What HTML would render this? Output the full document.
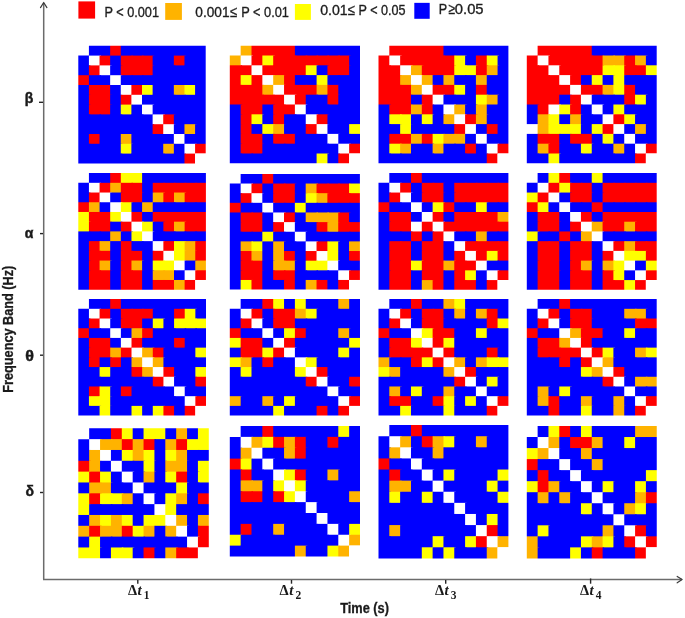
<!DOCTYPE html>
<html><head><meta charset="utf-8"><style>
html,body{margin:0;padding:0;background:#fff;}
#f{position:relative;width:685px;height:618px;overflow:hidden;background:#fff;}
svg{position:absolute;left:0;top:0;will-change:transform;}
text{font-family:"Liberation Sans",sans-serif;fill:#1a1a1a;}
.s{font-family:"Liberation Serif",serif;}
</style></head><body><div id="f">
<svg width="685" height="618" viewBox="0 0 685 618">
<defs><mask id="mb1" maskUnits="userSpaceOnUse" x="0" y="0" width="685" height="618"><path d="M88.92 45.8 L205.7 45.8 L205.7 153.6 L195.08 153.6 L195.08 163.4 L78.3 163.4 L78.3 55.6 L88.92 55.6Z" fill="#fff"/></mask>
<mask id="mb2" maskUnits="userSpaceOnUse" x="0" y="0" width="685" height="618"><path d="M240.65 45.7 L360 45.7 L360 153.5 L349.15 153.5 L349.15 163.3 L229.8 163.3 L229.8 55.5 L240.65 55.5Z" fill="#fff"/></mask>
<mask id="mb3" maskUnits="userSpaceOnUse" x="0" y="0" width="685" height="618"><path d="M389.32 45.7 L508.4 45.7 L508.4 153.5 L497.57 153.5 L497.57 163.3 L378.5 163.3 L378.5 55.5 L389.32 55.5Z" fill="#fff"/></mask>
<mask id="mb4" maskUnits="userSpaceOnUse" x="0" y="0" width="685" height="618"><path d="M537.62 45.7 L656.7 45.7 L656.7 153.5 L645.88 153.5 L645.88 163.3 L526.8 163.3 L526.8 55.5 L537.62 55.5Z" fill="#fff"/></mask>
<mask id="ma1" maskUnits="userSpaceOnUse" x="0" y="0" width="685" height="618"><path d="M88.93 173.1 L205.9 173.1 L205.9 279.98 L195.27 279.98 L195.27 289.7 L78.3 289.7 L78.3 182.82 L88.93 182.82Z" fill="#fff"/></mask>
<mask id="ma2" maskUnits="userSpaceOnUse" x="0" y="0" width="685" height="618"><path d="M240.64 173.9 L359.9 173.9 L359.9 279.96 L349.06 279.96 L349.06 289.6 L229.8 289.6 L229.8 183.54 L240.64 183.54Z" fill="#fff"/></mask>
<mask id="ma3" maskUnits="userSpaceOnUse" x="0" y="0" width="685" height="618"><path d="M389.32 173.1 L508.4 173.1 L508.4 280.08 L497.57 280.08 L497.57 289.8 L378.5 289.8 L378.5 182.82 L389.32 182.82Z" fill="#fff"/></mask>
<mask id="ma4" maskUnits="userSpaceOnUse" x="0" y="0" width="685" height="618"><path d="M537.62 173.1 L656.7 173.1 L656.7 280.08 L645.88 280.08 L645.88 289.8 L526.8 289.8 L526.8 182.82 L537.62 182.82Z" fill="#fff"/></mask>
<mask id="mt1" maskUnits="userSpaceOnUse" x="0" y="0" width="685" height="618"><path d="M88.94 299.1 L206 299.1 L206 405.89 L195.36 405.89 L195.36 415.6 L78.3 415.6 L78.3 308.81 L88.94 308.81Z" fill="#fff"/></mask>
<mask id="mt2" maskUnits="userSpaceOnUse" x="0" y="0" width="685" height="618"><path d="M240.65 299.1 L360 299.1 L360 405.89 L349.15 405.89 L349.15 415.6 L229.8 415.6 L229.8 308.81 L240.65 308.81Z" fill="#fff"/></mask>
<mask id="mt3" maskUnits="userSpaceOnUse" x="0" y="0" width="685" height="618"><path d="M389.32 299.1 L508.4 299.1 L508.4 405.89 L497.57 405.89 L497.57 415.6 L378.5 415.6 L378.5 308.81 L389.32 308.81Z" fill="#fff"/></mask>
<mask id="mt4" maskUnits="userSpaceOnUse" x="0" y="0" width="685" height="618"><path d="M537.62 299.1 L656.7 299.1 L656.7 405.89 L645.88 405.89 L645.88 415.6 L526.8 415.6 L526.8 308.81 L537.62 308.81Z" fill="#fff"/></mask>
<mask id="md1" maskUnits="userSpaceOnUse" x="0" y="0" width="685" height="618"><path d="M89.17 428.3 L208.8 428.3 L208.8 547.47 L197.93 547.47 L197.93 558.3 L78.3 558.3 L78.3 439.13 L89.17 439.13Z" fill="#fff"/></mask>
<mask id="md2" maskUnits="userSpaceOnUse" x="0" y="0" width="685" height="618"><path d="M240.65 426 L360 426 L360 545.62 L349.15 545.62 L349.15 556.5 L229.8 556.5 L229.8 436.88 L240.65 436.88Z" fill="#fff"/></mask>
<mask id="md3" maskUnits="userSpaceOnUse" x="0" y="0" width="685" height="618"><path d="M389.32 425.1 L508.4 425.1 L508.4 547.29 L497.57 547.29 L497.57 558.4 L378.5 558.4 L378.5 436.21 L389.32 436.21Z" fill="#fff"/></mask>
<mask id="md4" maskUnits="userSpaceOnUse" x="0" y="0" width="685" height="618"><path d="M537.63 426 L656.75 426 L656.75 547.37 L645.92 547.37 L645.92 558.4 L526.8 558.4 L526.8 437.03 L537.63 437.03Z" fill="#fff"/></mask></defs>
<g id="cells">
<g mask="url(#mb1)">
<rect x="86.92" y="43.8" width="14.12" height="13.3" fill="#0000ff"/>
<rect x="99.53" y="43.8" width="12.12" height="13.3" fill="#0000ff"/>
<rect x="110.15" y="43.8" width="12.12" height="13.3" fill="#ff0000"/>
<rect x="120.77" y="43.8" width="12.12" height="13.3" fill="#0000ff"/>
<rect x="131.38" y="43.8" width="12.12" height="13.3" fill="#0000ff"/>
<rect x="142" y="43.8" width="12.12" height="13.3" fill="#0000ff"/>
<rect x="152.62" y="43.8" width="12.12" height="13.3" fill="#0000ff"/>
<rect x="163.23" y="43.8" width="12.12" height="13.3" fill="#0000ff"/>
<rect x="173.85" y="43.8" width="12.12" height="13.3" fill="#0000ff"/>
<rect x="184.47" y="43.8" width="12.12" height="13.3" fill="#0000ff"/>
<rect x="195.08" y="43.8" width="12.62" height="13.3" fill="#0000ff"/>
<rect x="76.3" y="53.6" width="14.12" height="13.3" fill="#0000ff"/>
<rect x="88.92" y="55.6" width="12.12" height="11.3" fill="#ffffff"/>
<rect x="99.53" y="55.6" width="12.12" height="11.3" fill="#ff0000"/>
<rect x="110.15" y="55.6" width="12.12" height="11.3" fill="#0000ff"/>
<rect x="120.77" y="55.6" width="12.12" height="11.3" fill="#ff0000"/>
<rect x="131.38" y="55.6" width="12.12" height="11.3" fill="#ff0000"/>
<rect x="142" y="55.6" width="12.12" height="11.3" fill="#ff0000"/>
<rect x="152.62" y="55.6" width="12.12" height="11.3" fill="#0000ff"/>
<rect x="163.23" y="55.6" width="12.12" height="11.3" fill="#0000ff"/>
<rect x="173.85" y="55.6" width="12.12" height="11.3" fill="#ff0000"/>
<rect x="184.47" y="55.6" width="12.12" height="11.3" fill="#0000ff"/>
<rect x="195.08" y="55.6" width="12.62" height="11.3" fill="#0000ff"/>
<rect x="76.3" y="65.4" width="14.12" height="11.3" fill="#0000ff"/>
<rect x="88.92" y="65.4" width="12.12" height="11.3" fill="#ff0000"/>
<rect x="99.53" y="65.4" width="12.12" height="11.3" fill="#ffffff"/>
<rect x="110.15" y="65.4" width="12.12" height="11.3" fill="#0000ff"/>
<rect x="120.77" y="65.4" width="12.12" height="11.3" fill="#ff0000"/>
<rect x="131.38" y="65.4" width="12.12" height="11.3" fill="#ff0000"/>
<rect x="142" y="65.4" width="12.12" height="11.3" fill="#ff0000"/>
<rect x="152.62" y="65.4" width="12.12" height="11.3" fill="#0000ff"/>
<rect x="163.23" y="65.4" width="12.12" height="11.3" fill="#0000ff"/>
<rect x="173.85" y="65.4" width="12.12" height="11.3" fill="#0000ff"/>
<rect x="184.47" y="65.4" width="12.12" height="11.3" fill="#0000ff"/>
<rect x="195.08" y="65.4" width="12.62" height="11.3" fill="#0000ff"/>
<rect x="76.3" y="75.2" width="14.12" height="11.3" fill="#ff0000"/>
<rect x="88.92" y="75.2" width="12.12" height="11.3" fill="#0000ff"/>
<rect x="99.53" y="75.2" width="12.12" height="11.3" fill="#0000ff"/>
<rect x="110.15" y="75.2" width="12.12" height="11.3" fill="#ffffff"/>
<rect x="120.77" y="75.2" width="12.12" height="11.3" fill="#0000ff"/>
<rect x="131.38" y="75.2" width="12.12" height="11.3" fill="#0000ff"/>
<rect x="142" y="75.2" width="12.12" height="11.3" fill="#0000ff"/>
<rect x="152.62" y="75.2" width="12.12" height="11.3" fill="#0000ff"/>
<rect x="163.23" y="75.2" width="12.12" height="11.3" fill="#0000ff"/>
<rect x="173.85" y="75.2" width="12.12" height="11.3" fill="#0000ff"/>
<rect x="184.47" y="75.2" width="12.12" height="11.3" fill="#0000ff"/>
<rect x="195.08" y="75.2" width="12.62" height="11.3" fill="#0000ff"/>
<rect x="76.3" y="85" width="14.12" height="11.3" fill="#0000ff"/>
<rect x="88.92" y="85" width="12.12" height="11.3" fill="#ff0000"/>
<rect x="99.53" y="85" width="12.12" height="11.3" fill="#ff0000"/>
<rect x="110.15" y="85" width="12.12" height="11.3" fill="#0000ff"/>
<rect x="120.77" y="85" width="12.12" height="11.3" fill="#ffffff"/>
<rect x="131.38" y="85" width="12.12" height="11.3" fill="#ff0000"/>
<rect x="142" y="85" width="12.12" height="11.3" fill="#ffff00"/>
<rect x="152.62" y="85" width="12.12" height="11.3" fill="#0000ff"/>
<rect x="163.23" y="85" width="12.12" height="11.3" fill="#0000ff"/>
<rect x="173.85" y="85" width="12.12" height="11.3" fill="#ffb300"/>
<rect x="184.47" y="85" width="12.12" height="11.3" fill="#ffff00"/>
<rect x="195.08" y="85" width="12.62" height="11.3" fill="#0000ff"/>
<rect x="76.3" y="94.8" width="14.12" height="11.3" fill="#0000ff"/>
<rect x="88.92" y="94.8" width="12.12" height="11.3" fill="#ff0000"/>
<rect x="99.53" y="94.8" width="12.12" height="11.3" fill="#ff0000"/>
<rect x="110.15" y="94.8" width="12.12" height="11.3" fill="#0000ff"/>
<rect x="120.77" y="94.8" width="12.12" height="11.3" fill="#ff0000"/>
<rect x="131.38" y="94.8" width="12.12" height="11.3" fill="#ffffff"/>
<rect x="142" y="94.8" width="12.12" height="11.3" fill="#0000ff"/>
<rect x="152.62" y="94.8" width="12.12" height="11.3" fill="#0000ff"/>
<rect x="163.23" y="94.8" width="12.12" height="11.3" fill="#0000ff"/>
<rect x="173.85" y="94.8" width="12.12" height="11.3" fill="#0000ff"/>
<rect x="184.47" y="94.8" width="12.12" height="11.3" fill="#0000ff"/>
<rect x="195.08" y="94.8" width="12.62" height="11.3" fill="#0000ff"/>
<rect x="76.3" y="104.6" width="14.12" height="11.3" fill="#0000ff"/>
<rect x="88.92" y="104.6" width="12.12" height="11.3" fill="#ff0000"/>
<rect x="99.53" y="104.6" width="12.12" height="11.3" fill="#ff0000"/>
<rect x="110.15" y="104.6" width="12.12" height="11.3" fill="#0000ff"/>
<rect x="120.77" y="104.6" width="12.12" height="11.3" fill="#ffff00"/>
<rect x="131.38" y="104.6" width="12.12" height="11.3" fill="#0000ff"/>
<rect x="142" y="104.6" width="12.12" height="11.3" fill="#ffffff"/>
<rect x="152.62" y="104.6" width="12.12" height="11.3" fill="#0000ff"/>
<rect x="163.23" y="104.6" width="12.12" height="11.3" fill="#0000ff"/>
<rect x="173.85" y="104.6" width="12.12" height="11.3" fill="#0000ff"/>
<rect x="184.47" y="104.6" width="12.12" height="11.3" fill="#0000ff"/>
<rect x="195.08" y="104.6" width="12.62" height="11.3" fill="#0000ff"/>
<rect x="76.3" y="114.4" width="14.12" height="11.3" fill="#0000ff"/>
<rect x="88.92" y="114.4" width="12.12" height="11.3" fill="#0000ff"/>
<rect x="99.53" y="114.4" width="12.12" height="11.3" fill="#0000ff"/>
<rect x="110.15" y="114.4" width="12.12" height="11.3" fill="#0000ff"/>
<rect x="120.77" y="114.4" width="12.12" height="11.3" fill="#0000ff"/>
<rect x="131.38" y="114.4" width="12.12" height="11.3" fill="#0000ff"/>
<rect x="142" y="114.4" width="12.12" height="11.3" fill="#0000ff"/>
<rect x="152.62" y="114.4" width="12.12" height="11.3" fill="#ffffff"/>
<rect x="163.23" y="114.4" width="12.12" height="11.3" fill="#ff0000"/>
<rect x="173.85" y="114.4" width="12.12" height="11.3" fill="#0000ff"/>
<rect x="184.47" y="114.4" width="12.12" height="11.3" fill="#0000ff"/>
<rect x="195.08" y="114.4" width="12.62" height="11.3" fill="#0000ff"/>
<rect x="76.3" y="124.2" width="14.12" height="11.3" fill="#0000ff"/>
<rect x="88.92" y="124.2" width="12.12" height="11.3" fill="#0000ff"/>
<rect x="99.53" y="124.2" width="12.12" height="11.3" fill="#0000ff"/>
<rect x="110.15" y="124.2" width="12.12" height="11.3" fill="#0000ff"/>
<rect x="120.77" y="124.2" width="12.12" height="11.3" fill="#0000ff"/>
<rect x="131.38" y="124.2" width="12.12" height="11.3" fill="#0000ff"/>
<rect x="142" y="124.2" width="12.12" height="11.3" fill="#0000ff"/>
<rect x="152.62" y="124.2" width="12.12" height="11.3" fill="#ff0000"/>
<rect x="163.23" y="124.2" width="12.12" height="11.3" fill="#ffffff"/>
<rect x="173.85" y="124.2" width="12.12" height="11.3" fill="#0000ff"/>
<rect x="184.47" y="124.2" width="12.12" height="11.3" fill="#ffb300"/>
<rect x="195.08" y="124.2" width="12.62" height="11.3" fill="#0000ff"/>
<rect x="76.3" y="134" width="14.12" height="11.3" fill="#0000ff"/>
<rect x="88.92" y="134" width="12.12" height="11.3" fill="#ff0000"/>
<rect x="99.53" y="134" width="12.12" height="11.3" fill="#0000ff"/>
<rect x="110.15" y="134" width="12.12" height="11.3" fill="#0000ff"/>
<rect x="120.77" y="134" width="12.12" height="11.3" fill="#ffb300"/>
<rect x="131.38" y="134" width="12.12" height="11.3" fill="#0000ff"/>
<rect x="142" y="134" width="12.12" height="11.3" fill="#0000ff"/>
<rect x="152.62" y="134" width="12.12" height="11.3" fill="#0000ff"/>
<rect x="163.23" y="134" width="12.12" height="11.3" fill="#0000ff"/>
<rect x="173.85" y="134" width="12.12" height="11.3" fill="#ffffff"/>
<rect x="184.47" y="134" width="12.12" height="11.3" fill="#0000ff"/>
<rect x="195.08" y="134" width="12.62" height="11.3" fill="#0000ff"/>
<rect x="76.3" y="143.8" width="14.12" height="11.3" fill="#0000ff"/>
<rect x="88.92" y="143.8" width="12.12" height="11.3" fill="#0000ff"/>
<rect x="99.53" y="143.8" width="12.12" height="11.3" fill="#0000ff"/>
<rect x="110.15" y="143.8" width="12.12" height="11.3" fill="#0000ff"/>
<rect x="120.77" y="143.8" width="12.12" height="11.3" fill="#ffff00"/>
<rect x="131.38" y="143.8" width="12.12" height="11.3" fill="#0000ff"/>
<rect x="142" y="143.8" width="12.12" height="11.3" fill="#0000ff"/>
<rect x="152.62" y="143.8" width="12.12" height="11.3" fill="#0000ff"/>
<rect x="163.23" y="143.8" width="12.12" height="11.3" fill="#ffb300"/>
<rect x="173.85" y="143.8" width="12.12" height="11.3" fill="#0000ff"/>
<rect x="184.47" y="143.8" width="12.12" height="11.3" fill="#ffffff"/>
<rect x="195.08" y="143.8" width="12.62" height="11.3" fill="#ff0000"/>
<rect x="76.3" y="153.6" width="14.12" height="11.8" fill="#0000ff"/>
<rect x="88.92" y="153.6" width="12.12" height="11.8" fill="#0000ff"/>
<rect x="99.53" y="153.6" width="12.12" height="11.8" fill="#0000ff"/>
<rect x="110.15" y="153.6" width="12.12" height="11.8" fill="#0000ff"/>
<rect x="120.77" y="153.6" width="12.12" height="11.8" fill="#0000ff"/>
<rect x="131.38" y="153.6" width="12.12" height="11.8" fill="#0000ff"/>
<rect x="142" y="153.6" width="12.12" height="11.8" fill="#0000ff"/>
<rect x="152.62" y="153.6" width="12.12" height="11.8" fill="#0000ff"/>
<rect x="163.23" y="153.6" width="12.12" height="11.8" fill="#0000ff"/>
<rect x="173.85" y="153.6" width="12.12" height="11.8" fill="#0000ff"/>
<rect x="184.47" y="153.6" width="12.12" height="11.8" fill="#ff0000"/>
<rect x="195.08" y="153.6" width="12.62" height="11.8" fill="#ffffff"/>
</g>
<g mask="url(#mb2)">
<rect x="238.65" y="43.7" width="14.35" height="13.3" fill="#ffb300"/>
<rect x="251.5" y="43.7" width="12.35" height="13.3" fill="#ff0000"/>
<rect x="262.35" y="43.7" width="12.35" height="13.3" fill="#ff0000"/>
<rect x="273.2" y="43.7" width="12.35" height="13.3" fill="#ff0000"/>
<rect x="284.05" y="43.7" width="12.35" height="13.3" fill="#ff0000"/>
<rect x="294.9" y="43.7" width="12.35" height="13.3" fill="#0000ff"/>
<rect x="305.75" y="43.7" width="12.35" height="13.3" fill="#0000ff"/>
<rect x="316.6" y="43.7" width="12.35" height="13.3" fill="#0000ff"/>
<rect x="327.45" y="43.7" width="12.35" height="13.3" fill="#0000ff"/>
<rect x="338.3" y="43.7" width="12.35" height="13.3" fill="#0000ff"/>
<rect x="349.15" y="43.7" width="12.85" height="13.3" fill="#0000ff"/>
<rect x="227.8" y="53.5" width="14.35" height="13.3" fill="#ffb300"/>
<rect x="240.65" y="55.5" width="12.35" height="11.3" fill="#ffffff"/>
<rect x="251.5" y="55.5" width="12.35" height="11.3" fill="#ff0000"/>
<rect x="262.35" y="55.5" width="12.35" height="11.3" fill="#ffff00"/>
<rect x="273.2" y="55.5" width="12.35" height="11.3" fill="#ff0000"/>
<rect x="284.05" y="55.5" width="12.35" height="11.3" fill="#ff0000"/>
<rect x="294.9" y="55.5" width="12.35" height="11.3" fill="#ff0000"/>
<rect x="305.75" y="55.5" width="12.35" height="11.3" fill="#ff0000"/>
<rect x="316.6" y="55.5" width="12.35" height="11.3" fill="#ff0000"/>
<rect x="327.45" y="55.5" width="12.35" height="11.3" fill="#ff0000"/>
<rect x="338.3" y="55.5" width="12.35" height="11.3" fill="#ff0000"/>
<rect x="349.15" y="55.5" width="12.85" height="11.3" fill="#0000ff"/>
<rect x="227.8" y="65.3" width="14.35" height="11.3" fill="#ff0000"/>
<rect x="240.65" y="65.3" width="12.35" height="11.3" fill="#ff0000"/>
<rect x="251.5" y="65.3" width="12.35" height="11.3" fill="#ffffff"/>
<rect x="262.35" y="65.3" width="12.35" height="11.3" fill="#ff0000"/>
<rect x="273.2" y="65.3" width="12.35" height="11.3" fill="#ff0000"/>
<rect x="284.05" y="65.3" width="12.35" height="11.3" fill="#ff0000"/>
<rect x="294.9" y="65.3" width="12.35" height="11.3" fill="#ff0000"/>
<rect x="305.75" y="65.3" width="12.35" height="11.3" fill="#ffff00"/>
<rect x="316.6" y="65.3" width="12.35" height="11.3" fill="#0000ff"/>
<rect x="327.45" y="65.3" width="12.35" height="11.3" fill="#ff0000"/>
<rect x="338.3" y="65.3" width="12.35" height="11.3" fill="#ff0000"/>
<rect x="349.15" y="65.3" width="12.85" height="11.3" fill="#0000ff"/>
<rect x="227.8" y="75.1" width="14.35" height="11.3" fill="#ff0000"/>
<rect x="240.65" y="75.1" width="12.35" height="11.3" fill="#ffff00"/>
<rect x="251.5" y="75.1" width="12.35" height="11.3" fill="#ff0000"/>
<rect x="262.35" y="75.1" width="12.35" height="11.3" fill="#ffffff"/>
<rect x="273.2" y="75.1" width="12.35" height="11.3" fill="#ffb300"/>
<rect x="284.05" y="75.1" width="12.35" height="11.3" fill="#ff0000"/>
<rect x="294.9" y="75.1" width="12.35" height="11.3" fill="#0000ff"/>
<rect x="305.75" y="75.1" width="12.35" height="11.3" fill="#0000ff"/>
<rect x="316.6" y="75.1" width="12.35" height="11.3" fill="#ffff00"/>
<rect x="327.45" y="75.1" width="12.35" height="11.3" fill="#0000ff"/>
<rect x="338.3" y="75.1" width="12.35" height="11.3" fill="#0000ff"/>
<rect x="349.15" y="75.1" width="12.85" height="11.3" fill="#0000ff"/>
<rect x="227.8" y="84.9" width="14.35" height="11.3" fill="#ff0000"/>
<rect x="240.65" y="84.9" width="12.35" height="11.3" fill="#ff0000"/>
<rect x="251.5" y="84.9" width="12.35" height="11.3" fill="#ff0000"/>
<rect x="262.35" y="84.9" width="12.35" height="11.3" fill="#ffb300"/>
<rect x="273.2" y="84.9" width="12.35" height="11.3" fill="#ffffff"/>
<rect x="284.05" y="84.9" width="12.35" height="11.3" fill="#ff0000"/>
<rect x="294.9" y="84.9" width="12.35" height="11.3" fill="#ff0000"/>
<rect x="305.75" y="84.9" width="12.35" height="11.3" fill="#ff0000"/>
<rect x="316.6" y="84.9" width="12.35" height="11.3" fill="#ffb300"/>
<rect x="327.45" y="84.9" width="12.35" height="11.3" fill="#ff0000"/>
<rect x="338.3" y="84.9" width="12.35" height="11.3" fill="#0000ff"/>
<rect x="349.15" y="84.9" width="12.85" height="11.3" fill="#0000ff"/>
<rect x="227.8" y="94.7" width="14.35" height="11.3" fill="#ff0000"/>
<rect x="240.65" y="94.7" width="12.35" height="11.3" fill="#ff0000"/>
<rect x="251.5" y="94.7" width="12.35" height="11.3" fill="#ff0000"/>
<rect x="262.35" y="94.7" width="12.35" height="11.3" fill="#ff0000"/>
<rect x="273.2" y="94.7" width="12.35" height="11.3" fill="#ff0000"/>
<rect x="284.05" y="94.7" width="12.35" height="11.3" fill="#ffffff"/>
<rect x="294.9" y="94.7" width="12.35" height="11.3" fill="#ff0000"/>
<rect x="305.75" y="94.7" width="12.35" height="11.3" fill="#0000ff"/>
<rect x="316.6" y="94.7" width="12.35" height="11.3" fill="#0000ff"/>
<rect x="327.45" y="94.7" width="12.35" height="11.3" fill="#ff0000"/>
<rect x="338.3" y="94.7" width="12.35" height="11.3" fill="#0000ff"/>
<rect x="349.15" y="94.7" width="12.85" height="11.3" fill="#0000ff"/>
<rect x="227.8" y="104.5" width="14.35" height="11.3" fill="#0000ff"/>
<rect x="240.65" y="104.5" width="12.35" height="11.3" fill="#ff0000"/>
<rect x="251.5" y="104.5" width="12.35" height="11.3" fill="#ff0000"/>
<rect x="262.35" y="104.5" width="12.35" height="11.3" fill="#0000ff"/>
<rect x="273.2" y="104.5" width="12.35" height="11.3" fill="#ff0000"/>
<rect x="284.05" y="104.5" width="12.35" height="11.3" fill="#ff0000"/>
<rect x="294.9" y="104.5" width="12.35" height="11.3" fill="#ffffff"/>
<rect x="305.75" y="104.5" width="12.35" height="11.3" fill="#0000ff"/>
<rect x="316.6" y="104.5" width="12.35" height="11.3" fill="#0000ff"/>
<rect x="327.45" y="104.5" width="12.35" height="11.3" fill="#0000ff"/>
<rect x="338.3" y="104.5" width="12.35" height="11.3" fill="#0000ff"/>
<rect x="349.15" y="104.5" width="12.85" height="11.3" fill="#0000ff"/>
<rect x="227.8" y="114.3" width="14.35" height="11.3" fill="#0000ff"/>
<rect x="240.65" y="114.3" width="12.35" height="11.3" fill="#ff0000"/>
<rect x="251.5" y="114.3" width="12.35" height="11.3" fill="#ffff00"/>
<rect x="262.35" y="114.3" width="12.35" height="11.3" fill="#0000ff"/>
<rect x="273.2" y="114.3" width="12.35" height="11.3" fill="#ff0000"/>
<rect x="284.05" y="114.3" width="12.35" height="11.3" fill="#0000ff"/>
<rect x="294.9" y="114.3" width="12.35" height="11.3" fill="#0000ff"/>
<rect x="305.75" y="114.3" width="12.35" height="11.3" fill="#ffffff"/>
<rect x="316.6" y="114.3" width="12.35" height="11.3" fill="#ff0000"/>
<rect x="327.45" y="114.3" width="12.35" height="11.3" fill="#0000ff"/>
<rect x="338.3" y="114.3" width="12.35" height="11.3" fill="#0000ff"/>
<rect x="349.15" y="114.3" width="12.85" height="11.3" fill="#0000ff"/>
<rect x="227.8" y="124.1" width="14.35" height="11.3" fill="#0000ff"/>
<rect x="240.65" y="124.1" width="12.35" height="11.3" fill="#ff0000"/>
<rect x="251.5" y="124.1" width="12.35" height="11.3" fill="#0000ff"/>
<rect x="262.35" y="124.1" width="12.35" height="11.3" fill="#ffff00"/>
<rect x="273.2" y="124.1" width="12.35" height="11.3" fill="#ffb300"/>
<rect x="284.05" y="124.1" width="12.35" height="11.3" fill="#0000ff"/>
<rect x="294.9" y="124.1" width="12.35" height="11.3" fill="#0000ff"/>
<rect x="305.75" y="124.1" width="12.35" height="11.3" fill="#ff0000"/>
<rect x="316.6" y="124.1" width="12.35" height="11.3" fill="#ffffff"/>
<rect x="327.45" y="124.1" width="12.35" height="11.3" fill="#0000ff"/>
<rect x="338.3" y="124.1" width="12.35" height="11.3" fill="#0000ff"/>
<rect x="349.15" y="124.1" width="12.85" height="11.3" fill="#ffff00"/>
<rect x="227.8" y="133.9" width="14.35" height="11.3" fill="#0000ff"/>
<rect x="240.65" y="133.9" width="12.35" height="11.3" fill="#ff0000"/>
<rect x="251.5" y="133.9" width="12.35" height="11.3" fill="#ff0000"/>
<rect x="262.35" y="133.9" width="12.35" height="11.3" fill="#0000ff"/>
<rect x="273.2" y="133.9" width="12.35" height="11.3" fill="#ff0000"/>
<rect x="284.05" y="133.9" width="12.35" height="11.3" fill="#ff0000"/>
<rect x="294.9" y="133.9" width="12.35" height="11.3" fill="#0000ff"/>
<rect x="305.75" y="133.9" width="12.35" height="11.3" fill="#0000ff"/>
<rect x="316.6" y="133.9" width="12.35" height="11.3" fill="#0000ff"/>
<rect x="327.45" y="133.9" width="12.35" height="11.3" fill="#ffffff"/>
<rect x="338.3" y="133.9" width="12.35" height="11.3" fill="#0000ff"/>
<rect x="349.15" y="133.9" width="12.85" height="11.3" fill="#0000ff"/>
<rect x="227.8" y="143.7" width="14.35" height="11.3" fill="#0000ff"/>
<rect x="240.65" y="143.7" width="12.35" height="11.3" fill="#ff0000"/>
<rect x="251.5" y="143.7" width="12.35" height="11.3" fill="#ff0000"/>
<rect x="262.35" y="143.7" width="12.35" height="11.3" fill="#0000ff"/>
<rect x="273.2" y="143.7" width="12.35" height="11.3" fill="#0000ff"/>
<rect x="284.05" y="143.7" width="12.35" height="11.3" fill="#0000ff"/>
<rect x="294.9" y="143.7" width="12.35" height="11.3" fill="#0000ff"/>
<rect x="305.75" y="143.7" width="12.35" height="11.3" fill="#0000ff"/>
<rect x="316.6" y="143.7" width="12.35" height="11.3" fill="#0000ff"/>
<rect x="327.45" y="143.7" width="12.35" height="11.3" fill="#0000ff"/>
<rect x="338.3" y="143.7" width="12.35" height="11.3" fill="#ffffff"/>
<rect x="349.15" y="143.7" width="12.85" height="11.3" fill="#ff0000"/>
<rect x="227.8" y="153.5" width="14.35" height="11.8" fill="#0000ff"/>
<rect x="240.65" y="153.5" width="12.35" height="11.8" fill="#0000ff"/>
<rect x="251.5" y="153.5" width="12.35" height="11.8" fill="#0000ff"/>
<rect x="262.35" y="153.5" width="12.35" height="11.8" fill="#0000ff"/>
<rect x="273.2" y="153.5" width="12.35" height="11.8" fill="#0000ff"/>
<rect x="284.05" y="153.5" width="12.35" height="11.8" fill="#0000ff"/>
<rect x="294.9" y="153.5" width="12.35" height="11.8" fill="#0000ff"/>
<rect x="305.75" y="153.5" width="12.35" height="11.8" fill="#0000ff"/>
<rect x="316.6" y="153.5" width="12.35" height="11.8" fill="#ffff00"/>
<rect x="327.45" y="153.5" width="12.35" height="11.8" fill="#0000ff"/>
<rect x="338.3" y="153.5" width="12.35" height="11.8" fill="#ff0000"/>
<rect x="349.15" y="153.5" width="12.85" height="11.8" fill="#ffffff"/>
</g>
<g mask="url(#mb3)">
<rect x="387.32" y="43.7" width="14.32" height="13.3" fill="#ff0000"/>
<rect x="400.15" y="43.7" width="12.33" height="13.3" fill="#ff0000"/>
<rect x="410.98" y="43.7" width="12.32" height="13.3" fill="#ff0000"/>
<rect x="421.8" y="43.7" width="12.32" height="13.3" fill="#ff0000"/>
<rect x="432.62" y="43.7" width="12.32" height="13.3" fill="#ff0000"/>
<rect x="443.45" y="43.7" width="12.32" height="13.3" fill="#0000ff"/>
<rect x="454.27" y="43.7" width="12.32" height="13.3" fill="#0000ff"/>
<rect x="465.1" y="43.7" width="12.32" height="13.3" fill="#0000ff"/>
<rect x="475.92" y="43.7" width="12.33" height="13.3" fill="#0000ff"/>
<rect x="486.75" y="43.7" width="12.32" height="13.3" fill="#0000ff"/>
<rect x="497.57" y="43.7" width="12.82" height="13.3" fill="#0000ff"/>
<rect x="376.5" y="53.5" width="14.32" height="13.3" fill="#ff0000"/>
<rect x="389.32" y="55.5" width="12.32" height="11.3" fill="#ffffff"/>
<rect x="400.15" y="55.5" width="12.33" height="11.3" fill="#ff0000"/>
<rect x="410.98" y="55.5" width="12.32" height="11.3" fill="#ff0000"/>
<rect x="421.8" y="55.5" width="12.32" height="11.3" fill="#ff0000"/>
<rect x="432.62" y="55.5" width="12.32" height="11.3" fill="#ff0000"/>
<rect x="443.45" y="55.5" width="12.32" height="11.3" fill="#ff0000"/>
<rect x="454.27" y="55.5" width="12.32" height="11.3" fill="#ffff00"/>
<rect x="465.1" y="55.5" width="12.32" height="11.3" fill="#0000ff"/>
<rect x="475.92" y="55.5" width="12.33" height="11.3" fill="#ff0000"/>
<rect x="486.75" y="55.5" width="12.32" height="11.3" fill="#ffff00"/>
<rect x="497.57" y="55.5" width="12.82" height="11.3" fill="#0000ff"/>
<rect x="376.5" y="65.3" width="14.32" height="11.3" fill="#ff0000"/>
<rect x="389.32" y="65.3" width="12.32" height="11.3" fill="#ff0000"/>
<rect x="400.15" y="65.3" width="12.33" height="11.3" fill="#ffffff"/>
<rect x="410.98" y="65.3" width="12.32" height="11.3" fill="#ffb300"/>
<rect x="421.8" y="65.3" width="12.32" height="11.3" fill="#ff0000"/>
<rect x="432.62" y="65.3" width="12.32" height="11.3" fill="#ff0000"/>
<rect x="443.45" y="65.3" width="12.32" height="11.3" fill="#ff0000"/>
<rect x="454.27" y="65.3" width="12.32" height="11.3" fill="#ffff00"/>
<rect x="465.1" y="65.3" width="12.32" height="11.3" fill="#ffff00"/>
<rect x="475.92" y="65.3" width="12.33" height="11.3" fill="#ff0000"/>
<rect x="486.75" y="65.3" width="12.32" height="11.3" fill="#ffb300"/>
<rect x="497.57" y="65.3" width="12.82" height="11.3" fill="#0000ff"/>
<rect x="376.5" y="75.1" width="14.32" height="11.3" fill="#ff0000"/>
<rect x="389.32" y="75.1" width="12.32" height="11.3" fill="#ff0000"/>
<rect x="400.15" y="75.1" width="12.33" height="11.3" fill="#ffb300"/>
<rect x="410.98" y="75.1" width="12.32" height="11.3" fill="#ffffff"/>
<rect x="421.8" y="75.1" width="12.32" height="11.3" fill="#ffb300"/>
<rect x="432.62" y="75.1" width="12.32" height="11.3" fill="#0000ff"/>
<rect x="443.45" y="75.1" width="12.32" height="11.3" fill="#ffb300"/>
<rect x="454.27" y="75.1" width="12.32" height="11.3" fill="#0000ff"/>
<rect x="465.1" y="75.1" width="12.32" height="11.3" fill="#0000ff"/>
<rect x="475.92" y="75.1" width="12.33" height="11.3" fill="#ffb300"/>
<rect x="486.75" y="75.1" width="12.32" height="11.3" fill="#0000ff"/>
<rect x="497.57" y="75.1" width="12.82" height="11.3" fill="#0000ff"/>
<rect x="376.5" y="84.9" width="14.32" height="11.3" fill="#ff0000"/>
<rect x="389.32" y="84.9" width="12.32" height="11.3" fill="#ff0000"/>
<rect x="400.15" y="84.9" width="12.33" height="11.3" fill="#ff0000"/>
<rect x="410.98" y="84.9" width="12.32" height="11.3" fill="#ffb300"/>
<rect x="421.8" y="84.9" width="12.32" height="11.3" fill="#ffffff"/>
<rect x="432.62" y="84.9" width="12.32" height="11.3" fill="#ff0000"/>
<rect x="443.45" y="84.9" width="12.32" height="11.3" fill="#ff0000"/>
<rect x="454.27" y="84.9" width="12.32" height="11.3" fill="#ffff00"/>
<rect x="465.1" y="84.9" width="12.32" height="11.3" fill="#0000ff"/>
<rect x="475.92" y="84.9" width="12.33" height="11.3" fill="#ff0000"/>
<rect x="486.75" y="84.9" width="12.32" height="11.3" fill="#0000ff"/>
<rect x="497.57" y="84.9" width="12.82" height="11.3" fill="#0000ff"/>
<rect x="376.5" y="94.7" width="14.32" height="11.3" fill="#ff0000"/>
<rect x="389.32" y="94.7" width="12.32" height="11.3" fill="#ff0000"/>
<rect x="400.15" y="94.7" width="12.33" height="11.3" fill="#ff0000"/>
<rect x="410.98" y="94.7" width="12.32" height="11.3" fill="#0000ff"/>
<rect x="421.8" y="94.7" width="12.32" height="11.3" fill="#ff0000"/>
<rect x="432.62" y="94.7" width="12.32" height="11.3" fill="#ffffff"/>
<rect x="443.45" y="94.7" width="12.32" height="11.3" fill="#0000ff"/>
<rect x="454.27" y="94.7" width="12.32" height="11.3" fill="#0000ff"/>
<rect x="465.1" y="94.7" width="12.32" height="11.3" fill="#0000ff"/>
<rect x="475.92" y="94.7" width="12.33" height="11.3" fill="#ffff00"/>
<rect x="486.75" y="94.7" width="12.32" height="11.3" fill="#ffb300"/>
<rect x="497.57" y="94.7" width="12.82" height="11.3" fill="#0000ff"/>
<rect x="376.5" y="104.5" width="14.32" height="11.3" fill="#0000ff"/>
<rect x="389.32" y="104.5" width="12.32" height="11.3" fill="#ff0000"/>
<rect x="400.15" y="104.5" width="12.33" height="11.3" fill="#ff0000"/>
<rect x="410.98" y="104.5" width="12.32" height="11.3" fill="#ffb300"/>
<rect x="421.8" y="104.5" width="12.32" height="11.3" fill="#ff0000"/>
<rect x="432.62" y="104.5" width="12.32" height="11.3" fill="#0000ff"/>
<rect x="443.45" y="104.5" width="12.32" height="11.3" fill="#ffffff"/>
<rect x="454.27" y="104.5" width="12.32" height="11.3" fill="#ffb300"/>
<rect x="465.1" y="104.5" width="12.32" height="11.3" fill="#0000ff"/>
<rect x="475.92" y="104.5" width="12.33" height="11.3" fill="#ffb300"/>
<rect x="486.75" y="104.5" width="12.32" height="11.3" fill="#0000ff"/>
<rect x="497.57" y="104.5" width="12.82" height="11.3" fill="#0000ff"/>
<rect x="376.5" y="114.3" width="14.32" height="11.3" fill="#0000ff"/>
<rect x="389.32" y="114.3" width="12.32" height="11.3" fill="#ffff00"/>
<rect x="400.15" y="114.3" width="12.33" height="11.3" fill="#ffff00"/>
<rect x="410.98" y="114.3" width="12.32" height="11.3" fill="#0000ff"/>
<rect x="421.8" y="114.3" width="12.32" height="11.3" fill="#ffff00"/>
<rect x="432.62" y="114.3" width="12.32" height="11.3" fill="#0000ff"/>
<rect x="443.45" y="114.3" width="12.32" height="11.3" fill="#ffb300"/>
<rect x="454.27" y="114.3" width="12.32" height="11.3" fill="#ffffff"/>
<rect x="465.1" y="114.3" width="12.32" height="11.3" fill="#ff0000"/>
<rect x="475.92" y="114.3" width="12.33" height="11.3" fill="#ffb300"/>
<rect x="486.75" y="114.3" width="12.32" height="11.3" fill="#0000ff"/>
<rect x="497.57" y="114.3" width="12.82" height="11.3" fill="#0000ff"/>
<rect x="376.5" y="124.1" width="14.32" height="11.3" fill="#0000ff"/>
<rect x="389.32" y="124.1" width="12.32" height="11.3" fill="#0000ff"/>
<rect x="400.15" y="124.1" width="12.33" height="11.3" fill="#ffff00"/>
<rect x="410.98" y="124.1" width="12.32" height="11.3" fill="#0000ff"/>
<rect x="421.8" y="124.1" width="12.32" height="11.3" fill="#0000ff"/>
<rect x="432.62" y="124.1" width="12.32" height="11.3" fill="#0000ff"/>
<rect x="443.45" y="124.1" width="12.32" height="11.3" fill="#0000ff"/>
<rect x="454.27" y="124.1" width="12.32" height="11.3" fill="#ff0000"/>
<rect x="465.1" y="124.1" width="12.32" height="11.3" fill="#ffffff"/>
<rect x="475.92" y="124.1" width="12.33" height="11.3" fill="#0000ff"/>
<rect x="486.75" y="124.1" width="12.32" height="11.3" fill="#ff0000"/>
<rect x="497.57" y="124.1" width="12.82" height="11.3" fill="#0000ff"/>
<rect x="376.5" y="133.9" width="14.32" height="11.3" fill="#0000ff"/>
<rect x="389.32" y="133.9" width="12.32" height="11.3" fill="#ff0000"/>
<rect x="400.15" y="133.9" width="12.33" height="11.3" fill="#ff0000"/>
<rect x="410.98" y="133.9" width="12.32" height="11.3" fill="#ffb300"/>
<rect x="421.8" y="133.9" width="12.32" height="11.3" fill="#ff0000"/>
<rect x="432.62" y="133.9" width="12.32" height="11.3" fill="#ffff00"/>
<rect x="443.45" y="133.9" width="12.32" height="11.3" fill="#ffb300"/>
<rect x="454.27" y="133.9" width="12.32" height="11.3" fill="#ffb300"/>
<rect x="465.1" y="133.9" width="12.32" height="11.3" fill="#0000ff"/>
<rect x="475.92" y="133.9" width="12.33" height="11.3" fill="#ffffff"/>
<rect x="486.75" y="133.9" width="12.32" height="11.3" fill="#0000ff"/>
<rect x="497.57" y="133.9" width="12.82" height="11.3" fill="#0000ff"/>
<rect x="376.5" y="143.7" width="14.32" height="11.3" fill="#0000ff"/>
<rect x="389.32" y="143.7" width="12.32" height="11.3" fill="#ffff00"/>
<rect x="400.15" y="143.7" width="12.33" height="11.3" fill="#ffb300"/>
<rect x="410.98" y="143.7" width="12.32" height="11.3" fill="#0000ff"/>
<rect x="421.8" y="143.7" width="12.32" height="11.3" fill="#0000ff"/>
<rect x="432.62" y="143.7" width="12.32" height="11.3" fill="#ffb300"/>
<rect x="443.45" y="143.7" width="12.32" height="11.3" fill="#0000ff"/>
<rect x="454.27" y="143.7" width="12.32" height="11.3" fill="#0000ff"/>
<rect x="465.1" y="143.7" width="12.32" height="11.3" fill="#ff0000"/>
<rect x="475.92" y="143.7" width="12.33" height="11.3" fill="#0000ff"/>
<rect x="486.75" y="143.7" width="12.32" height="11.3" fill="#ffffff"/>
<rect x="497.57" y="143.7" width="12.82" height="11.3" fill="#ff0000"/>
<rect x="376.5" y="153.5" width="14.32" height="11.8" fill="#0000ff"/>
<rect x="389.32" y="153.5" width="12.32" height="11.8" fill="#0000ff"/>
<rect x="400.15" y="153.5" width="12.33" height="11.8" fill="#0000ff"/>
<rect x="410.98" y="153.5" width="12.32" height="11.8" fill="#0000ff"/>
<rect x="421.8" y="153.5" width="12.32" height="11.8" fill="#0000ff"/>
<rect x="432.62" y="153.5" width="12.32" height="11.8" fill="#0000ff"/>
<rect x="443.45" y="153.5" width="12.32" height="11.8" fill="#0000ff"/>
<rect x="454.27" y="153.5" width="12.32" height="11.8" fill="#0000ff"/>
<rect x="465.1" y="153.5" width="12.32" height="11.8" fill="#0000ff"/>
<rect x="475.92" y="153.5" width="12.33" height="11.8" fill="#0000ff"/>
<rect x="486.75" y="153.5" width="12.32" height="11.8" fill="#ff0000"/>
<rect x="497.57" y="153.5" width="12.82" height="11.8" fill="#ffffff"/>
</g>
<g mask="url(#mb4)">
<rect x="535.62" y="43.7" width="14.32" height="13.3" fill="#ff0000"/>
<rect x="548.45" y="43.7" width="12.33" height="13.3" fill="#ff0000"/>
<rect x="559.27" y="43.7" width="12.33" height="13.3" fill="#ff0000"/>
<rect x="570.1" y="43.7" width="12.32" height="13.3" fill="#ff0000"/>
<rect x="580.92" y="43.7" width="12.33" height="13.3" fill="#ff0000"/>
<rect x="591.75" y="43.7" width="12.33" height="13.3" fill="#0000ff"/>
<rect x="602.58" y="43.7" width="12.32" height="13.3" fill="#0000ff"/>
<rect x="613.4" y="43.7" width="12.33" height="13.3" fill="#0000ff"/>
<rect x="624.23" y="43.7" width="12.33" height="13.3" fill="#0000ff"/>
<rect x="635.05" y="43.7" width="12.32" height="13.3" fill="#0000ff"/>
<rect x="645.88" y="43.7" width="12.83" height="13.3" fill="#0000ff"/>
<rect x="524.8" y="53.5" width="14.33" height="13.3" fill="#ff0000"/>
<rect x="537.62" y="55.5" width="12.32" height="11.3" fill="#ffffff"/>
<rect x="548.45" y="55.5" width="12.33" height="11.3" fill="#ff0000"/>
<rect x="559.27" y="55.5" width="12.33" height="11.3" fill="#ff0000"/>
<rect x="570.1" y="55.5" width="12.32" height="11.3" fill="#ff0000"/>
<rect x="580.92" y="55.5" width="12.33" height="11.3" fill="#ff0000"/>
<rect x="591.75" y="55.5" width="12.33" height="11.3" fill="#ff0000"/>
<rect x="602.58" y="55.5" width="12.32" height="11.3" fill="#ffb300"/>
<rect x="613.4" y="55.5" width="12.33" height="11.3" fill="#ffb300"/>
<rect x="624.23" y="55.5" width="12.33" height="11.3" fill="#ff0000"/>
<rect x="635.05" y="55.5" width="12.32" height="11.3" fill="#ffb300"/>
<rect x="645.88" y="55.5" width="12.83" height="11.3" fill="#0000ff"/>
<rect x="524.8" y="65.3" width="14.33" height="11.3" fill="#ff0000"/>
<rect x="537.62" y="65.3" width="12.32" height="11.3" fill="#ff0000"/>
<rect x="548.45" y="65.3" width="12.33" height="11.3" fill="#ffffff"/>
<rect x="559.27" y="65.3" width="12.33" height="11.3" fill="#ff0000"/>
<rect x="570.1" y="65.3" width="12.32" height="11.3" fill="#ff0000"/>
<rect x="580.92" y="65.3" width="12.33" height="11.3" fill="#ff0000"/>
<rect x="591.75" y="65.3" width="12.33" height="11.3" fill="#ff0000"/>
<rect x="602.58" y="65.3" width="12.32" height="11.3" fill="#ffff00"/>
<rect x="613.4" y="65.3" width="12.33" height="11.3" fill="#ffff00"/>
<rect x="624.23" y="65.3" width="12.33" height="11.3" fill="#ff0000"/>
<rect x="635.05" y="65.3" width="12.32" height="11.3" fill="#ff0000"/>
<rect x="645.88" y="65.3" width="12.83" height="11.3" fill="#ffff00"/>
<rect x="524.8" y="75.1" width="14.33" height="11.3" fill="#ff0000"/>
<rect x="537.62" y="75.1" width="12.32" height="11.3" fill="#ff0000"/>
<rect x="548.45" y="75.1" width="12.33" height="11.3" fill="#ff0000"/>
<rect x="559.27" y="75.1" width="12.33" height="11.3" fill="#ffffff"/>
<rect x="570.1" y="75.1" width="12.32" height="11.3" fill="#ff0000"/>
<rect x="580.92" y="75.1" width="12.33" height="11.3" fill="#0000ff"/>
<rect x="591.75" y="75.1" width="12.33" height="11.3" fill="#ffff00"/>
<rect x="602.58" y="75.1" width="12.32" height="11.3" fill="#0000ff"/>
<rect x="613.4" y="75.1" width="12.33" height="11.3" fill="#ffff00"/>
<rect x="624.23" y="75.1" width="12.33" height="11.3" fill="#0000ff"/>
<rect x="635.05" y="75.1" width="12.32" height="11.3" fill="#0000ff"/>
<rect x="645.88" y="75.1" width="12.83" height="11.3" fill="#0000ff"/>
<rect x="524.8" y="84.9" width="14.33" height="11.3" fill="#ff0000"/>
<rect x="537.62" y="84.9" width="12.32" height="11.3" fill="#ff0000"/>
<rect x="548.45" y="84.9" width="12.33" height="11.3" fill="#ff0000"/>
<rect x="559.27" y="84.9" width="12.33" height="11.3" fill="#ff0000"/>
<rect x="570.1" y="84.9" width="12.32" height="11.3" fill="#ffffff"/>
<rect x="580.92" y="84.9" width="12.33" height="11.3" fill="#ff0000"/>
<rect x="591.75" y="84.9" width="12.33" height="11.3" fill="#ff0000"/>
<rect x="602.58" y="84.9" width="12.32" height="11.3" fill="#ffb300"/>
<rect x="613.4" y="84.9" width="12.33" height="11.3" fill="#ffff00"/>
<rect x="624.23" y="84.9" width="12.33" height="11.3" fill="#ff0000"/>
<rect x="635.05" y="84.9" width="12.32" height="11.3" fill="#0000ff"/>
<rect x="645.88" y="84.9" width="12.83" height="11.3" fill="#0000ff"/>
<rect x="524.8" y="94.7" width="14.33" height="11.3" fill="#ff0000"/>
<rect x="537.62" y="94.7" width="12.32" height="11.3" fill="#ff0000"/>
<rect x="548.45" y="94.7" width="12.33" height="11.3" fill="#ff0000"/>
<rect x="559.27" y="94.7" width="12.33" height="11.3" fill="#0000ff"/>
<rect x="570.1" y="94.7" width="12.32" height="11.3" fill="#ff0000"/>
<rect x="580.92" y="94.7" width="12.33" height="11.3" fill="#ffffff"/>
<rect x="591.75" y="94.7" width="12.33" height="11.3" fill="#0000ff"/>
<rect x="602.58" y="94.7" width="12.32" height="11.3" fill="#0000ff"/>
<rect x="613.4" y="94.7" width="12.33" height="11.3" fill="#0000ff"/>
<rect x="624.23" y="94.7" width="12.33" height="11.3" fill="#ff0000"/>
<rect x="635.05" y="94.7" width="12.32" height="11.3" fill="#ffff00"/>
<rect x="645.88" y="94.7" width="12.83" height="11.3" fill="#0000ff"/>
<rect x="524.8" y="104.5" width="14.33" height="11.3" fill="#0000ff"/>
<rect x="537.62" y="104.5" width="12.32" height="11.3" fill="#ff0000"/>
<rect x="548.45" y="104.5" width="12.33" height="11.3" fill="#ffffff"/>
<rect x="559.27" y="104.5" width="12.33" height="11.3" fill="#ffff00"/>
<rect x="570.1" y="104.5" width="12.32" height="11.3" fill="#ff0000"/>
<rect x="580.92" y="104.5" width="12.33" height="11.3" fill="#0000ff"/>
<rect x="591.75" y="104.5" width="12.33" height="11.3" fill="#ffffff"/>
<rect x="602.58" y="104.5" width="12.32" height="11.3" fill="#0000ff"/>
<rect x="613.4" y="104.5" width="12.33" height="11.3" fill="#ffff00"/>
<rect x="624.23" y="104.5" width="12.33" height="11.3" fill="#0000ff"/>
<rect x="635.05" y="104.5" width="12.32" height="11.3" fill="#0000ff"/>
<rect x="645.88" y="104.5" width="12.83" height="11.3" fill="#0000ff"/>
<rect x="524.8" y="114.3" width="14.33" height="11.3" fill="#0000ff"/>
<rect x="537.62" y="114.3" width="12.32" height="11.3" fill="#ffb300"/>
<rect x="548.45" y="114.3" width="12.33" height="11.3" fill="#ffff00"/>
<rect x="559.27" y="114.3" width="12.33" height="11.3" fill="#0000ff"/>
<rect x="570.1" y="114.3" width="12.32" height="11.3" fill="#ffb300"/>
<rect x="580.92" y="114.3" width="12.33" height="11.3" fill="#0000ff"/>
<rect x="591.75" y="114.3" width="12.33" height="11.3" fill="#0000ff"/>
<rect x="602.58" y="114.3" width="12.32" height="11.3" fill="#ffffff"/>
<rect x="613.4" y="114.3" width="12.33" height="11.3" fill="#ff0000"/>
<rect x="624.23" y="114.3" width="12.33" height="11.3" fill="#ffff00"/>
<rect x="635.05" y="114.3" width="12.32" height="11.3" fill="#0000ff"/>
<rect x="645.88" y="114.3" width="12.83" height="11.3" fill="#0000ff"/>
<rect x="524.8" y="124.1" width="14.33" height="11.3" fill="#ffffff"/>
<rect x="537.62" y="124.1" width="12.32" height="11.3" fill="#ffb300"/>
<rect x="548.45" y="124.1" width="12.33" height="11.3" fill="#ffff00"/>
<rect x="559.27" y="124.1" width="12.33" height="11.3" fill="#ffff00"/>
<rect x="570.1" y="124.1" width="12.32" height="11.3" fill="#ffff00"/>
<rect x="580.92" y="124.1" width="12.33" height="11.3" fill="#0000ff"/>
<rect x="591.75" y="124.1" width="12.33" height="11.3" fill="#ffff00"/>
<rect x="602.58" y="124.1" width="12.32" height="11.3" fill="#ff0000"/>
<rect x="613.4" y="124.1" width="12.33" height="11.3" fill="#ffffff"/>
<rect x="624.23" y="124.1" width="12.33" height="11.3" fill="#0000ff"/>
<rect x="635.05" y="124.1" width="12.32" height="11.3" fill="#ffb300"/>
<rect x="645.88" y="124.1" width="12.83" height="11.3" fill="#0000ff"/>
<rect x="524.8" y="133.9" width="14.33" height="11.3" fill="#0000ff"/>
<rect x="537.62" y="133.9" width="12.32" height="11.3" fill="#ff0000"/>
<rect x="548.45" y="133.9" width="12.33" height="11.3" fill="#ff0000"/>
<rect x="559.27" y="133.9" width="12.33" height="11.3" fill="#0000ff"/>
<rect x="570.1" y="133.9" width="12.32" height="11.3" fill="#ff0000"/>
<rect x="580.92" y="133.9" width="12.33" height="11.3" fill="#ff0000"/>
<rect x="591.75" y="133.9" width="12.33" height="11.3" fill="#0000ff"/>
<rect x="602.58" y="133.9" width="12.32" height="11.3" fill="#ffff00"/>
<rect x="613.4" y="133.9" width="12.33" height="11.3" fill="#0000ff"/>
<rect x="624.23" y="133.9" width="12.33" height="11.3" fill="#ffffff"/>
<rect x="635.05" y="133.9" width="12.32" height="11.3" fill="#0000ff"/>
<rect x="645.88" y="133.9" width="12.83" height="11.3" fill="#0000ff"/>
<rect x="524.8" y="143.7" width="14.33" height="11.3" fill="#0000ff"/>
<rect x="537.62" y="143.7" width="12.32" height="11.3" fill="#ffb300"/>
<rect x="548.45" y="143.7" width="12.33" height="11.3" fill="#ff0000"/>
<rect x="559.27" y="143.7" width="12.33" height="11.3" fill="#0000ff"/>
<rect x="570.1" y="143.7" width="12.32" height="11.3" fill="#0000ff"/>
<rect x="580.92" y="143.7" width="12.33" height="11.3" fill="#ffff00"/>
<rect x="591.75" y="143.7" width="12.33" height="11.3" fill="#0000ff"/>
<rect x="602.58" y="143.7" width="12.32" height="11.3" fill="#0000ff"/>
<rect x="613.4" y="143.7" width="12.33" height="11.3" fill="#ffb300"/>
<rect x="624.23" y="143.7" width="12.33" height="11.3" fill="#0000ff"/>
<rect x="635.05" y="143.7" width="12.32" height="11.3" fill="#ffffff"/>
<rect x="645.88" y="143.7" width="12.83" height="11.3" fill="#ff0000"/>
<rect x="524.8" y="153.5" width="14.33" height="11.8" fill="#0000ff"/>
<rect x="537.62" y="153.5" width="12.32" height="11.8" fill="#0000ff"/>
<rect x="548.45" y="153.5" width="12.33" height="11.8" fill="#ffff00"/>
<rect x="559.27" y="153.5" width="12.33" height="11.8" fill="#0000ff"/>
<rect x="570.1" y="153.5" width="12.32" height="11.8" fill="#0000ff"/>
<rect x="580.92" y="153.5" width="12.33" height="11.8" fill="#0000ff"/>
<rect x="591.75" y="153.5" width="12.33" height="11.8" fill="#0000ff"/>
<rect x="602.58" y="153.5" width="12.32" height="11.8" fill="#0000ff"/>
<rect x="613.4" y="153.5" width="12.33" height="11.8" fill="#0000ff"/>
<rect x="624.23" y="153.5" width="12.33" height="11.8" fill="#0000ff"/>
<rect x="635.05" y="153.5" width="12.32" height="11.8" fill="#ff0000"/>
<rect x="645.88" y="153.5" width="12.83" height="11.8" fill="#ffffff"/>
</g>
<g mask="url(#ma1)">
<rect x="86.93" y="171.1" width="14.13" height="13.22" fill="#0000ff"/>
<rect x="99.57" y="171.1" width="12.13" height="13.22" fill="#0000ff"/>
<rect x="110.2" y="171.1" width="12.13" height="13.22" fill="#ff0000"/>
<rect x="120.83" y="171.1" width="12.13" height="13.22" fill="#ffff00"/>
<rect x="131.47" y="171.1" width="12.13" height="13.22" fill="#ffff00"/>
<rect x="142.1" y="171.1" width="12.13" height="13.22" fill="#0000ff"/>
<rect x="152.73" y="171.1" width="12.13" height="13.22" fill="#0000ff"/>
<rect x="163.37" y="171.1" width="12.13" height="13.22" fill="#0000ff"/>
<rect x="174" y="171.1" width="12.13" height="13.22" fill="#0000ff"/>
<rect x="184.63" y="171.1" width="12.13" height="13.22" fill="#0000ff"/>
<rect x="195.27" y="171.1" width="12.63" height="13.22" fill="#0000ff"/>
<rect x="76.3" y="180.82" width="14.13" height="13.22" fill="#0000ff"/>
<rect x="88.93" y="182.82" width="12.13" height="11.22" fill="#ffffff"/>
<rect x="99.57" y="182.82" width="12.13" height="11.22" fill="#ff0000"/>
<rect x="110.2" y="182.82" width="12.13" height="11.22" fill="#ffb300"/>
<rect x="120.83" y="182.82" width="12.13" height="11.22" fill="#ff0000"/>
<rect x="131.47" y="182.82" width="12.13" height="11.22" fill="#ff0000"/>
<rect x="142.1" y="182.82" width="12.13" height="11.22" fill="#0000ff"/>
<rect x="152.73" y="182.82" width="12.13" height="11.22" fill="#ff0000"/>
<rect x="163.37" y="182.82" width="12.13" height="11.22" fill="#ff0000"/>
<rect x="174" y="182.82" width="12.13" height="11.22" fill="#ff0000"/>
<rect x="184.63" y="182.82" width="12.13" height="11.22" fill="#ff0000"/>
<rect x="195.27" y="182.82" width="12.63" height="11.22" fill="#ff0000"/>
<rect x="76.3" y="192.53" width="14.13" height="11.22" fill="#0000ff"/>
<rect x="88.93" y="192.53" width="12.13" height="11.22" fill="#ff0000"/>
<rect x="99.57" y="192.53" width="12.13" height="11.22" fill="#ffffff"/>
<rect x="110.2" y="192.53" width="12.13" height="11.22" fill="#0000ff"/>
<rect x="120.83" y="192.53" width="12.13" height="11.22" fill="#ff0000"/>
<rect x="131.47" y="192.53" width="12.13" height="11.22" fill="#ff0000"/>
<rect x="142.1" y="192.53" width="12.13" height="11.22" fill="#0000ff"/>
<rect x="152.73" y="192.53" width="12.13" height="11.22" fill="#ffb300"/>
<rect x="163.37" y="192.53" width="12.13" height="11.22" fill="#ff0000"/>
<rect x="174" y="192.53" width="12.13" height="11.22" fill="#ffb300"/>
<rect x="184.63" y="192.53" width="12.13" height="11.22" fill="#ff0000"/>
<rect x="195.27" y="192.53" width="12.63" height="11.22" fill="#ff0000"/>
<rect x="76.3" y="202.25" width="14.13" height="11.22" fill="#ff0000"/>
<rect x="88.93" y="202.25" width="12.13" height="11.22" fill="#ffb300"/>
<rect x="99.57" y="202.25" width="12.13" height="11.22" fill="#0000ff"/>
<rect x="110.2" y="202.25" width="12.13" height="11.22" fill="#ffffff"/>
<rect x="120.83" y="202.25" width="12.13" height="11.22" fill="#ffff00"/>
<rect x="131.47" y="202.25" width="12.13" height="11.22" fill="#0000ff"/>
<rect x="142.1" y="202.25" width="12.13" height="11.22" fill="#ffb300"/>
<rect x="152.73" y="202.25" width="12.13" height="11.22" fill="#0000ff"/>
<rect x="163.37" y="202.25" width="12.13" height="11.22" fill="#0000ff"/>
<rect x="174" y="202.25" width="12.13" height="11.22" fill="#0000ff"/>
<rect x="184.63" y="202.25" width="12.13" height="11.22" fill="#0000ff"/>
<rect x="195.27" y="202.25" width="12.63" height="11.22" fill="#0000ff"/>
<rect x="76.3" y="211.97" width="14.13" height="11.22" fill="#ffff00"/>
<rect x="88.93" y="211.97" width="12.13" height="11.22" fill="#ff0000"/>
<rect x="99.57" y="211.97" width="12.13" height="11.22" fill="#ff0000"/>
<rect x="110.2" y="211.97" width="12.13" height="11.22" fill="#ffff00"/>
<rect x="120.83" y="211.97" width="12.13" height="11.22" fill="#ffffff"/>
<rect x="131.47" y="211.97" width="12.13" height="11.22" fill="#ff0000"/>
<rect x="142.1" y="211.97" width="12.13" height="11.22" fill="#0000ff"/>
<rect x="152.73" y="211.97" width="12.13" height="11.22" fill="#ff0000"/>
<rect x="163.37" y="211.97" width="12.13" height="11.22" fill="#ff0000"/>
<rect x="174" y="211.97" width="12.13" height="11.22" fill="#ff0000"/>
<rect x="184.63" y="211.97" width="12.13" height="11.22" fill="#ff0000"/>
<rect x="195.27" y="211.97" width="12.63" height="11.22" fill="#ff0000"/>
<rect x="76.3" y="221.68" width="14.13" height="11.22" fill="#ffff00"/>
<rect x="88.93" y="221.68" width="12.13" height="11.22" fill="#ff0000"/>
<rect x="99.57" y="221.68" width="12.13" height="11.22" fill="#ff0000"/>
<rect x="110.2" y="221.68" width="12.13" height="11.22" fill="#0000ff"/>
<rect x="120.83" y="221.68" width="12.13" height="11.22" fill="#ff0000"/>
<rect x="131.47" y="221.68" width="12.13" height="11.22" fill="#ffffff"/>
<rect x="142.1" y="221.68" width="12.13" height="11.22" fill="#ffff00"/>
<rect x="152.73" y="221.68" width="12.13" height="11.22" fill="#0000ff"/>
<rect x="163.37" y="221.68" width="12.13" height="11.22" fill="#ff0000"/>
<rect x="174" y="221.68" width="12.13" height="11.22" fill="#ffb300"/>
<rect x="184.63" y="221.68" width="12.13" height="11.22" fill="#ff0000"/>
<rect x="195.27" y="221.68" width="12.63" height="11.22" fill="#ff0000"/>
<rect x="76.3" y="231.4" width="14.13" height="11.22" fill="#0000ff"/>
<rect x="88.93" y="231.4" width="12.13" height="11.22" fill="#0000ff"/>
<rect x="99.57" y="231.4" width="12.13" height="11.22" fill="#0000ff"/>
<rect x="110.2" y="231.4" width="12.13" height="11.22" fill="#ffb300"/>
<rect x="120.83" y="231.4" width="12.13" height="11.22" fill="#0000ff"/>
<rect x="131.47" y="231.4" width="12.13" height="11.22" fill="#ffff00"/>
<rect x="142.1" y="231.4" width="12.13" height="11.22" fill="#ffffff"/>
<rect x="152.73" y="231.4" width="12.13" height="11.22" fill="#0000ff"/>
<rect x="163.37" y="231.4" width="12.13" height="11.22" fill="#0000ff"/>
<rect x="174" y="231.4" width="12.13" height="11.22" fill="#0000ff"/>
<rect x="184.63" y="231.4" width="12.13" height="11.22" fill="#0000ff"/>
<rect x="195.27" y="231.4" width="12.63" height="11.22" fill="#0000ff"/>
<rect x="76.3" y="241.12" width="14.13" height="11.22" fill="#0000ff"/>
<rect x="88.93" y="241.12" width="12.13" height="11.22" fill="#ff0000"/>
<rect x="99.57" y="241.12" width="12.13" height="11.22" fill="#ffb300"/>
<rect x="110.2" y="241.12" width="12.13" height="11.22" fill="#0000ff"/>
<rect x="120.83" y="241.12" width="12.13" height="11.22" fill="#ff0000"/>
<rect x="131.47" y="241.12" width="12.13" height="11.22" fill="#0000ff"/>
<rect x="142.1" y="241.12" width="12.13" height="11.22" fill="#0000ff"/>
<rect x="152.73" y="241.12" width="12.13" height="11.22" fill="#ffffff"/>
<rect x="163.37" y="241.12" width="12.13" height="11.22" fill="#ff0000"/>
<rect x="174" y="241.12" width="12.13" height="11.22" fill="#ffff00"/>
<rect x="184.63" y="241.12" width="12.13" height="11.22" fill="#ffb300"/>
<rect x="195.27" y="241.12" width="12.63" height="11.22" fill="#ff0000"/>
<rect x="76.3" y="250.83" width="14.13" height="11.22" fill="#0000ff"/>
<rect x="88.93" y="250.83" width="12.13" height="11.22" fill="#ff0000"/>
<rect x="99.57" y="250.83" width="12.13" height="11.22" fill="#ff0000"/>
<rect x="110.2" y="250.83" width="12.13" height="11.22" fill="#0000ff"/>
<rect x="120.83" y="250.83" width="12.13" height="11.22" fill="#ff0000"/>
<rect x="131.47" y="250.83" width="12.13" height="11.22" fill="#ff0000"/>
<rect x="142.1" y="250.83" width="12.13" height="11.22" fill="#0000ff"/>
<rect x="152.73" y="250.83" width="12.13" height="11.22" fill="#ff0000"/>
<rect x="163.37" y="250.83" width="12.13" height="11.22" fill="#ffffff"/>
<rect x="174" y="250.83" width="12.13" height="11.22" fill="#ffff00"/>
<rect x="184.63" y="250.83" width="12.13" height="11.22" fill="#ffb300"/>
<rect x="195.27" y="250.83" width="12.63" height="11.22" fill="#ff0000"/>
<rect x="76.3" y="260.55" width="14.13" height="11.22" fill="#0000ff"/>
<rect x="88.93" y="260.55" width="12.13" height="11.22" fill="#ff0000"/>
<rect x="99.57" y="260.55" width="12.13" height="11.22" fill="#ffb300"/>
<rect x="110.2" y="260.55" width="12.13" height="11.22" fill="#0000ff"/>
<rect x="120.83" y="260.55" width="12.13" height="11.22" fill="#ff0000"/>
<rect x="131.47" y="260.55" width="12.13" height="11.22" fill="#ffb300"/>
<rect x="142.1" y="260.55" width="12.13" height="11.22" fill="#0000ff"/>
<rect x="152.73" y="260.55" width="12.13" height="11.22" fill="#ffff00"/>
<rect x="163.37" y="260.55" width="12.13" height="11.22" fill="#ffff00"/>
<rect x="174" y="260.55" width="12.13" height="11.22" fill="#ffffff"/>
<rect x="184.63" y="260.55" width="12.13" height="11.22" fill="#0000ff"/>
<rect x="195.27" y="260.55" width="12.63" height="11.22" fill="#ffb300"/>
<rect x="76.3" y="270.27" width="14.13" height="11.22" fill="#0000ff"/>
<rect x="88.93" y="270.27" width="12.13" height="11.22" fill="#ff0000"/>
<rect x="99.57" y="270.27" width="12.13" height="11.22" fill="#ff0000"/>
<rect x="110.2" y="270.27" width="12.13" height="11.22" fill="#0000ff"/>
<rect x="120.83" y="270.27" width="12.13" height="11.22" fill="#ff0000"/>
<rect x="131.47" y="270.27" width="12.13" height="11.22" fill="#ff0000"/>
<rect x="142.1" y="270.27" width="12.13" height="11.22" fill="#0000ff"/>
<rect x="152.73" y="270.27" width="12.13" height="11.22" fill="#ffb300"/>
<rect x="163.37" y="270.27" width="12.13" height="11.22" fill="#ffb300"/>
<rect x="174" y="270.27" width="12.13" height="11.22" fill="#0000ff"/>
<rect x="184.63" y="270.27" width="12.13" height="11.22" fill="#ffffff"/>
<rect x="195.27" y="270.27" width="12.63" height="11.22" fill="#ff0000"/>
<rect x="76.3" y="279.98" width="14.13" height="11.72" fill="#0000ff"/>
<rect x="88.93" y="279.98" width="12.13" height="11.72" fill="#ff0000"/>
<rect x="99.57" y="279.98" width="12.13" height="11.72" fill="#ff0000"/>
<rect x="110.2" y="279.98" width="12.13" height="11.72" fill="#0000ff"/>
<rect x="120.83" y="279.98" width="12.13" height="11.72" fill="#ff0000"/>
<rect x="131.47" y="279.98" width="12.13" height="11.72" fill="#ff0000"/>
<rect x="142.1" y="279.98" width="12.13" height="11.72" fill="#0000ff"/>
<rect x="152.73" y="279.98" width="12.13" height="11.72" fill="#ff0000"/>
<rect x="163.37" y="279.98" width="12.13" height="11.72" fill="#ff0000"/>
<rect x="174" y="279.98" width="12.13" height="11.72" fill="#ffb300"/>
<rect x="184.63" y="279.98" width="12.13" height="11.72" fill="#ff0000"/>
<rect x="195.27" y="279.98" width="12.63" height="11.72" fill="#ffffff"/>
</g>
<g mask="url(#ma2)">
<rect x="238.64" y="171.9" width="14.34" height="13.14" fill="#0000ff"/>
<rect x="251.48" y="171.9" width="12.34" height="13.14" fill="#0000ff"/>
<rect x="262.32" y="171.9" width="12.34" height="13.14" fill="#ff0000"/>
<rect x="273.17" y="171.9" width="12.34" height="13.14" fill="#0000ff"/>
<rect x="284.01" y="171.9" width="12.34" height="13.14" fill="#0000ff"/>
<rect x="294.85" y="171.9" width="12.34" height="13.14" fill="#0000ff"/>
<rect x="305.69" y="171.9" width="12.34" height="13.14" fill="#0000ff"/>
<rect x="316.53" y="171.9" width="12.34" height="13.14" fill="#0000ff"/>
<rect x="327.38" y="171.9" width="12.34" height="13.14" fill="#0000ff"/>
<rect x="338.22" y="171.9" width="12.34" height="13.14" fill="#0000ff"/>
<rect x="349.06" y="171.9" width="12.84" height="13.14" fill="#0000ff"/>
<rect x="227.8" y="181.54" width="14.34" height="13.14" fill="#0000ff"/>
<rect x="240.64" y="183.54" width="12.34" height="11.14" fill="#ffffff"/>
<rect x="251.48" y="183.54" width="12.34" height="11.14" fill="#ff0000"/>
<rect x="262.32" y="183.54" width="12.34" height="11.14" fill="#0000ff"/>
<rect x="273.17" y="183.54" width="12.34" height="11.14" fill="#ff0000"/>
<rect x="284.01" y="183.54" width="12.34" height="11.14" fill="#ff0000"/>
<rect x="294.85" y="183.54" width="12.34" height="11.14" fill="#0000ff"/>
<rect x="305.69" y="183.54" width="12.34" height="11.14" fill="#ffb300"/>
<rect x="316.53" y="183.54" width="12.34" height="11.14" fill="#ff0000"/>
<rect x="327.38" y="183.54" width="12.34" height="11.14" fill="#ff0000"/>
<rect x="338.22" y="183.54" width="12.34" height="11.14" fill="#ff0000"/>
<rect x="349.06" y="183.54" width="12.84" height="11.14" fill="#ffff00"/>
<rect x="227.8" y="193.18" width="14.34" height="11.14" fill="#0000ff"/>
<rect x="240.64" y="193.18" width="12.34" height="11.14" fill="#ff0000"/>
<rect x="251.48" y="193.18" width="12.34" height="11.14" fill="#ffffff"/>
<rect x="262.32" y="193.18" width="12.34" height="11.14" fill="#0000ff"/>
<rect x="273.17" y="193.18" width="12.34" height="11.14" fill="#ff0000"/>
<rect x="284.01" y="193.18" width="12.34" height="11.14" fill="#ff0000"/>
<rect x="294.85" y="193.18" width="12.34" height="11.14" fill="#0000ff"/>
<rect x="305.69" y="193.18" width="12.34" height="11.14" fill="#ffff00"/>
<rect x="316.53" y="193.18" width="12.34" height="11.14" fill="#ffb300"/>
<rect x="327.38" y="193.18" width="12.34" height="11.14" fill="#ff0000"/>
<rect x="338.22" y="193.18" width="12.34" height="11.14" fill="#ff0000"/>
<rect x="349.06" y="193.18" width="12.84" height="11.14" fill="#ff0000"/>
<rect x="227.8" y="202.83" width="14.34" height="11.14" fill="#ff0000"/>
<rect x="240.64" y="202.83" width="12.34" height="11.14" fill="#0000ff"/>
<rect x="251.48" y="202.83" width="12.34" height="11.14" fill="#0000ff"/>
<rect x="262.32" y="202.83" width="12.34" height="11.14" fill="#ffffff"/>
<rect x="273.17" y="202.83" width="12.34" height="11.14" fill="#0000ff"/>
<rect x="284.01" y="202.83" width="12.34" height="11.14" fill="#0000ff"/>
<rect x="294.85" y="202.83" width="12.34" height="11.14" fill="#ffff00"/>
<rect x="305.69" y="202.83" width="12.34" height="11.14" fill="#0000ff"/>
<rect x="316.53" y="202.83" width="12.34" height="11.14" fill="#0000ff"/>
<rect x="327.38" y="202.83" width="12.34" height="11.14" fill="#0000ff"/>
<rect x="338.22" y="202.83" width="12.34" height="11.14" fill="#0000ff"/>
<rect x="349.06" y="202.83" width="12.84" height="11.14" fill="#0000ff"/>
<rect x="227.8" y="212.47" width="14.34" height="11.14" fill="#0000ff"/>
<rect x="240.64" y="212.47" width="12.34" height="11.14" fill="#ff0000"/>
<rect x="251.48" y="212.47" width="12.34" height="11.14" fill="#ff0000"/>
<rect x="262.32" y="212.47" width="12.34" height="11.14" fill="#0000ff"/>
<rect x="273.17" y="212.47" width="12.34" height="11.14" fill="#ffffff"/>
<rect x="284.01" y="212.47" width="12.34" height="11.14" fill="#ff0000"/>
<rect x="294.85" y="212.47" width="12.34" height="11.14" fill="#0000ff"/>
<rect x="305.69" y="212.47" width="12.34" height="11.14" fill="#ffb300"/>
<rect x="316.53" y="212.47" width="12.34" height="11.14" fill="#ffb300"/>
<rect x="327.38" y="212.47" width="12.34" height="11.14" fill="#ffb300"/>
<rect x="338.22" y="212.47" width="12.34" height="11.14" fill="#ff0000"/>
<rect x="349.06" y="212.47" width="12.84" height="11.14" fill="#0000ff"/>
<rect x="227.8" y="222.11" width="14.34" height="11.14" fill="#0000ff"/>
<rect x="240.64" y="222.11" width="12.34" height="11.14" fill="#ff0000"/>
<rect x="251.48" y="222.11" width="12.34" height="11.14" fill="#ff0000"/>
<rect x="262.32" y="222.11" width="12.34" height="11.14" fill="#0000ff"/>
<rect x="273.17" y="222.11" width="12.34" height="11.14" fill="#ff0000"/>
<rect x="284.01" y="222.11" width="12.34" height="11.14" fill="#ffffff"/>
<rect x="294.85" y="222.11" width="12.34" height="11.14" fill="#0000ff"/>
<rect x="305.69" y="222.11" width="12.34" height="11.14" fill="#0000ff"/>
<rect x="316.53" y="222.11" width="12.34" height="11.14" fill="#ff0000"/>
<rect x="327.38" y="222.11" width="12.34" height="11.14" fill="#ffb300"/>
<rect x="338.22" y="222.11" width="12.34" height="11.14" fill="#ff0000"/>
<rect x="349.06" y="222.11" width="12.84" height="11.14" fill="#ff0000"/>
<rect x="227.8" y="231.75" width="14.34" height="11.14" fill="#0000ff"/>
<rect x="240.64" y="231.75" width="12.34" height="11.14" fill="#0000ff"/>
<rect x="251.48" y="231.75" width="12.34" height="11.14" fill="#0000ff"/>
<rect x="262.32" y="231.75" width="12.34" height="11.14" fill="#ffff00"/>
<rect x="273.17" y="231.75" width="12.34" height="11.14" fill="#0000ff"/>
<rect x="284.01" y="231.75" width="12.34" height="11.14" fill="#0000ff"/>
<rect x="294.85" y="231.75" width="12.34" height="11.14" fill="#ffffff"/>
<rect x="305.69" y="231.75" width="12.34" height="11.14" fill="#0000ff"/>
<rect x="316.53" y="231.75" width="12.34" height="11.14" fill="#0000ff"/>
<rect x="327.38" y="231.75" width="12.34" height="11.14" fill="#0000ff"/>
<rect x="338.22" y="231.75" width="12.34" height="11.14" fill="#0000ff"/>
<rect x="349.06" y="231.75" width="12.84" height="11.14" fill="#0000ff"/>
<rect x="227.8" y="241.39" width="14.34" height="11.14" fill="#0000ff"/>
<rect x="240.64" y="241.39" width="12.34" height="11.14" fill="#ffb300"/>
<rect x="251.48" y="241.39" width="12.34" height="11.14" fill="#ffff00"/>
<rect x="262.32" y="241.39" width="12.34" height="11.14" fill="#0000ff"/>
<rect x="273.17" y="241.39" width="12.34" height="11.14" fill="#ffb300"/>
<rect x="284.01" y="241.39" width="12.34" height="11.14" fill="#0000ff"/>
<rect x="294.85" y="241.39" width="12.34" height="11.14" fill="#0000ff"/>
<rect x="305.69" y="241.39" width="12.34" height="11.14" fill="#ffffff"/>
<rect x="316.53" y="241.39" width="12.34" height="11.14" fill="#ff0000"/>
<rect x="327.38" y="241.39" width="12.34" height="11.14" fill="#ffff00"/>
<rect x="338.22" y="241.39" width="12.34" height="11.14" fill="#0000ff"/>
<rect x="349.06" y="241.39" width="12.84" height="11.14" fill="#ffb300"/>
<rect x="227.8" y="251.03" width="14.34" height="11.14" fill="#0000ff"/>
<rect x="240.64" y="251.03" width="12.34" height="11.14" fill="#ff0000"/>
<rect x="251.48" y="251.03" width="12.34" height="11.14" fill="#ffb300"/>
<rect x="262.32" y="251.03" width="12.34" height="11.14" fill="#0000ff"/>
<rect x="273.17" y="251.03" width="12.34" height="11.14" fill="#ffb300"/>
<rect x="284.01" y="251.03" width="12.34" height="11.14" fill="#ff0000"/>
<rect x="294.85" y="251.03" width="12.34" height="11.14" fill="#0000ff"/>
<rect x="305.69" y="251.03" width="12.34" height="11.14" fill="#ff0000"/>
<rect x="316.53" y="251.03" width="12.34" height="11.14" fill="#ffffff"/>
<rect x="327.38" y="251.03" width="12.34" height="11.14" fill="#ffff00"/>
<rect x="338.22" y="251.03" width="12.34" height="11.14" fill="#0000ff"/>
<rect x="349.06" y="251.03" width="12.84" height="11.14" fill="#ff0000"/>
<rect x="227.8" y="260.68" width="14.34" height="11.14" fill="#0000ff"/>
<rect x="240.64" y="260.68" width="12.34" height="11.14" fill="#ff0000"/>
<rect x="251.48" y="260.68" width="12.34" height="11.14" fill="#ff0000"/>
<rect x="262.32" y="260.68" width="12.34" height="11.14" fill="#0000ff"/>
<rect x="273.17" y="260.68" width="12.34" height="11.14" fill="#ffb300"/>
<rect x="284.01" y="260.68" width="12.34" height="11.14" fill="#ffb300"/>
<rect x="294.85" y="260.68" width="12.34" height="11.14" fill="#0000ff"/>
<rect x="305.69" y="260.68" width="12.34" height="11.14" fill="#ffff00"/>
<rect x="316.53" y="260.68" width="12.34" height="11.14" fill="#ffff00"/>
<rect x="327.38" y="260.68" width="12.34" height="11.14" fill="#ffffff"/>
<rect x="338.22" y="260.68" width="12.34" height="11.14" fill="#0000ff"/>
<rect x="349.06" y="260.68" width="12.84" height="11.14" fill="#0000ff"/>
<rect x="227.8" y="270.32" width="14.34" height="11.14" fill="#0000ff"/>
<rect x="240.64" y="270.32" width="12.34" height="11.14" fill="#ff0000"/>
<rect x="251.48" y="270.32" width="12.34" height="11.14" fill="#ff0000"/>
<rect x="262.32" y="270.32" width="12.34" height="11.14" fill="#0000ff"/>
<rect x="273.17" y="270.32" width="12.34" height="11.14" fill="#ff0000"/>
<rect x="284.01" y="270.32" width="12.34" height="11.14" fill="#ff0000"/>
<rect x="294.85" y="270.32" width="12.34" height="11.14" fill="#0000ff"/>
<rect x="305.69" y="270.32" width="12.34" height="11.14" fill="#0000ff"/>
<rect x="316.53" y="270.32" width="12.34" height="11.14" fill="#0000ff"/>
<rect x="327.38" y="270.32" width="12.34" height="11.14" fill="#0000ff"/>
<rect x="338.22" y="270.32" width="12.34" height="11.14" fill="#ffffff"/>
<rect x="349.06" y="270.32" width="12.84" height="11.14" fill="#ff0000"/>
<rect x="227.8" y="279.96" width="14.34" height="11.64" fill="#0000ff"/>
<rect x="240.64" y="279.96" width="12.34" height="11.64" fill="#ffff00"/>
<rect x="251.48" y="279.96" width="12.34" height="11.64" fill="#ff0000"/>
<rect x="262.32" y="279.96" width="12.34" height="11.64" fill="#0000ff"/>
<rect x="273.17" y="279.96" width="12.34" height="11.64" fill="#0000ff"/>
<rect x="284.01" y="279.96" width="12.34" height="11.64" fill="#ff0000"/>
<rect x="294.85" y="279.96" width="12.34" height="11.64" fill="#0000ff"/>
<rect x="305.69" y="279.96" width="12.34" height="11.64" fill="#ffb300"/>
<rect x="316.53" y="279.96" width="12.34" height="11.64" fill="#ff0000"/>
<rect x="327.38" y="279.96" width="12.34" height="11.64" fill="#0000ff"/>
<rect x="338.22" y="279.96" width="12.34" height="11.64" fill="#ff0000"/>
<rect x="349.06" y="279.96" width="12.84" height="11.64" fill="#ffffff"/>
</g>
<g mask="url(#ma3)">
<rect x="387.32" y="171.1" width="14.32" height="13.22" fill="#0000ff"/>
<rect x="400.15" y="171.1" width="12.33" height="13.22" fill="#0000ff"/>
<rect x="410.98" y="171.1" width="12.32" height="13.22" fill="#ff0000"/>
<rect x="421.8" y="171.1" width="12.32" height="13.22" fill="#0000ff"/>
<rect x="432.62" y="171.1" width="12.32" height="13.22" fill="#0000ff"/>
<rect x="443.45" y="171.1" width="12.32" height="13.22" fill="#0000ff"/>
<rect x="454.27" y="171.1" width="12.32" height="13.22" fill="#0000ff"/>
<rect x="465.1" y="171.1" width="12.32" height="13.22" fill="#0000ff"/>
<rect x="475.92" y="171.1" width="12.33" height="13.22" fill="#0000ff"/>
<rect x="486.75" y="171.1" width="12.32" height="13.22" fill="#0000ff"/>
<rect x="497.57" y="171.1" width="12.82" height="13.22" fill="#0000ff"/>
<rect x="376.5" y="180.82" width="14.32" height="13.23" fill="#0000ff"/>
<rect x="389.32" y="182.82" width="12.32" height="11.23" fill="#ffffff"/>
<rect x="400.15" y="182.82" width="12.33" height="11.23" fill="#ff0000"/>
<rect x="410.98" y="182.82" width="12.32" height="11.23" fill="#0000ff"/>
<rect x="421.8" y="182.82" width="12.32" height="11.23" fill="#ff0000"/>
<rect x="432.62" y="182.82" width="12.32" height="11.23" fill="#ff0000"/>
<rect x="443.45" y="182.82" width="12.32" height="11.23" fill="#0000ff"/>
<rect x="454.27" y="182.82" width="12.32" height="11.23" fill="#ff0000"/>
<rect x="465.1" y="182.82" width="12.32" height="11.23" fill="#ff0000"/>
<rect x="475.92" y="182.82" width="12.33" height="11.23" fill="#ff0000"/>
<rect x="486.75" y="182.82" width="12.32" height="11.23" fill="#ff0000"/>
<rect x="497.57" y="182.82" width="12.82" height="11.23" fill="#ff0000"/>
<rect x="376.5" y="192.55" width="14.32" height="11.22" fill="#0000ff"/>
<rect x="389.32" y="192.55" width="12.32" height="11.22" fill="#ff0000"/>
<rect x="400.15" y="192.55" width="12.33" height="11.22" fill="#ffffff"/>
<rect x="410.98" y="192.55" width="12.32" height="11.22" fill="#0000ff"/>
<rect x="421.8" y="192.55" width="12.32" height="11.22" fill="#ff0000"/>
<rect x="432.62" y="192.55" width="12.32" height="11.22" fill="#ff0000"/>
<rect x="443.45" y="192.55" width="12.32" height="11.22" fill="#0000ff"/>
<rect x="454.27" y="192.55" width="12.32" height="11.22" fill="#ff0000"/>
<rect x="465.1" y="192.55" width="12.32" height="11.22" fill="#ff0000"/>
<rect x="475.92" y="192.55" width="12.33" height="11.22" fill="#ff0000"/>
<rect x="486.75" y="192.55" width="12.32" height="11.22" fill="#ff0000"/>
<rect x="497.57" y="192.55" width="12.82" height="11.22" fill="#ff0000"/>
<rect x="376.5" y="202.28" width="14.32" height="11.22" fill="#ff0000"/>
<rect x="389.32" y="202.28" width="12.32" height="11.22" fill="#0000ff"/>
<rect x="400.15" y="202.28" width="12.33" height="11.22" fill="#0000ff"/>
<rect x="410.98" y="202.28" width="12.32" height="11.22" fill="#ffffff"/>
<rect x="421.8" y="202.28" width="12.32" height="11.22" fill="#0000ff"/>
<rect x="432.62" y="202.28" width="12.32" height="11.22" fill="#ffff00"/>
<rect x="443.45" y="202.28" width="12.32" height="11.22" fill="#ff0000"/>
<rect x="454.27" y="202.28" width="12.32" height="11.22" fill="#0000ff"/>
<rect x="465.1" y="202.28" width="12.32" height="11.22" fill="#0000ff"/>
<rect x="475.92" y="202.28" width="12.33" height="11.22" fill="#ffff00"/>
<rect x="486.75" y="202.28" width="12.32" height="11.22" fill="#0000ff"/>
<rect x="497.57" y="202.28" width="12.82" height="11.22" fill="#0000ff"/>
<rect x="376.5" y="212" width="14.32" height="11.22" fill="#0000ff"/>
<rect x="389.32" y="212" width="12.32" height="11.22" fill="#ff0000"/>
<rect x="400.15" y="212" width="12.33" height="11.22" fill="#ff0000"/>
<rect x="410.98" y="212" width="12.32" height="11.22" fill="#0000ff"/>
<rect x="421.8" y="212" width="12.32" height="11.22" fill="#ffffff"/>
<rect x="432.62" y="212" width="12.32" height="11.22" fill="#ff0000"/>
<rect x="443.45" y="212" width="12.32" height="11.22" fill="#0000ff"/>
<rect x="454.27" y="212" width="12.32" height="11.22" fill="#ff0000"/>
<rect x="465.1" y="212" width="12.32" height="11.22" fill="#ff0000"/>
<rect x="475.92" y="212" width="12.33" height="11.22" fill="#ff0000"/>
<rect x="486.75" y="212" width="12.32" height="11.22" fill="#ff0000"/>
<rect x="497.57" y="212" width="12.82" height="11.22" fill="#ffb300"/>
<rect x="376.5" y="221.72" width="14.32" height="11.22" fill="#0000ff"/>
<rect x="389.32" y="221.72" width="12.32" height="11.22" fill="#ff0000"/>
<rect x="400.15" y="221.72" width="12.33" height="11.22" fill="#ff0000"/>
<rect x="410.98" y="221.72" width="12.32" height="11.22" fill="#ffffff"/>
<rect x="421.8" y="221.72" width="12.32" height="11.22" fill="#ff0000"/>
<rect x="432.62" y="221.72" width="12.32" height="11.22" fill="#ffffff"/>
<rect x="443.45" y="221.72" width="12.32" height="11.22" fill="#ff0000"/>
<rect x="454.27" y="221.72" width="12.32" height="11.22" fill="#ff0000"/>
<rect x="465.1" y="221.72" width="12.32" height="11.22" fill="#ff0000"/>
<rect x="475.92" y="221.72" width="12.33" height="11.22" fill="#ff0000"/>
<rect x="486.75" y="221.72" width="12.32" height="11.22" fill="#ff0000"/>
<rect x="497.57" y="221.72" width="12.82" height="11.22" fill="#ff0000"/>
<rect x="376.5" y="231.45" width="14.32" height="11.23" fill="#0000ff"/>
<rect x="389.32" y="231.45" width="12.32" height="11.23" fill="#0000ff"/>
<rect x="400.15" y="231.45" width="12.33" height="11.23" fill="#0000ff"/>
<rect x="410.98" y="231.45" width="12.32" height="11.23" fill="#ff0000"/>
<rect x="421.8" y="231.45" width="12.32" height="11.23" fill="#0000ff"/>
<rect x="432.62" y="231.45" width="12.32" height="11.23" fill="#ff0000"/>
<rect x="443.45" y="231.45" width="12.32" height="11.23" fill="#ffffff"/>
<rect x="454.27" y="231.45" width="12.32" height="11.23" fill="#0000ff"/>
<rect x="465.1" y="231.45" width="12.32" height="11.23" fill="#0000ff"/>
<rect x="475.92" y="231.45" width="12.33" height="11.23" fill="#ffb300"/>
<rect x="486.75" y="231.45" width="12.32" height="11.23" fill="#0000ff"/>
<rect x="497.57" y="231.45" width="12.82" height="11.23" fill="#0000ff"/>
<rect x="376.5" y="241.18" width="14.32" height="11.22" fill="#0000ff"/>
<rect x="389.32" y="241.18" width="12.32" height="11.22" fill="#ff0000"/>
<rect x="400.15" y="241.18" width="12.33" height="11.22" fill="#ff0000"/>
<rect x="410.98" y="241.18" width="12.32" height="11.22" fill="#0000ff"/>
<rect x="421.8" y="241.18" width="12.32" height="11.22" fill="#ff0000"/>
<rect x="432.62" y="241.18" width="12.32" height="11.22" fill="#ff0000"/>
<rect x="443.45" y="241.18" width="12.32" height="11.22" fill="#0000ff"/>
<rect x="454.27" y="241.18" width="12.32" height="11.22" fill="#ffffff"/>
<rect x="465.1" y="241.18" width="12.32" height="11.22" fill="#ff0000"/>
<rect x="475.92" y="241.18" width="12.33" height="11.22" fill="#ff0000"/>
<rect x="486.75" y="241.18" width="12.32" height="11.22" fill="#ff0000"/>
<rect x="497.57" y="241.18" width="12.82" height="11.22" fill="#ff0000"/>
<rect x="376.5" y="250.9" width="14.32" height="11.22" fill="#0000ff"/>
<rect x="389.32" y="250.9" width="12.32" height="11.22" fill="#ff0000"/>
<rect x="400.15" y="250.9" width="12.33" height="11.22" fill="#ff0000"/>
<rect x="410.98" y="250.9" width="12.32" height="11.22" fill="#0000ff"/>
<rect x="421.8" y="250.9" width="12.32" height="11.22" fill="#ff0000"/>
<rect x="432.62" y="250.9" width="12.32" height="11.22" fill="#ff0000"/>
<rect x="443.45" y="250.9" width="12.32" height="11.22" fill="#0000ff"/>
<rect x="454.27" y="250.9" width="12.32" height="11.22" fill="#ff0000"/>
<rect x="465.1" y="250.9" width="12.32" height="11.22" fill="#ffffff"/>
<rect x="475.92" y="250.9" width="12.33" height="11.22" fill="#ff0000"/>
<rect x="486.75" y="250.9" width="12.32" height="11.22" fill="#ffff00"/>
<rect x="497.57" y="250.9" width="12.82" height="11.22" fill="#ff0000"/>
<rect x="376.5" y="260.62" width="14.32" height="11.23" fill="#0000ff"/>
<rect x="389.32" y="260.62" width="12.32" height="11.23" fill="#ff0000"/>
<rect x="400.15" y="260.62" width="12.33" height="11.23" fill="#ff0000"/>
<rect x="410.98" y="260.62" width="12.32" height="11.23" fill="#ffff00"/>
<rect x="421.8" y="260.62" width="12.32" height="11.23" fill="#ff0000"/>
<rect x="432.62" y="260.62" width="12.32" height="11.23" fill="#ff0000"/>
<rect x="443.45" y="260.62" width="12.32" height="11.23" fill="#ffb300"/>
<rect x="454.27" y="260.62" width="12.32" height="11.23" fill="#ff0000"/>
<rect x="465.1" y="260.62" width="12.32" height="11.23" fill="#ff0000"/>
<rect x="475.92" y="260.62" width="12.33" height="11.23" fill="#ffffff"/>
<rect x="486.75" y="260.62" width="12.32" height="11.23" fill="#0000ff"/>
<rect x="497.57" y="260.62" width="12.82" height="11.23" fill="#0000ff"/>
<rect x="376.5" y="270.35" width="14.32" height="11.23" fill="#0000ff"/>
<rect x="389.32" y="270.35" width="12.32" height="11.23" fill="#ff0000"/>
<rect x="400.15" y="270.35" width="12.33" height="11.23" fill="#ff0000"/>
<rect x="410.98" y="270.35" width="12.32" height="11.23" fill="#0000ff"/>
<rect x="421.8" y="270.35" width="12.32" height="11.23" fill="#ff0000"/>
<rect x="432.62" y="270.35" width="12.32" height="11.23" fill="#ff0000"/>
<rect x="443.45" y="270.35" width="12.32" height="11.23" fill="#0000ff"/>
<rect x="454.27" y="270.35" width="12.32" height="11.23" fill="#ff0000"/>
<rect x="465.1" y="270.35" width="12.32" height="11.23" fill="#ffff00"/>
<rect x="475.92" y="270.35" width="12.33" height="11.23" fill="#0000ff"/>
<rect x="486.75" y="270.35" width="12.32" height="11.23" fill="#ffffff"/>
<rect x="497.57" y="270.35" width="12.82" height="11.23" fill="#ff0000"/>
<rect x="376.5" y="280.08" width="14.32" height="11.72" fill="#0000ff"/>
<rect x="389.32" y="280.08" width="12.32" height="11.72" fill="#ff0000"/>
<rect x="400.15" y="280.08" width="12.33" height="11.72" fill="#ff0000"/>
<rect x="410.98" y="280.08" width="12.32" height="11.72" fill="#0000ff"/>
<rect x="421.8" y="280.08" width="12.32" height="11.72" fill="#ffb300"/>
<rect x="432.62" y="280.08" width="12.32" height="11.72" fill="#ff0000"/>
<rect x="443.45" y="280.08" width="12.32" height="11.72" fill="#0000ff"/>
<rect x="454.27" y="280.08" width="12.32" height="11.72" fill="#ff0000"/>
<rect x="465.1" y="280.08" width="12.32" height="11.72" fill="#ff0000"/>
<rect x="475.92" y="280.08" width="12.33" height="11.72" fill="#0000ff"/>
<rect x="486.75" y="280.08" width="12.32" height="11.72" fill="#ff0000"/>
<rect x="497.57" y="280.08" width="12.82" height="11.72" fill="#ffffff"/>
</g>
<g mask="url(#ma4)">
<rect x="535.62" y="171.1" width="14.32" height="13.22" fill="#0000ff"/>
<rect x="548.45" y="171.1" width="12.33" height="13.22" fill="#ffff00"/>
<rect x="559.27" y="171.1" width="12.33" height="13.22" fill="#ff0000"/>
<rect x="570.1" y="171.1" width="12.32" height="13.22" fill="#0000ff"/>
<rect x="580.92" y="171.1" width="12.33" height="13.22" fill="#0000ff"/>
<rect x="591.75" y="171.1" width="12.33" height="13.22" fill="#ffff00"/>
<rect x="602.58" y="171.1" width="12.32" height="13.22" fill="#0000ff"/>
<rect x="613.4" y="171.1" width="12.33" height="13.22" fill="#0000ff"/>
<rect x="624.23" y="171.1" width="12.33" height="13.22" fill="#0000ff"/>
<rect x="635.05" y="171.1" width="12.32" height="13.22" fill="#0000ff"/>
<rect x="645.88" y="171.1" width="12.83" height="13.22" fill="#0000ff"/>
<rect x="524.8" y="180.82" width="14.33" height="13.23" fill="#0000ff"/>
<rect x="537.62" y="182.82" width="12.32" height="11.23" fill="#ffffff"/>
<rect x="548.45" y="182.82" width="12.33" height="11.23" fill="#ff0000"/>
<rect x="559.27" y="182.82" width="12.33" height="11.23" fill="#ffff00"/>
<rect x="570.1" y="182.82" width="12.32" height="11.23" fill="#ff0000"/>
<rect x="580.92" y="182.82" width="12.33" height="11.23" fill="#ff0000"/>
<rect x="591.75" y="182.82" width="12.33" height="11.23" fill="#0000ff"/>
<rect x="602.58" y="182.82" width="12.32" height="11.23" fill="#ff0000"/>
<rect x="613.4" y="182.82" width="12.33" height="11.23" fill="#ff0000"/>
<rect x="624.23" y="182.82" width="12.33" height="11.23" fill="#ff0000"/>
<rect x="635.05" y="182.82" width="12.32" height="11.23" fill="#ff0000"/>
<rect x="645.88" y="182.82" width="12.83" height="11.23" fill="#ff0000"/>
<rect x="524.8" y="192.55" width="14.33" height="11.22" fill="#ffff00"/>
<rect x="537.62" y="192.55" width="12.32" height="11.22" fill="#ff0000"/>
<rect x="548.45" y="192.55" width="12.33" height="11.22" fill="#ffffff"/>
<rect x="559.27" y="192.55" width="12.33" height="11.22" fill="#0000ff"/>
<rect x="570.1" y="192.55" width="12.32" height="11.22" fill="#ff0000"/>
<rect x="580.92" y="192.55" width="12.33" height="11.22" fill="#ff0000"/>
<rect x="591.75" y="192.55" width="12.33" height="11.22" fill="#0000ff"/>
<rect x="602.58" y="192.55" width="12.32" height="11.22" fill="#ff0000"/>
<rect x="613.4" y="192.55" width="12.33" height="11.22" fill="#ff0000"/>
<rect x="624.23" y="192.55" width="12.33" height="11.22" fill="#ff0000"/>
<rect x="635.05" y="192.55" width="12.32" height="11.22" fill="#ff0000"/>
<rect x="645.88" y="192.55" width="12.83" height="11.22" fill="#ff0000"/>
<rect x="524.8" y="202.28" width="14.33" height="11.22" fill="#ff0000"/>
<rect x="537.62" y="202.28" width="12.32" height="11.22" fill="#ffff00"/>
<rect x="548.45" y="202.28" width="12.33" height="11.22" fill="#0000ff"/>
<rect x="559.27" y="202.28" width="12.33" height="11.22" fill="#ffffff"/>
<rect x="570.1" y="202.28" width="12.32" height="11.22" fill="#0000ff"/>
<rect x="580.92" y="202.28" width="12.33" height="11.22" fill="#0000ff"/>
<rect x="591.75" y="202.28" width="12.33" height="11.22" fill="#ff0000"/>
<rect x="602.58" y="202.28" width="12.32" height="11.22" fill="#0000ff"/>
<rect x="613.4" y="202.28" width="12.33" height="11.22" fill="#0000ff"/>
<rect x="624.23" y="202.28" width="12.33" height="11.22" fill="#0000ff"/>
<rect x="635.05" y="202.28" width="12.32" height="11.22" fill="#0000ff"/>
<rect x="645.88" y="202.28" width="12.83" height="11.22" fill="#0000ff"/>
<rect x="524.8" y="212" width="14.33" height="11.22" fill="#0000ff"/>
<rect x="537.62" y="212" width="12.32" height="11.22" fill="#ff0000"/>
<rect x="548.45" y="212" width="12.33" height="11.22" fill="#ff0000"/>
<rect x="559.27" y="212" width="12.33" height="11.22" fill="#0000ff"/>
<rect x="570.1" y="212" width="12.32" height="11.22" fill="#ffffff"/>
<rect x="580.92" y="212" width="12.33" height="11.22" fill="#ff0000"/>
<rect x="591.75" y="212" width="12.33" height="11.22" fill="#0000ff"/>
<rect x="602.58" y="212" width="12.32" height="11.22" fill="#ff0000"/>
<rect x="613.4" y="212" width="12.33" height="11.22" fill="#ff0000"/>
<rect x="624.23" y="212" width="12.33" height="11.22" fill="#ff0000"/>
<rect x="635.05" y="212" width="12.32" height="11.22" fill="#ff0000"/>
<rect x="645.88" y="212" width="12.83" height="11.22" fill="#ff0000"/>
<rect x="524.8" y="221.72" width="14.33" height="11.22" fill="#0000ff"/>
<rect x="537.62" y="221.72" width="12.32" height="11.22" fill="#ff0000"/>
<rect x="548.45" y="221.72" width="12.33" height="11.22" fill="#ff0000"/>
<rect x="559.27" y="221.72" width="12.33" height="11.22" fill="#0000ff"/>
<rect x="570.1" y="221.72" width="12.32" height="11.22" fill="#ff0000"/>
<rect x="580.92" y="221.72" width="12.33" height="11.22" fill="#ffffff"/>
<rect x="591.75" y="221.72" width="12.33" height="11.22" fill="#ffb300"/>
<rect x="602.58" y="221.72" width="12.32" height="11.22" fill="#ff0000"/>
<rect x="613.4" y="221.72" width="12.33" height="11.22" fill="#ff0000"/>
<rect x="624.23" y="221.72" width="12.33" height="11.22" fill="#ffb300"/>
<rect x="635.05" y="221.72" width="12.32" height="11.22" fill="#ff0000"/>
<rect x="645.88" y="221.72" width="12.83" height="11.22" fill="#ff0000"/>
<rect x="524.8" y="231.45" width="14.33" height="11.23" fill="#ffff00"/>
<rect x="537.62" y="231.45" width="12.32" height="11.23" fill="#0000ff"/>
<rect x="548.45" y="231.45" width="12.33" height="11.23" fill="#0000ff"/>
<rect x="559.27" y="231.45" width="12.33" height="11.23" fill="#ff0000"/>
<rect x="570.1" y="231.45" width="12.32" height="11.23" fill="#0000ff"/>
<rect x="580.92" y="231.45" width="12.33" height="11.23" fill="#ffb300"/>
<rect x="591.75" y="231.45" width="12.33" height="11.23" fill="#ffffff"/>
<rect x="602.58" y="231.45" width="12.32" height="11.23" fill="#0000ff"/>
<rect x="613.4" y="231.45" width="12.33" height="11.23" fill="#0000ff"/>
<rect x="624.23" y="231.45" width="12.33" height="11.23" fill="#0000ff"/>
<rect x="635.05" y="231.45" width="12.32" height="11.23" fill="#0000ff"/>
<rect x="645.88" y="231.45" width="12.83" height="11.23" fill="#0000ff"/>
<rect x="524.8" y="241.18" width="14.33" height="11.22" fill="#0000ff"/>
<rect x="537.62" y="241.18" width="12.32" height="11.22" fill="#ff0000"/>
<rect x="548.45" y="241.18" width="12.33" height="11.22" fill="#ff0000"/>
<rect x="559.27" y="241.18" width="12.33" height="11.22" fill="#0000ff"/>
<rect x="570.1" y="241.18" width="12.32" height="11.22" fill="#ff0000"/>
<rect x="580.92" y="241.18" width="12.33" height="11.22" fill="#ff0000"/>
<rect x="591.75" y="241.18" width="12.33" height="11.22" fill="#0000ff"/>
<rect x="602.58" y="241.18" width="12.32" height="11.22" fill="#ffffff"/>
<rect x="613.4" y="241.18" width="12.33" height="11.22" fill="#ff0000"/>
<rect x="624.23" y="241.18" width="12.33" height="11.22" fill="#ffb300"/>
<rect x="635.05" y="241.18" width="12.32" height="11.22" fill="#ff0000"/>
<rect x="645.88" y="241.18" width="12.83" height="11.22" fill="#ff0000"/>
<rect x="524.8" y="250.9" width="14.33" height="11.22" fill="#0000ff"/>
<rect x="537.62" y="250.9" width="12.32" height="11.22" fill="#ff0000"/>
<rect x="548.45" y="250.9" width="12.33" height="11.22" fill="#ff0000"/>
<rect x="559.27" y="250.9" width="12.33" height="11.22" fill="#0000ff"/>
<rect x="570.1" y="250.9" width="12.32" height="11.22" fill="#ff0000"/>
<rect x="580.92" y="250.9" width="12.33" height="11.22" fill="#ff0000"/>
<rect x="591.75" y="250.9" width="12.33" height="11.22" fill="#0000ff"/>
<rect x="602.58" y="250.9" width="12.32" height="11.22" fill="#ff0000"/>
<rect x="613.4" y="250.9" width="12.33" height="11.22" fill="#ffffff"/>
<rect x="624.23" y="250.9" width="12.33" height="11.22" fill="#ffff00"/>
<rect x="635.05" y="250.9" width="12.32" height="11.22" fill="#ffff00"/>
<rect x="645.88" y="250.9" width="12.83" height="11.22" fill="#ff0000"/>
<rect x="524.8" y="260.62" width="14.33" height="11.23" fill="#0000ff"/>
<rect x="537.62" y="260.62" width="12.32" height="11.23" fill="#ff0000"/>
<rect x="548.45" y="260.62" width="12.33" height="11.23" fill="#ff0000"/>
<rect x="559.27" y="260.62" width="12.33" height="11.23" fill="#0000ff"/>
<rect x="570.1" y="260.62" width="12.32" height="11.23" fill="#ff0000"/>
<rect x="580.92" y="260.62" width="12.33" height="11.23" fill="#ffb300"/>
<rect x="591.75" y="260.62" width="12.33" height="11.23" fill="#0000ff"/>
<rect x="602.58" y="260.62" width="12.32" height="11.23" fill="#ffb300"/>
<rect x="613.4" y="260.62" width="12.33" height="11.23" fill="#ffff00"/>
<rect x="624.23" y="260.62" width="12.33" height="11.23" fill="#ffffff"/>
<rect x="635.05" y="260.62" width="12.32" height="11.23" fill="#0000ff"/>
<rect x="645.88" y="260.62" width="12.83" height="11.23" fill="#ffff00"/>
<rect x="524.8" y="270.35" width="14.33" height="11.23" fill="#0000ff"/>
<rect x="537.62" y="270.35" width="12.32" height="11.23" fill="#ff0000"/>
<rect x="548.45" y="270.35" width="12.33" height="11.23" fill="#ff0000"/>
<rect x="559.27" y="270.35" width="12.33" height="11.23" fill="#0000ff"/>
<rect x="570.1" y="270.35" width="12.32" height="11.23" fill="#ff0000"/>
<rect x="580.92" y="270.35" width="12.33" height="11.23" fill="#ff0000"/>
<rect x="591.75" y="270.35" width="12.33" height="11.23" fill="#0000ff"/>
<rect x="602.58" y="270.35" width="12.32" height="11.23" fill="#ff0000"/>
<rect x="613.4" y="270.35" width="12.33" height="11.23" fill="#ffff00"/>
<rect x="624.23" y="270.35" width="12.33" height="11.23" fill="#0000ff"/>
<rect x="635.05" y="270.35" width="12.32" height="11.23" fill="#ffffff"/>
<rect x="645.88" y="270.35" width="12.83" height="11.23" fill="#ff0000"/>
<rect x="524.8" y="280.08" width="14.33" height="11.72" fill="#0000ff"/>
<rect x="537.62" y="280.08" width="12.32" height="11.72" fill="#ff0000"/>
<rect x="548.45" y="280.08" width="12.33" height="11.72" fill="#ff0000"/>
<rect x="559.27" y="280.08" width="12.33" height="11.72" fill="#0000ff"/>
<rect x="570.1" y="280.08" width="12.32" height="11.72" fill="#ff0000"/>
<rect x="580.92" y="280.08" width="12.33" height="11.72" fill="#ff0000"/>
<rect x="591.75" y="280.08" width="12.33" height="11.72" fill="#0000ff"/>
<rect x="602.58" y="280.08" width="12.32" height="11.72" fill="#ff0000"/>
<rect x="613.4" y="280.08" width="12.33" height="11.72" fill="#ff0000"/>
<rect x="624.23" y="280.08" width="12.33" height="11.72" fill="#ffff00"/>
<rect x="635.05" y="280.08" width="12.32" height="11.72" fill="#ff0000"/>
<rect x="645.88" y="280.08" width="12.83" height="11.72" fill="#ffffff"/>
</g>
<g mask="url(#mt1)">
<rect x="86.94" y="297.1" width="14.14" height="13.21" fill="#0000ff"/>
<rect x="99.58" y="297.1" width="12.14" height="13.21" fill="#0000ff"/>
<rect x="110.22" y="297.1" width="12.14" height="13.21" fill="#ff0000"/>
<rect x="120.87" y="297.1" width="12.14" height="13.21" fill="#0000ff"/>
<rect x="131.51" y="297.1" width="12.14" height="13.21" fill="#0000ff"/>
<rect x="142.15" y="297.1" width="12.14" height="13.21" fill="#0000ff"/>
<rect x="152.79" y="297.1" width="12.14" height="13.21" fill="#0000ff"/>
<rect x="163.43" y="297.1" width="12.14" height="13.21" fill="#0000ff"/>
<rect x="174.07" y="297.1" width="12.14" height="13.21" fill="#0000ff"/>
<rect x="184.72" y="297.1" width="12.14" height="13.21" fill="#0000ff"/>
<rect x="195.36" y="297.1" width="12.64" height="13.21" fill="#0000ff"/>
<rect x="76.3" y="306.81" width="14.14" height="13.21" fill="#0000ff"/>
<rect x="88.94" y="308.81" width="12.14" height="11.21" fill="#ffffff"/>
<rect x="99.58" y="308.81" width="12.14" height="11.21" fill="#ff0000"/>
<rect x="110.22" y="308.81" width="12.14" height="11.21" fill="#0000ff"/>
<rect x="120.87" y="308.81" width="12.14" height="11.21" fill="#ff0000"/>
<rect x="131.51" y="308.81" width="12.14" height="11.21" fill="#ff0000"/>
<rect x="142.15" y="308.81" width="12.14" height="11.21" fill="#ff0000"/>
<rect x="152.79" y="308.81" width="12.14" height="11.21" fill="#0000ff"/>
<rect x="163.43" y="308.81" width="12.14" height="11.21" fill="#0000ff"/>
<rect x="174.07" y="308.81" width="12.14" height="11.21" fill="#ff0000"/>
<rect x="184.72" y="308.81" width="12.14" height="11.21" fill="#ffff00"/>
<rect x="195.36" y="308.81" width="12.64" height="11.21" fill="#0000ff"/>
<rect x="76.3" y="318.52" width="14.14" height="11.21" fill="#0000ff"/>
<rect x="88.94" y="318.52" width="12.14" height="11.21" fill="#ff0000"/>
<rect x="99.58" y="318.52" width="12.14" height="11.21" fill="#ffffff"/>
<rect x="110.22" y="318.52" width="12.14" height="11.21" fill="#0000ff"/>
<rect x="120.87" y="318.52" width="12.14" height="11.21" fill="#ff0000"/>
<rect x="131.51" y="318.52" width="12.14" height="11.21" fill="#ff0000"/>
<rect x="142.15" y="318.52" width="12.14" height="11.21" fill="#0000ff"/>
<rect x="152.79" y="318.52" width="12.14" height="11.21" fill="#ffff00"/>
<rect x="163.43" y="318.52" width="12.14" height="11.21" fill="#0000ff"/>
<rect x="174.07" y="318.52" width="12.14" height="11.21" fill="#ffff00"/>
<rect x="184.72" y="318.52" width="12.14" height="11.21" fill="#ffff00"/>
<rect x="195.36" y="318.52" width="12.64" height="11.21" fill="#ffff00"/>
<rect x="76.3" y="328.23" width="14.14" height="11.21" fill="#ff0000"/>
<rect x="88.94" y="328.23" width="12.14" height="11.21" fill="#0000ff"/>
<rect x="99.58" y="328.23" width="12.14" height="11.21" fill="#0000ff"/>
<rect x="110.22" y="328.23" width="12.14" height="11.21" fill="#ffffff"/>
<rect x="120.87" y="328.23" width="12.14" height="11.21" fill="#0000ff"/>
<rect x="131.51" y="328.23" width="12.14" height="11.21" fill="#ffb300"/>
<rect x="142.15" y="328.23" width="12.14" height="11.21" fill="#ff0000"/>
<rect x="152.79" y="328.23" width="12.14" height="11.21" fill="#0000ff"/>
<rect x="163.43" y="328.23" width="12.14" height="11.21" fill="#0000ff"/>
<rect x="174.07" y="328.23" width="12.14" height="11.21" fill="#0000ff"/>
<rect x="184.72" y="328.23" width="12.14" height="11.21" fill="#0000ff"/>
<rect x="195.36" y="328.23" width="12.64" height="11.21" fill="#0000ff"/>
<rect x="76.3" y="337.93" width="14.14" height="11.21" fill="#0000ff"/>
<rect x="88.94" y="337.93" width="12.14" height="11.21" fill="#ff0000"/>
<rect x="99.58" y="337.93" width="12.14" height="11.21" fill="#ff0000"/>
<rect x="110.22" y="337.93" width="12.14" height="11.21" fill="#0000ff"/>
<rect x="120.87" y="337.93" width="12.14" height="11.21" fill="#ffffff"/>
<rect x="131.51" y="337.93" width="12.14" height="11.21" fill="#ff0000"/>
<rect x="142.15" y="337.93" width="12.14" height="11.21" fill="#0000ff"/>
<rect x="152.79" y="337.93" width="12.14" height="11.21" fill="#0000ff"/>
<rect x="163.43" y="337.93" width="12.14" height="11.21" fill="#0000ff"/>
<rect x="174.07" y="337.93" width="12.14" height="11.21" fill="#ff0000"/>
<rect x="184.72" y="337.93" width="12.14" height="11.21" fill="#0000ff"/>
<rect x="195.36" y="337.93" width="12.64" height="11.21" fill="#0000ff"/>
<rect x="76.3" y="347.64" width="14.14" height="11.21" fill="#0000ff"/>
<rect x="88.94" y="347.64" width="12.14" height="11.21" fill="#ff0000"/>
<rect x="99.58" y="347.64" width="12.14" height="11.21" fill="#ff0000"/>
<rect x="110.22" y="347.64" width="12.14" height="11.21" fill="#ffb300"/>
<rect x="120.87" y="347.64" width="12.14" height="11.21" fill="#ff0000"/>
<rect x="131.51" y="347.64" width="12.14" height="11.21" fill="#ffffff"/>
<rect x="142.15" y="347.64" width="12.14" height="11.21" fill="#ffb300"/>
<rect x="152.79" y="347.64" width="12.14" height="11.21" fill="#ff0000"/>
<rect x="163.43" y="347.64" width="12.14" height="11.21" fill="#0000ff"/>
<rect x="174.07" y="347.64" width="12.14" height="11.21" fill="#0000ff"/>
<rect x="184.72" y="347.64" width="12.14" height="11.21" fill="#0000ff"/>
<rect x="195.36" y="347.64" width="12.64" height="11.21" fill="#ffff00"/>
<rect x="76.3" y="357.35" width="14.14" height="11.21" fill="#0000ff"/>
<rect x="88.94" y="357.35" width="12.14" height="11.21" fill="#ff0000"/>
<rect x="99.58" y="357.35" width="12.14" height="11.21" fill="#0000ff"/>
<rect x="110.22" y="357.35" width="12.14" height="11.21" fill="#ff0000"/>
<rect x="120.87" y="357.35" width="12.14" height="11.21" fill="#0000ff"/>
<rect x="131.51" y="357.35" width="12.14" height="11.21" fill="#ffb300"/>
<rect x="142.15" y="357.35" width="12.14" height="11.21" fill="#ffffff"/>
<rect x="152.79" y="357.35" width="12.14" height="11.21" fill="#ffb300"/>
<rect x="163.43" y="357.35" width="12.14" height="11.21" fill="#0000ff"/>
<rect x="174.07" y="357.35" width="12.14" height="11.21" fill="#0000ff"/>
<rect x="184.72" y="357.35" width="12.14" height="11.21" fill="#0000ff"/>
<rect x="195.36" y="357.35" width="12.64" height="11.21" fill="#0000ff"/>
<rect x="76.3" y="367.06" width="14.14" height="11.21" fill="#0000ff"/>
<rect x="88.94" y="367.06" width="12.14" height="11.21" fill="#0000ff"/>
<rect x="99.58" y="367.06" width="12.14" height="11.21" fill="#ffff00"/>
<rect x="110.22" y="367.06" width="12.14" height="11.21" fill="#0000ff"/>
<rect x="120.87" y="367.06" width="12.14" height="11.21" fill="#0000ff"/>
<rect x="131.51" y="367.06" width="12.14" height="11.21" fill="#ff0000"/>
<rect x="142.15" y="367.06" width="12.14" height="11.21" fill="#ffb300"/>
<rect x="152.79" y="367.06" width="12.14" height="11.21" fill="#ffffff"/>
<rect x="163.43" y="367.06" width="12.14" height="11.21" fill="#ff0000"/>
<rect x="174.07" y="367.06" width="12.14" height="11.21" fill="#0000ff"/>
<rect x="184.72" y="367.06" width="12.14" height="11.21" fill="#0000ff"/>
<rect x="195.36" y="367.06" width="12.64" height="11.21" fill="#ffff00"/>
<rect x="76.3" y="376.77" width="14.14" height="11.21" fill="#0000ff"/>
<rect x="88.94" y="376.77" width="12.14" height="11.21" fill="#0000ff"/>
<rect x="99.58" y="376.77" width="12.14" height="11.21" fill="#0000ff"/>
<rect x="110.22" y="376.77" width="12.14" height="11.21" fill="#0000ff"/>
<rect x="120.87" y="376.77" width="12.14" height="11.21" fill="#0000ff"/>
<rect x="131.51" y="376.77" width="12.14" height="11.21" fill="#0000ff"/>
<rect x="142.15" y="376.77" width="12.14" height="11.21" fill="#0000ff"/>
<rect x="152.79" y="376.77" width="12.14" height="11.21" fill="#ff0000"/>
<rect x="163.43" y="376.77" width="12.14" height="11.21" fill="#ffffff"/>
<rect x="174.07" y="376.77" width="12.14" height="11.21" fill="#0000ff"/>
<rect x="184.72" y="376.77" width="12.14" height="11.21" fill="#0000ff"/>
<rect x="195.36" y="376.77" width="12.64" height="11.21" fill="#ff0000"/>
<rect x="76.3" y="386.48" width="14.14" height="11.21" fill="#0000ff"/>
<rect x="88.94" y="386.48" width="12.14" height="11.21" fill="#ff0000"/>
<rect x="99.58" y="386.48" width="12.14" height="11.21" fill="#ffff00"/>
<rect x="110.22" y="386.48" width="12.14" height="11.21" fill="#0000ff"/>
<rect x="120.87" y="386.48" width="12.14" height="11.21" fill="#ff0000"/>
<rect x="131.51" y="386.48" width="12.14" height="11.21" fill="#0000ff"/>
<rect x="142.15" y="386.48" width="12.14" height="11.21" fill="#0000ff"/>
<rect x="152.79" y="386.48" width="12.14" height="11.21" fill="#0000ff"/>
<rect x="163.43" y="386.48" width="12.14" height="11.21" fill="#0000ff"/>
<rect x="174.07" y="386.48" width="12.14" height="11.21" fill="#ffffff"/>
<rect x="184.72" y="386.48" width="12.14" height="11.21" fill="#0000ff"/>
<rect x="195.36" y="386.48" width="12.64" height="11.21" fill="#0000ff"/>
<rect x="76.3" y="396.18" width="14.14" height="11.21" fill="#0000ff"/>
<rect x="88.94" y="396.18" width="12.14" height="11.21" fill="#ffff00"/>
<rect x="99.58" y="396.18" width="12.14" height="11.21" fill="#ffff00"/>
<rect x="110.22" y="396.18" width="12.14" height="11.21" fill="#0000ff"/>
<rect x="120.87" y="396.18" width="12.14" height="11.21" fill="#0000ff"/>
<rect x="131.51" y="396.18" width="12.14" height="11.21" fill="#0000ff"/>
<rect x="142.15" y="396.18" width="12.14" height="11.21" fill="#0000ff"/>
<rect x="152.79" y="396.18" width="12.14" height="11.21" fill="#0000ff"/>
<rect x="163.43" y="396.18" width="12.14" height="11.21" fill="#0000ff"/>
<rect x="174.07" y="396.18" width="12.14" height="11.21" fill="#0000ff"/>
<rect x="184.72" y="396.18" width="12.14" height="11.21" fill="#ffffff"/>
<rect x="195.36" y="396.18" width="12.64" height="11.21" fill="#ff0000"/>
<rect x="76.3" y="405.89" width="14.14" height="11.71" fill="#0000ff"/>
<rect x="88.94" y="405.89" width="12.14" height="11.71" fill="#0000ff"/>
<rect x="99.58" y="405.89" width="12.14" height="11.71" fill="#ffff00"/>
<rect x="110.22" y="405.89" width="12.14" height="11.71" fill="#0000ff"/>
<rect x="120.87" y="405.89" width="12.14" height="11.71" fill="#0000ff"/>
<rect x="131.51" y="405.89" width="12.14" height="11.71" fill="#ffff00"/>
<rect x="142.15" y="405.89" width="12.14" height="11.71" fill="#0000ff"/>
<rect x="152.79" y="405.89" width="12.14" height="11.71" fill="#ffff00"/>
<rect x="163.43" y="405.89" width="12.14" height="11.71" fill="#ff0000"/>
<rect x="174.07" y="405.89" width="12.14" height="11.71" fill="#0000ff"/>
<rect x="184.72" y="405.89" width="12.14" height="11.71" fill="#ff0000"/>
<rect x="195.36" y="405.89" width="12.64" height="11.71" fill="#ffffff"/>
</g>
<g mask="url(#mt2)">
<rect x="238.65" y="297.1" width="14.35" height="13.21" fill="#0000ff"/>
<rect x="251.5" y="297.1" width="12.35" height="13.21" fill="#0000ff"/>
<rect x="262.35" y="297.1" width="12.35" height="13.21" fill="#ff0000"/>
<rect x="273.2" y="297.1" width="12.35" height="13.21" fill="#ffff00"/>
<rect x="284.05" y="297.1" width="12.35" height="13.21" fill="#0000ff"/>
<rect x="294.9" y="297.1" width="12.35" height="13.21" fill="#ffff00"/>
<rect x="305.75" y="297.1" width="12.35" height="13.21" fill="#0000ff"/>
<rect x="316.6" y="297.1" width="12.35" height="13.21" fill="#0000ff"/>
<rect x="327.45" y="297.1" width="12.35" height="13.21" fill="#0000ff"/>
<rect x="338.3" y="297.1" width="12.35" height="13.21" fill="#ffb300"/>
<rect x="349.15" y="297.1" width="12.85" height="13.21" fill="#0000ff"/>
<rect x="227.8" y="306.81" width="14.35" height="13.21" fill="#0000ff"/>
<rect x="240.65" y="308.81" width="12.35" height="11.21" fill="#ffffff"/>
<rect x="251.5" y="308.81" width="12.35" height="11.21" fill="#ff0000"/>
<rect x="262.35" y="308.81" width="12.35" height="11.21" fill="#0000ff"/>
<rect x="273.2" y="308.81" width="12.35" height="11.21" fill="#ff0000"/>
<rect x="284.05" y="308.81" width="12.35" height="11.21" fill="#ff0000"/>
<rect x="294.9" y="308.81" width="12.35" height="11.21" fill="#ffb300"/>
<rect x="305.75" y="308.81" width="12.35" height="11.21" fill="#ffff00"/>
<rect x="316.6" y="308.81" width="12.35" height="11.21" fill="#0000ff"/>
<rect x="327.45" y="308.81" width="12.35" height="11.21" fill="#0000ff"/>
<rect x="338.3" y="308.81" width="12.35" height="11.21" fill="#0000ff"/>
<rect x="349.15" y="308.81" width="12.85" height="11.21" fill="#0000ff"/>
<rect x="227.8" y="318.52" width="14.35" height="11.21" fill="#0000ff"/>
<rect x="240.65" y="318.52" width="12.35" height="11.21" fill="#ff0000"/>
<rect x="251.5" y="318.52" width="12.35" height="11.21" fill="#ffffff"/>
<rect x="262.35" y="318.52" width="12.35" height="11.21" fill="#0000ff"/>
<rect x="273.2" y="318.52" width="12.35" height="11.21" fill="#ff0000"/>
<rect x="284.05" y="318.52" width="12.35" height="11.21" fill="#ff0000"/>
<rect x="294.9" y="318.52" width="12.35" height="11.21" fill="#0000ff"/>
<rect x="305.75" y="318.52" width="12.35" height="11.21" fill="#0000ff"/>
<rect x="316.6" y="318.52" width="12.35" height="11.21" fill="#0000ff"/>
<rect x="327.45" y="318.52" width="12.35" height="11.21" fill="#0000ff"/>
<rect x="338.3" y="318.52" width="12.35" height="11.21" fill="#0000ff"/>
<rect x="349.15" y="318.52" width="12.85" height="11.21" fill="#0000ff"/>
<rect x="227.8" y="328.23" width="14.35" height="11.21" fill="#ff0000"/>
<rect x="240.65" y="328.23" width="12.35" height="11.21" fill="#0000ff"/>
<rect x="251.5" y="328.23" width="12.35" height="11.21" fill="#0000ff"/>
<rect x="262.35" y="328.23" width="12.35" height="11.21" fill="#ffffff"/>
<rect x="273.2" y="328.23" width="12.35" height="11.21" fill="#0000ff"/>
<rect x="284.05" y="328.23" width="12.35" height="11.21" fill="#ffff00"/>
<rect x="294.9" y="328.23" width="12.35" height="11.21" fill="#ff0000"/>
<rect x="305.75" y="328.23" width="12.35" height="11.21" fill="#0000ff"/>
<rect x="316.6" y="328.23" width="12.35" height="11.21" fill="#0000ff"/>
<rect x="327.45" y="328.23" width="12.35" height="11.21" fill="#0000ff"/>
<rect x="338.3" y="328.23" width="12.35" height="11.21" fill="#ffb300"/>
<rect x="349.15" y="328.23" width="12.85" height="11.21" fill="#0000ff"/>
<rect x="227.8" y="337.93" width="14.35" height="11.21" fill="#ffff00"/>
<rect x="240.65" y="337.93" width="12.35" height="11.21" fill="#ff0000"/>
<rect x="251.5" y="337.93" width="12.35" height="11.21" fill="#ff0000"/>
<rect x="262.35" y="337.93" width="12.35" height="11.21" fill="#0000ff"/>
<rect x="273.2" y="337.93" width="12.35" height="11.21" fill="#ffffff"/>
<rect x="284.05" y="337.93" width="12.35" height="11.21" fill="#ff0000"/>
<rect x="294.9" y="337.93" width="12.35" height="11.21" fill="#0000ff"/>
<rect x="305.75" y="337.93" width="12.35" height="11.21" fill="#0000ff"/>
<rect x="316.6" y="337.93" width="12.35" height="11.21" fill="#0000ff"/>
<rect x="327.45" y="337.93" width="12.35" height="11.21" fill="#0000ff"/>
<rect x="338.3" y="337.93" width="12.35" height="11.21" fill="#0000ff"/>
<rect x="349.15" y="337.93" width="12.85" height="11.21" fill="#ffff00"/>
<rect x="227.8" y="347.64" width="14.35" height="11.21" fill="#0000ff"/>
<rect x="240.65" y="347.64" width="12.35" height="11.21" fill="#ff0000"/>
<rect x="251.5" y="347.64" width="12.35" height="11.21" fill="#ff0000"/>
<rect x="262.35" y="347.64" width="12.35" height="11.21" fill="#ffff00"/>
<rect x="273.2" y="347.64" width="12.35" height="11.21" fill="#ff0000"/>
<rect x="284.05" y="347.64" width="12.35" height="11.21" fill="#ffffff"/>
<rect x="294.9" y="347.64" width="12.35" height="11.21" fill="#0000ff"/>
<rect x="305.75" y="347.64" width="12.35" height="11.21" fill="#0000ff"/>
<rect x="316.6" y="347.64" width="12.35" height="11.21" fill="#0000ff"/>
<rect x="327.45" y="347.64" width="12.35" height="11.21" fill="#0000ff"/>
<rect x="338.3" y="347.64" width="12.35" height="11.21" fill="#ffff00"/>
<rect x="349.15" y="347.64" width="12.85" height="11.21" fill="#0000ff"/>
<rect x="227.8" y="357.35" width="14.35" height="11.21" fill="#ffff00"/>
<rect x="240.65" y="357.35" width="12.35" height="11.21" fill="#ffb300"/>
<rect x="251.5" y="357.35" width="12.35" height="11.21" fill="#0000ff"/>
<rect x="262.35" y="357.35" width="12.35" height="11.21" fill="#ff0000"/>
<rect x="273.2" y="357.35" width="12.35" height="11.21" fill="#0000ff"/>
<rect x="284.05" y="357.35" width="12.35" height="11.21" fill="#0000ff"/>
<rect x="294.9" y="357.35" width="12.35" height="11.21" fill="#ffffff"/>
<rect x="305.75" y="357.35" width="12.35" height="11.21" fill="#ffff00"/>
<rect x="316.6" y="357.35" width="12.35" height="11.21" fill="#0000ff"/>
<rect x="327.45" y="357.35" width="12.35" height="11.21" fill="#0000ff"/>
<rect x="338.3" y="357.35" width="12.35" height="11.21" fill="#0000ff"/>
<rect x="349.15" y="357.35" width="12.85" height="11.21" fill="#0000ff"/>
<rect x="227.8" y="367.06" width="14.35" height="11.21" fill="#0000ff"/>
<rect x="240.65" y="367.06" width="12.35" height="11.21" fill="#ffff00"/>
<rect x="251.5" y="367.06" width="12.35" height="11.21" fill="#0000ff"/>
<rect x="262.35" y="367.06" width="12.35" height="11.21" fill="#0000ff"/>
<rect x="273.2" y="367.06" width="12.35" height="11.21" fill="#0000ff"/>
<rect x="284.05" y="367.06" width="12.35" height="11.21" fill="#0000ff"/>
<rect x="294.9" y="367.06" width="12.35" height="11.21" fill="#ffff00"/>
<rect x="305.75" y="367.06" width="12.35" height="11.21" fill="#ffffff"/>
<rect x="316.6" y="367.06" width="12.35" height="11.21" fill="#ff0000"/>
<rect x="327.45" y="367.06" width="12.35" height="11.21" fill="#0000ff"/>
<rect x="338.3" y="367.06" width="12.35" height="11.21" fill="#0000ff"/>
<rect x="349.15" y="367.06" width="12.85" height="11.21" fill="#0000ff"/>
<rect x="227.8" y="376.77" width="14.35" height="11.21" fill="#0000ff"/>
<rect x="240.65" y="376.77" width="12.35" height="11.21" fill="#0000ff"/>
<rect x="251.5" y="376.77" width="12.35" height="11.21" fill="#0000ff"/>
<rect x="262.35" y="376.77" width="12.35" height="11.21" fill="#0000ff"/>
<rect x="273.2" y="376.77" width="12.35" height="11.21" fill="#0000ff"/>
<rect x="284.05" y="376.77" width="12.35" height="11.21" fill="#0000ff"/>
<rect x="294.9" y="376.77" width="12.35" height="11.21" fill="#0000ff"/>
<rect x="305.75" y="376.77" width="12.35" height="11.21" fill="#ff0000"/>
<rect x="316.6" y="376.77" width="12.35" height="11.21" fill="#ffffff"/>
<rect x="327.45" y="376.77" width="12.35" height="11.21" fill="#0000ff"/>
<rect x="338.3" y="376.77" width="12.35" height="11.21" fill="#0000ff"/>
<rect x="349.15" y="376.77" width="12.85" height="11.21" fill="#ff0000"/>
<rect x="227.8" y="386.48" width="14.35" height="11.21" fill="#0000ff"/>
<rect x="240.65" y="386.48" width="12.35" height="11.21" fill="#0000ff"/>
<rect x="251.5" y="386.48" width="12.35" height="11.21" fill="#0000ff"/>
<rect x="262.35" y="386.48" width="12.35" height="11.21" fill="#0000ff"/>
<rect x="273.2" y="386.48" width="12.35" height="11.21" fill="#0000ff"/>
<rect x="284.05" y="386.48" width="12.35" height="11.21" fill="#0000ff"/>
<rect x="294.9" y="386.48" width="12.35" height="11.21" fill="#0000ff"/>
<rect x="305.75" y="386.48" width="12.35" height="11.21" fill="#0000ff"/>
<rect x="316.6" y="386.48" width="12.35" height="11.21" fill="#0000ff"/>
<rect x="327.45" y="386.48" width="12.35" height="11.21" fill="#ffffff"/>
<rect x="338.3" y="386.48" width="12.35" height="11.21" fill="#0000ff"/>
<rect x="349.15" y="386.48" width="12.85" height="11.21" fill="#0000ff"/>
<rect x="227.8" y="396.18" width="14.35" height="11.21" fill="#ffb300"/>
<rect x="240.65" y="396.18" width="12.35" height="11.21" fill="#0000ff"/>
<rect x="251.5" y="396.18" width="12.35" height="11.21" fill="#0000ff"/>
<rect x="262.35" y="396.18" width="12.35" height="11.21" fill="#ffb300"/>
<rect x="273.2" y="396.18" width="12.35" height="11.21" fill="#0000ff"/>
<rect x="284.05" y="396.18" width="12.35" height="11.21" fill="#ffff00"/>
<rect x="294.9" y="396.18" width="12.35" height="11.21" fill="#0000ff"/>
<rect x="305.75" y="396.18" width="12.35" height="11.21" fill="#0000ff"/>
<rect x="316.6" y="396.18" width="12.35" height="11.21" fill="#0000ff"/>
<rect x="327.45" y="396.18" width="12.35" height="11.21" fill="#0000ff"/>
<rect x="338.3" y="396.18" width="12.35" height="11.21" fill="#ffffff"/>
<rect x="349.15" y="396.18" width="12.85" height="11.21" fill="#ff0000"/>
<rect x="227.8" y="405.89" width="14.35" height="11.71" fill="#0000ff"/>
<rect x="240.65" y="405.89" width="12.35" height="11.71" fill="#0000ff"/>
<rect x="251.5" y="405.89" width="12.35" height="11.71" fill="#0000ff"/>
<rect x="262.35" y="405.89" width="12.35" height="11.71" fill="#0000ff"/>
<rect x="273.2" y="405.89" width="12.35" height="11.71" fill="#ffff00"/>
<rect x="284.05" y="405.89" width="12.35" height="11.71" fill="#0000ff"/>
<rect x="294.9" y="405.89" width="12.35" height="11.71" fill="#0000ff"/>
<rect x="305.75" y="405.89" width="12.35" height="11.71" fill="#0000ff"/>
<rect x="316.6" y="405.89" width="12.35" height="11.71" fill="#ff0000"/>
<rect x="327.45" y="405.89" width="12.35" height="11.71" fill="#0000ff"/>
<rect x="338.3" y="405.89" width="12.35" height="11.71" fill="#ff0000"/>
<rect x="349.15" y="405.89" width="12.85" height="11.71" fill="#ffffff"/>
</g>
<g mask="url(#mt3)">
<rect x="387.32" y="297.1" width="14.32" height="13.21" fill="#0000ff"/>
<rect x="400.15" y="297.1" width="12.33" height="13.21" fill="#0000ff"/>
<rect x="410.98" y="297.1" width="12.32" height="13.21" fill="#ff0000"/>
<rect x="421.8" y="297.1" width="12.32" height="13.21" fill="#0000ff"/>
<rect x="432.62" y="297.1" width="12.32" height="13.21" fill="#0000ff"/>
<rect x="443.45" y="297.1" width="12.32" height="13.21" fill="#ffb300"/>
<rect x="454.27" y="297.1" width="12.32" height="13.21" fill="#ffff00"/>
<rect x="465.1" y="297.1" width="12.32" height="13.21" fill="#0000ff"/>
<rect x="475.92" y="297.1" width="12.33" height="13.21" fill="#0000ff"/>
<rect x="486.75" y="297.1" width="12.32" height="13.21" fill="#0000ff"/>
<rect x="497.57" y="297.1" width="12.82" height="13.21" fill="#0000ff"/>
<rect x="376.5" y="306.81" width="14.32" height="13.21" fill="#0000ff"/>
<rect x="389.32" y="308.81" width="12.32" height="11.21" fill="#ffffff"/>
<rect x="400.15" y="308.81" width="12.33" height="11.21" fill="#ff0000"/>
<rect x="410.98" y="308.81" width="12.32" height="11.21" fill="#0000ff"/>
<rect x="421.8" y="308.81" width="12.32" height="11.21" fill="#ff0000"/>
<rect x="432.62" y="308.81" width="12.32" height="11.21" fill="#ff0000"/>
<rect x="443.45" y="308.81" width="12.32" height="11.21" fill="#0000ff"/>
<rect x="454.27" y="308.81" width="12.32" height="11.21" fill="#ffb300"/>
<rect x="465.1" y="308.81" width="12.32" height="11.21" fill="#0000ff"/>
<rect x="475.92" y="308.81" width="12.33" height="11.21" fill="#ffb300"/>
<rect x="486.75" y="308.81" width="12.32" height="11.21" fill="#ff0000"/>
<rect x="497.57" y="308.81" width="12.82" height="11.21" fill="#0000ff"/>
<rect x="376.5" y="318.52" width="14.32" height="11.21" fill="#0000ff"/>
<rect x="389.32" y="318.52" width="12.32" height="11.21" fill="#ff0000"/>
<rect x="400.15" y="318.52" width="12.33" height="11.21" fill="#ffffff"/>
<rect x="410.98" y="318.52" width="12.32" height="11.21" fill="#0000ff"/>
<rect x="421.8" y="318.52" width="12.32" height="11.21" fill="#ff0000"/>
<rect x="432.62" y="318.52" width="12.32" height="11.21" fill="#ff0000"/>
<rect x="443.45" y="318.52" width="12.32" height="11.21" fill="#0000ff"/>
<rect x="454.27" y="318.52" width="12.32" height="11.21" fill="#0000ff"/>
<rect x="465.1" y="318.52" width="12.32" height="11.21" fill="#0000ff"/>
<rect x="475.92" y="318.52" width="12.33" height="11.21" fill="#0000ff"/>
<rect x="486.75" y="318.52" width="12.32" height="11.21" fill="#ff0000"/>
<rect x="497.57" y="318.52" width="12.82" height="11.21" fill="#ffff00"/>
<rect x="376.5" y="328.23" width="14.32" height="11.21" fill="#ff0000"/>
<rect x="389.32" y="328.23" width="12.32" height="11.21" fill="#0000ff"/>
<rect x="400.15" y="328.23" width="12.33" height="11.21" fill="#0000ff"/>
<rect x="410.98" y="328.23" width="12.32" height="11.21" fill="#ffffff"/>
<rect x="421.8" y="328.23" width="12.32" height="11.21" fill="#ffff00"/>
<rect x="432.62" y="328.23" width="12.32" height="11.21" fill="#ff0000"/>
<rect x="443.45" y="328.23" width="12.32" height="11.21" fill="#ff0000"/>
<rect x="454.27" y="328.23" width="12.32" height="11.21" fill="#0000ff"/>
<rect x="465.1" y="328.23" width="12.32" height="11.21" fill="#0000ff"/>
<rect x="475.92" y="328.23" width="12.33" height="11.21" fill="#ffff00"/>
<rect x="486.75" y="328.23" width="12.32" height="11.21" fill="#0000ff"/>
<rect x="497.57" y="328.23" width="12.82" height="11.21" fill="#0000ff"/>
<rect x="376.5" y="337.93" width="14.32" height="11.21" fill="#0000ff"/>
<rect x="389.32" y="337.93" width="12.32" height="11.21" fill="#ff0000"/>
<rect x="400.15" y="337.93" width="12.33" height="11.21" fill="#ff0000"/>
<rect x="410.98" y="337.93" width="12.32" height="11.21" fill="#ffff00"/>
<rect x="421.8" y="337.93" width="12.32" height="11.21" fill="#ffffff"/>
<rect x="432.62" y="337.93" width="12.32" height="11.21" fill="#ff0000"/>
<rect x="443.45" y="337.93" width="12.32" height="11.21" fill="#ffff00"/>
<rect x="454.27" y="337.93" width="12.32" height="11.21" fill="#0000ff"/>
<rect x="465.1" y="337.93" width="12.32" height="11.21" fill="#0000ff"/>
<rect x="475.92" y="337.93" width="12.33" height="11.21" fill="#0000ff"/>
<rect x="486.75" y="337.93" width="12.32" height="11.21" fill="#0000ff"/>
<rect x="497.57" y="337.93" width="12.82" height="11.21" fill="#0000ff"/>
<rect x="376.5" y="347.64" width="14.32" height="11.21" fill="#0000ff"/>
<rect x="389.32" y="347.64" width="12.32" height="11.21" fill="#ff0000"/>
<rect x="400.15" y="347.64" width="12.33" height="11.21" fill="#ff0000"/>
<rect x="410.98" y="347.64" width="12.32" height="11.21" fill="#ff0000"/>
<rect x="421.8" y="347.64" width="12.32" height="11.21" fill="#ff0000"/>
<rect x="432.62" y="347.64" width="12.32" height="11.21" fill="#ffffff"/>
<rect x="443.45" y="347.64" width="12.32" height="11.21" fill="#ff0000"/>
<rect x="454.27" y="347.64" width="12.32" height="11.21" fill="#0000ff"/>
<rect x="465.1" y="347.64" width="12.32" height="11.21" fill="#0000ff"/>
<rect x="475.92" y="347.64" width="12.33" height="11.21" fill="#0000ff"/>
<rect x="486.75" y="347.64" width="12.32" height="11.21" fill="#ff0000"/>
<rect x="497.57" y="347.64" width="12.82" height="11.21" fill="#0000ff"/>
<rect x="376.5" y="357.35" width="14.32" height="11.21" fill="#ffb300"/>
<rect x="389.32" y="357.35" width="12.32" height="11.21" fill="#0000ff"/>
<rect x="400.15" y="357.35" width="12.33" height="11.21" fill="#0000ff"/>
<rect x="410.98" y="357.35" width="12.32" height="11.21" fill="#ff0000"/>
<rect x="421.8" y="357.35" width="12.32" height="11.21" fill="#ffff00"/>
<rect x="432.62" y="357.35" width="12.32" height="11.21" fill="#ff0000"/>
<rect x="443.45" y="357.35" width="12.32" height="11.21" fill="#ffffff"/>
<rect x="454.27" y="357.35" width="12.32" height="11.21" fill="#ffb300"/>
<rect x="465.1" y="357.35" width="12.32" height="11.21" fill="#0000ff"/>
<rect x="475.92" y="357.35" width="12.33" height="11.21" fill="#ffb300"/>
<rect x="486.75" y="357.35" width="12.32" height="11.21" fill="#ffff00"/>
<rect x="497.57" y="357.35" width="12.82" height="11.21" fill="#ffff00"/>
<rect x="376.5" y="367.06" width="14.32" height="11.21" fill="#ffff00"/>
<rect x="389.32" y="367.06" width="12.32" height="11.21" fill="#ffb300"/>
<rect x="400.15" y="367.06" width="12.33" height="11.21" fill="#0000ff"/>
<rect x="410.98" y="367.06" width="12.32" height="11.21" fill="#0000ff"/>
<rect x="421.8" y="367.06" width="12.32" height="11.21" fill="#0000ff"/>
<rect x="432.62" y="367.06" width="12.32" height="11.21" fill="#0000ff"/>
<rect x="443.45" y="367.06" width="12.32" height="11.21" fill="#ffb300"/>
<rect x="454.27" y="367.06" width="12.32" height="11.21" fill="#ffffff"/>
<rect x="465.1" y="367.06" width="12.32" height="11.21" fill="#ff0000"/>
<rect x="475.92" y="367.06" width="12.33" height="11.21" fill="#0000ff"/>
<rect x="486.75" y="367.06" width="12.32" height="11.21" fill="#0000ff"/>
<rect x="497.57" y="367.06" width="12.82" height="11.21" fill="#0000ff"/>
<rect x="376.5" y="376.77" width="14.32" height="11.21" fill="#0000ff"/>
<rect x="389.32" y="376.77" width="12.32" height="11.21" fill="#0000ff"/>
<rect x="400.15" y="376.77" width="12.33" height="11.21" fill="#0000ff"/>
<rect x="410.98" y="376.77" width="12.32" height="11.21" fill="#0000ff"/>
<rect x="421.8" y="376.77" width="12.32" height="11.21" fill="#0000ff"/>
<rect x="432.62" y="376.77" width="12.32" height="11.21" fill="#0000ff"/>
<rect x="443.45" y="376.77" width="12.32" height="11.21" fill="#0000ff"/>
<rect x="454.27" y="376.77" width="12.32" height="11.21" fill="#ff0000"/>
<rect x="465.1" y="376.77" width="12.32" height="11.21" fill="#ffffff"/>
<rect x="475.92" y="376.77" width="12.33" height="11.21" fill="#0000ff"/>
<rect x="486.75" y="376.77" width="12.32" height="11.21" fill="#ffff00"/>
<rect x="497.57" y="376.77" width="12.82" height="11.21" fill="#0000ff"/>
<rect x="376.5" y="386.48" width="14.32" height="11.21" fill="#0000ff"/>
<rect x="389.32" y="386.48" width="12.32" height="11.21" fill="#ffb300"/>
<rect x="400.15" y="386.48" width="12.33" height="11.21" fill="#0000ff"/>
<rect x="410.98" y="386.48" width="12.32" height="11.21" fill="#ffff00"/>
<rect x="421.8" y="386.48" width="12.32" height="11.21" fill="#0000ff"/>
<rect x="432.62" y="386.48" width="12.32" height="11.21" fill="#0000ff"/>
<rect x="443.45" y="386.48" width="12.32" height="11.21" fill="#ffb300"/>
<rect x="454.27" y="386.48" width="12.32" height="11.21" fill="#0000ff"/>
<rect x="465.1" y="386.48" width="12.32" height="11.21" fill="#0000ff"/>
<rect x="475.92" y="386.48" width="12.33" height="11.21" fill="#ffffff"/>
<rect x="486.75" y="386.48" width="12.32" height="11.21" fill="#0000ff"/>
<rect x="497.57" y="386.48" width="12.82" height="11.21" fill="#0000ff"/>
<rect x="376.5" y="396.18" width="14.32" height="11.21" fill="#0000ff"/>
<rect x="389.32" y="396.18" width="12.32" height="11.21" fill="#ff0000"/>
<rect x="400.15" y="396.18" width="12.33" height="11.21" fill="#ff0000"/>
<rect x="410.98" y="396.18" width="12.32" height="11.21" fill="#0000ff"/>
<rect x="421.8" y="396.18" width="12.32" height="11.21" fill="#0000ff"/>
<rect x="432.62" y="396.18" width="12.32" height="11.21" fill="#ff0000"/>
<rect x="443.45" y="396.18" width="12.32" height="11.21" fill="#ffff00"/>
<rect x="454.27" y="396.18" width="12.32" height="11.21" fill="#0000ff"/>
<rect x="465.1" y="396.18" width="12.32" height="11.21" fill="#ffff00"/>
<rect x="475.92" y="396.18" width="12.33" height="11.21" fill="#0000ff"/>
<rect x="486.75" y="396.18" width="12.32" height="11.21" fill="#ffffff"/>
<rect x="497.57" y="396.18" width="12.82" height="11.21" fill="#ff0000"/>
<rect x="376.5" y="405.89" width="14.32" height="11.71" fill="#0000ff"/>
<rect x="389.32" y="405.89" width="12.32" height="11.71" fill="#0000ff"/>
<rect x="400.15" y="405.89" width="12.33" height="11.71" fill="#ffff00"/>
<rect x="410.98" y="405.89" width="12.32" height="11.71" fill="#0000ff"/>
<rect x="421.8" y="405.89" width="12.32" height="11.71" fill="#0000ff"/>
<rect x="432.62" y="405.89" width="12.32" height="11.71" fill="#0000ff"/>
<rect x="443.45" y="405.89" width="12.32" height="11.71" fill="#ffff00"/>
<rect x="454.27" y="405.89" width="12.32" height="11.71" fill="#0000ff"/>
<rect x="465.1" y="405.89" width="12.32" height="11.71" fill="#0000ff"/>
<rect x="475.92" y="405.89" width="12.33" height="11.71" fill="#0000ff"/>
<rect x="486.75" y="405.89" width="12.32" height="11.71" fill="#ff0000"/>
<rect x="497.57" y="405.89" width="12.82" height="11.71" fill="#ffffff"/>
</g>
<g mask="url(#mt4)">
<rect x="535.62" y="297.1" width="14.32" height="13.21" fill="#0000ff"/>
<rect x="548.45" y="297.1" width="12.33" height="13.21" fill="#0000ff"/>
<rect x="559.27" y="297.1" width="12.33" height="13.21" fill="#ff0000"/>
<rect x="570.1" y="297.1" width="12.32" height="13.21" fill="#0000ff"/>
<rect x="580.92" y="297.1" width="12.33" height="13.21" fill="#0000ff"/>
<rect x="591.75" y="297.1" width="12.33" height="13.21" fill="#0000ff"/>
<rect x="602.58" y="297.1" width="12.32" height="13.21" fill="#0000ff"/>
<rect x="613.4" y="297.1" width="12.33" height="13.21" fill="#0000ff"/>
<rect x="624.23" y="297.1" width="12.33" height="13.21" fill="#0000ff"/>
<rect x="635.05" y="297.1" width="12.32" height="13.21" fill="#0000ff"/>
<rect x="645.88" y="297.1" width="12.83" height="13.21" fill="#0000ff"/>
<rect x="524.8" y="306.81" width="14.33" height="13.21" fill="#0000ff"/>
<rect x="537.62" y="308.81" width="12.32" height="11.21" fill="#ffffff"/>
<rect x="548.45" y="308.81" width="12.33" height="11.21" fill="#ff0000"/>
<rect x="559.27" y="308.81" width="12.33" height="11.21" fill="#0000ff"/>
<rect x="570.1" y="308.81" width="12.32" height="11.21" fill="#ff0000"/>
<rect x="580.92" y="308.81" width="12.33" height="11.21" fill="#ff0000"/>
<rect x="591.75" y="308.81" width="12.33" height="11.21" fill="#0000ff"/>
<rect x="602.58" y="308.81" width="12.32" height="11.21" fill="#0000ff"/>
<rect x="613.4" y="308.81" width="12.33" height="11.21" fill="#0000ff"/>
<rect x="624.23" y="308.81" width="12.33" height="11.21" fill="#ffb300"/>
<rect x="635.05" y="308.81" width="12.32" height="11.21" fill="#ffb300"/>
<rect x="645.88" y="308.81" width="12.83" height="11.21" fill="#0000ff"/>
<rect x="524.8" y="318.52" width="14.33" height="11.21" fill="#0000ff"/>
<rect x="537.62" y="318.52" width="12.32" height="11.21" fill="#ff0000"/>
<rect x="548.45" y="318.52" width="12.33" height="11.21" fill="#ffffff"/>
<rect x="559.27" y="318.52" width="12.33" height="11.21" fill="#0000ff"/>
<rect x="570.1" y="318.52" width="12.32" height="11.21" fill="#ff0000"/>
<rect x="580.92" y="318.52" width="12.33" height="11.21" fill="#ff0000"/>
<rect x="591.75" y="318.52" width="12.33" height="11.21" fill="#0000ff"/>
<rect x="602.58" y="318.52" width="12.32" height="11.21" fill="#0000ff"/>
<rect x="613.4" y="318.52" width="12.33" height="11.21" fill="#0000ff"/>
<rect x="624.23" y="318.52" width="12.33" height="11.21" fill="#0000ff"/>
<rect x="635.05" y="318.52" width="12.32" height="11.21" fill="#ff0000"/>
<rect x="645.88" y="318.52" width="12.83" height="11.21" fill="#ff0000"/>
<rect x="524.8" y="328.23" width="14.33" height="11.21" fill="#ff0000"/>
<rect x="537.62" y="328.23" width="12.32" height="11.21" fill="#0000ff"/>
<rect x="548.45" y="328.23" width="12.33" height="11.21" fill="#0000ff"/>
<rect x="559.27" y="328.23" width="12.33" height="11.21" fill="#ffffff"/>
<rect x="570.1" y="328.23" width="12.32" height="11.21" fill="#ffb300"/>
<rect x="580.92" y="328.23" width="12.33" height="11.21" fill="#ff0000"/>
<rect x="591.75" y="328.23" width="12.33" height="11.21" fill="#ff0000"/>
<rect x="602.58" y="328.23" width="12.32" height="11.21" fill="#0000ff"/>
<rect x="613.4" y="328.23" width="12.33" height="11.21" fill="#0000ff"/>
<rect x="624.23" y="328.23" width="12.33" height="11.21" fill="#ffff00"/>
<rect x="635.05" y="328.23" width="12.32" height="11.21" fill="#0000ff"/>
<rect x="645.88" y="328.23" width="12.83" height="11.21" fill="#0000ff"/>
<rect x="524.8" y="337.93" width="14.33" height="11.21" fill="#0000ff"/>
<rect x="537.62" y="337.93" width="12.32" height="11.21" fill="#ff0000"/>
<rect x="548.45" y="337.93" width="12.33" height="11.21" fill="#ff0000"/>
<rect x="559.27" y="337.93" width="12.33" height="11.21" fill="#ffb300"/>
<rect x="570.1" y="337.93" width="12.32" height="11.21" fill="#ffffff"/>
<rect x="580.92" y="337.93" width="12.33" height="11.21" fill="#ff0000"/>
<rect x="591.75" y="337.93" width="12.33" height="11.21" fill="#0000ff"/>
<rect x="602.58" y="337.93" width="12.32" height="11.21" fill="#0000ff"/>
<rect x="613.4" y="337.93" width="12.33" height="11.21" fill="#0000ff"/>
<rect x="624.23" y="337.93" width="12.33" height="11.21" fill="#0000ff"/>
<rect x="635.05" y="337.93" width="12.32" height="11.21" fill="#0000ff"/>
<rect x="645.88" y="337.93" width="12.83" height="11.21" fill="#0000ff"/>
<rect x="524.8" y="347.64" width="14.33" height="11.21" fill="#0000ff"/>
<rect x="537.62" y="347.64" width="12.32" height="11.21" fill="#ff0000"/>
<rect x="548.45" y="347.64" width="12.33" height="11.21" fill="#ff0000"/>
<rect x="559.27" y="347.64" width="12.33" height="11.21" fill="#ff0000"/>
<rect x="570.1" y="347.64" width="12.32" height="11.21" fill="#ff0000"/>
<rect x="580.92" y="347.64" width="12.33" height="11.21" fill="#ffffff"/>
<rect x="591.75" y="347.64" width="12.33" height="11.21" fill="#ff0000"/>
<rect x="602.58" y="347.64" width="12.32" height="11.21" fill="#ffff00"/>
<rect x="613.4" y="347.64" width="12.33" height="11.21" fill="#0000ff"/>
<rect x="624.23" y="347.64" width="12.33" height="11.21" fill="#0000ff"/>
<rect x="635.05" y="347.64" width="12.32" height="11.21" fill="#ffb300"/>
<rect x="645.88" y="347.64" width="12.83" height="11.21" fill="#ffff00"/>
<rect x="524.8" y="357.35" width="14.33" height="11.21" fill="#0000ff"/>
<rect x="537.62" y="357.35" width="12.32" height="11.21" fill="#0000ff"/>
<rect x="548.45" y="357.35" width="12.33" height="11.21" fill="#0000ff"/>
<rect x="559.27" y="357.35" width="12.33" height="11.21" fill="#ff0000"/>
<rect x="570.1" y="357.35" width="12.32" height="11.21" fill="#0000ff"/>
<rect x="580.92" y="357.35" width="12.33" height="11.21" fill="#ff0000"/>
<rect x="591.75" y="357.35" width="12.33" height="11.21" fill="#ffffff"/>
<rect x="602.58" y="357.35" width="12.32" height="11.21" fill="#ffb300"/>
<rect x="613.4" y="357.35" width="12.33" height="11.21" fill="#0000ff"/>
<rect x="624.23" y="357.35" width="12.33" height="11.21" fill="#0000ff"/>
<rect x="635.05" y="357.35" width="12.32" height="11.21" fill="#0000ff"/>
<rect x="645.88" y="357.35" width="12.83" height="11.21" fill="#0000ff"/>
<rect x="524.8" y="367.06" width="14.33" height="11.21" fill="#0000ff"/>
<rect x="537.62" y="367.06" width="12.32" height="11.21" fill="#0000ff"/>
<rect x="548.45" y="367.06" width="12.33" height="11.21" fill="#0000ff"/>
<rect x="559.27" y="367.06" width="12.33" height="11.21" fill="#0000ff"/>
<rect x="570.1" y="367.06" width="12.32" height="11.21" fill="#0000ff"/>
<rect x="580.92" y="367.06" width="12.33" height="11.21" fill="#ffff00"/>
<rect x="591.75" y="367.06" width="12.33" height="11.21" fill="#ffb300"/>
<rect x="602.58" y="367.06" width="12.32" height="11.21" fill="#ffffff"/>
<rect x="613.4" y="367.06" width="12.33" height="11.21" fill="#ff0000"/>
<rect x="624.23" y="367.06" width="12.33" height="11.21" fill="#0000ff"/>
<rect x="635.05" y="367.06" width="12.32" height="11.21" fill="#0000ff"/>
<rect x="645.88" y="367.06" width="12.83" height="11.21" fill="#0000ff"/>
<rect x="524.8" y="376.77" width="14.33" height="11.21" fill="#0000ff"/>
<rect x="537.62" y="376.77" width="12.32" height="11.21" fill="#0000ff"/>
<rect x="548.45" y="376.77" width="12.33" height="11.21" fill="#0000ff"/>
<rect x="559.27" y="376.77" width="12.33" height="11.21" fill="#0000ff"/>
<rect x="570.1" y="376.77" width="12.32" height="11.21" fill="#0000ff"/>
<rect x="580.92" y="376.77" width="12.33" height="11.21" fill="#0000ff"/>
<rect x="591.75" y="376.77" width="12.33" height="11.21" fill="#0000ff"/>
<rect x="602.58" y="376.77" width="12.32" height="11.21" fill="#ff0000"/>
<rect x="613.4" y="376.77" width="12.33" height="11.21" fill="#ffffff"/>
<rect x="624.23" y="376.77" width="12.33" height="11.21" fill="#0000ff"/>
<rect x="635.05" y="376.77" width="12.32" height="11.21" fill="#ffb300"/>
<rect x="645.88" y="376.77" width="12.83" height="11.21" fill="#ffb300"/>
<rect x="524.8" y="386.48" width="14.33" height="11.21" fill="#0000ff"/>
<rect x="537.62" y="386.48" width="12.32" height="11.21" fill="#ffb300"/>
<rect x="548.45" y="386.48" width="12.33" height="11.21" fill="#0000ff"/>
<rect x="559.27" y="386.48" width="12.33" height="11.21" fill="#ffff00"/>
<rect x="570.1" y="386.48" width="12.32" height="11.21" fill="#0000ff"/>
<rect x="580.92" y="386.48" width="12.33" height="11.21" fill="#0000ff"/>
<rect x="591.75" y="386.48" width="12.33" height="11.21" fill="#0000ff"/>
<rect x="602.58" y="386.48" width="12.32" height="11.21" fill="#0000ff"/>
<rect x="613.4" y="386.48" width="12.33" height="11.21" fill="#0000ff"/>
<rect x="624.23" y="386.48" width="12.33" height="11.21" fill="#ffffff"/>
<rect x="635.05" y="386.48" width="12.32" height="11.21" fill="#0000ff"/>
<rect x="645.88" y="386.48" width="12.83" height="11.21" fill="#0000ff"/>
<rect x="524.8" y="396.18" width="14.33" height="11.21" fill="#0000ff"/>
<rect x="537.62" y="396.18" width="12.32" height="11.21" fill="#ffb300"/>
<rect x="548.45" y="396.18" width="12.33" height="11.21" fill="#ff0000"/>
<rect x="559.27" y="396.18" width="12.33" height="11.21" fill="#0000ff"/>
<rect x="570.1" y="396.18" width="12.32" height="11.21" fill="#0000ff"/>
<rect x="580.92" y="396.18" width="12.33" height="11.21" fill="#ffb300"/>
<rect x="591.75" y="396.18" width="12.33" height="11.21" fill="#0000ff"/>
<rect x="602.58" y="396.18" width="12.32" height="11.21" fill="#0000ff"/>
<rect x="613.4" y="396.18" width="12.33" height="11.21" fill="#ffb300"/>
<rect x="624.23" y="396.18" width="12.33" height="11.21" fill="#0000ff"/>
<rect x="635.05" y="396.18" width="12.32" height="11.21" fill="#ffffff"/>
<rect x="645.88" y="396.18" width="12.83" height="11.21" fill="#ff0000"/>
<rect x="524.8" y="405.89" width="14.33" height="11.71" fill="#0000ff"/>
<rect x="537.62" y="405.89" width="12.32" height="11.71" fill="#0000ff"/>
<rect x="548.45" y="405.89" width="12.33" height="11.71" fill="#ff0000"/>
<rect x="559.27" y="405.89" width="12.33" height="11.71" fill="#0000ff"/>
<rect x="570.1" y="405.89" width="12.32" height="11.71" fill="#0000ff"/>
<rect x="580.92" y="405.89" width="12.33" height="11.71" fill="#ffff00"/>
<rect x="591.75" y="405.89" width="12.33" height="11.71" fill="#0000ff"/>
<rect x="602.58" y="405.89" width="12.32" height="11.71" fill="#0000ff"/>
<rect x="613.4" y="405.89" width="12.33" height="11.71" fill="#ffb300"/>
<rect x="624.23" y="405.89" width="12.33" height="11.71" fill="#0000ff"/>
<rect x="635.05" y="405.89" width="12.32" height="11.71" fill="#ff0000"/>
<rect x="645.88" y="405.89" width="12.83" height="11.71" fill="#ffffff"/>
</g>
<g mask="url(#md1)">
<rect x="87.17" y="426.3" width="14.38" height="14.33" fill="#0000ff"/>
<rect x="100.05" y="426.3" width="12.38" height="14.33" fill="#0000ff"/>
<rect x="110.92" y="426.3" width="12.38" height="14.33" fill="#ff0000"/>
<rect x="121.8" y="426.3" width="12.38" height="14.33" fill="#ffff00"/>
<rect x="132.68" y="426.3" width="12.38" height="14.33" fill="#0000ff"/>
<rect x="143.55" y="426.3" width="12.38" height="14.33" fill="#ffff00"/>
<rect x="154.43" y="426.3" width="12.38" height="14.33" fill="#ffff00"/>
<rect x="165.3" y="426.3" width="12.38" height="14.33" fill="#0000ff"/>
<rect x="176.18" y="426.3" width="12.38" height="14.33" fill="#ffb300"/>
<rect x="187.05" y="426.3" width="12.38" height="14.33" fill="#0000ff"/>
<rect x="197.93" y="426.3" width="12.88" height="14.33" fill="#ffff00"/>
<rect x="76.3" y="437.13" width="14.38" height="14.33" fill="#0000ff"/>
<rect x="89.17" y="439.13" width="12.38" height="12.33" fill="#ffffff"/>
<rect x="100.05" y="439.13" width="12.38" height="12.33" fill="#ffb300"/>
<rect x="110.92" y="439.13" width="12.38" height="12.33" fill="#ffb300"/>
<rect x="121.8" y="439.13" width="12.38" height="12.33" fill="#ff0000"/>
<rect x="132.68" y="439.13" width="12.38" height="12.33" fill="#ffb300"/>
<rect x="143.55" y="439.13" width="12.38" height="12.33" fill="#ff0000"/>
<rect x="154.43" y="439.13" width="12.38" height="12.33" fill="#0000ff"/>
<rect x="165.3" y="439.13" width="12.38" height="12.33" fill="#ffb300"/>
<rect x="176.18" y="439.13" width="12.38" height="12.33" fill="#ff0000"/>
<rect x="187.05" y="439.13" width="12.38" height="12.33" fill="#ffff00"/>
<rect x="197.93" y="439.13" width="12.88" height="12.33" fill="#ffff00"/>
<rect x="76.3" y="449.97" width="14.38" height="12.33" fill="#0000ff"/>
<rect x="89.17" y="449.97" width="12.38" height="12.33" fill="#ffb300"/>
<rect x="100.05" y="449.97" width="12.38" height="12.33" fill="#ffffff"/>
<rect x="110.92" y="449.97" width="12.38" height="12.33" fill="#0000ff"/>
<rect x="121.8" y="449.97" width="12.38" height="12.33" fill="#ffff00"/>
<rect x="132.68" y="449.97" width="12.38" height="12.33" fill="#ffb300"/>
<rect x="143.55" y="449.97" width="12.38" height="12.33" fill="#ffff00"/>
<rect x="154.43" y="449.97" width="12.38" height="12.33" fill="#0000ff"/>
<rect x="165.3" y="449.97" width="12.38" height="12.33" fill="#ffff00"/>
<rect x="176.18" y="449.97" width="12.38" height="12.33" fill="#ffb300"/>
<rect x="187.05" y="449.97" width="12.38" height="12.33" fill="#0000ff"/>
<rect x="197.93" y="449.97" width="12.88" height="12.33" fill="#0000ff"/>
<rect x="76.3" y="460.8" width="14.38" height="12.33" fill="#ff0000"/>
<rect x="89.17" y="460.8" width="12.38" height="12.33" fill="#ffb300"/>
<rect x="100.05" y="460.8" width="12.38" height="12.33" fill="#0000ff"/>
<rect x="110.92" y="460.8" width="12.38" height="12.33" fill="#ffffff"/>
<rect x="121.8" y="460.8" width="12.38" height="12.33" fill="#0000ff"/>
<rect x="132.68" y="460.8" width="12.38" height="12.33" fill="#0000ff"/>
<rect x="143.55" y="460.8" width="12.38" height="12.33" fill="#ffff00"/>
<rect x="154.43" y="460.8" width="12.38" height="12.33" fill="#0000ff"/>
<rect x="165.3" y="460.8" width="12.38" height="12.33" fill="#ffb300"/>
<rect x="176.18" y="460.8" width="12.38" height="12.33" fill="#ffb300"/>
<rect x="187.05" y="460.8" width="12.38" height="12.33" fill="#0000ff"/>
<rect x="197.93" y="460.8" width="12.88" height="12.33" fill="#ffff00"/>
<rect x="76.3" y="471.63" width="14.38" height="12.33" fill="#ffff00"/>
<rect x="89.17" y="471.63" width="12.38" height="12.33" fill="#ff0000"/>
<rect x="100.05" y="471.63" width="12.38" height="12.33" fill="#ffff00"/>
<rect x="110.92" y="471.63" width="12.38" height="12.33" fill="#0000ff"/>
<rect x="121.8" y="471.63" width="12.38" height="12.33" fill="#ffffff"/>
<rect x="132.68" y="471.63" width="12.38" height="12.33" fill="#0000ff"/>
<rect x="143.55" y="471.63" width="12.38" height="12.33" fill="#ffb300"/>
<rect x="154.43" y="471.63" width="12.38" height="12.33" fill="#0000ff"/>
<rect x="165.3" y="471.63" width="12.38" height="12.33" fill="#ffff00"/>
<rect x="176.18" y="471.63" width="12.38" height="12.33" fill="#ff0000"/>
<rect x="187.05" y="471.63" width="12.38" height="12.33" fill="#0000ff"/>
<rect x="197.93" y="471.63" width="12.88" height="12.33" fill="#ffff00"/>
<rect x="76.3" y="482.47" width="14.38" height="12.33" fill="#0000ff"/>
<rect x="89.17" y="482.47" width="12.38" height="12.33" fill="#ffb300"/>
<rect x="100.05" y="482.47" width="12.38" height="12.33" fill="#ffb300"/>
<rect x="110.92" y="482.47" width="12.38" height="12.33" fill="#0000ff"/>
<rect x="121.8" y="482.47" width="12.38" height="12.33" fill="#0000ff"/>
<rect x="132.68" y="482.47" width="12.38" height="12.33" fill="#ffffff"/>
<rect x="143.55" y="482.47" width="12.38" height="12.33" fill="#0000ff"/>
<rect x="154.43" y="482.47" width="12.38" height="12.33" fill="#0000ff"/>
<rect x="165.3" y="482.47" width="12.38" height="12.33" fill="#0000ff"/>
<rect x="176.18" y="482.47" width="12.38" height="12.33" fill="#ffff00"/>
<rect x="187.05" y="482.47" width="12.38" height="12.33" fill="#0000ff"/>
<rect x="197.93" y="482.47" width="12.88" height="12.33" fill="#0000ff"/>
<rect x="76.3" y="493.3" width="14.38" height="12.33" fill="#ffff00"/>
<rect x="89.17" y="493.3" width="12.38" height="12.33" fill="#ff0000"/>
<rect x="100.05" y="493.3" width="12.38" height="12.33" fill="#ffff00"/>
<rect x="110.92" y="493.3" width="12.38" height="12.33" fill="#ffff00"/>
<rect x="121.8" y="493.3" width="12.38" height="12.33" fill="#ffb300"/>
<rect x="132.68" y="493.3" width="12.38" height="12.33" fill="#0000ff"/>
<rect x="143.55" y="493.3" width="12.38" height="12.33" fill="#ffffff"/>
<rect x="154.43" y="493.3" width="12.38" height="12.33" fill="#0000ff"/>
<rect x="165.3" y="493.3" width="12.38" height="12.33" fill="#ffff00"/>
<rect x="176.18" y="493.3" width="12.38" height="12.33" fill="#ffb300"/>
<rect x="187.05" y="493.3" width="12.38" height="12.33" fill="#0000ff"/>
<rect x="197.93" y="493.3" width="12.88" height="12.33" fill="#ff0000"/>
<rect x="76.3" y="504.13" width="14.38" height="12.33" fill="#ffff00"/>
<rect x="89.17" y="504.13" width="12.38" height="12.33" fill="#0000ff"/>
<rect x="100.05" y="504.13" width="12.38" height="12.33" fill="#0000ff"/>
<rect x="110.92" y="504.13" width="12.38" height="12.33" fill="#0000ff"/>
<rect x="121.8" y="504.13" width="12.38" height="12.33" fill="#0000ff"/>
<rect x="132.68" y="504.13" width="12.38" height="12.33" fill="#0000ff"/>
<rect x="143.55" y="504.13" width="12.38" height="12.33" fill="#0000ff"/>
<rect x="154.43" y="504.13" width="12.38" height="12.33" fill="#ffffff"/>
<rect x="165.3" y="504.13" width="12.38" height="12.33" fill="#ffff00"/>
<rect x="176.18" y="504.13" width="12.38" height="12.33" fill="#0000ff"/>
<rect x="187.05" y="504.13" width="12.38" height="12.33" fill="#0000ff"/>
<rect x="197.93" y="504.13" width="12.88" height="12.33" fill="#0000ff"/>
<rect x="76.3" y="514.97" width="14.38" height="12.33" fill="#0000ff"/>
<rect x="89.17" y="514.97" width="12.38" height="12.33" fill="#ffb300"/>
<rect x="100.05" y="514.97" width="12.38" height="12.33" fill="#ffff00"/>
<rect x="110.92" y="514.97" width="12.38" height="12.33" fill="#ffb300"/>
<rect x="121.8" y="514.97" width="12.38" height="12.33" fill="#ffff00"/>
<rect x="132.68" y="514.97" width="12.38" height="12.33" fill="#0000ff"/>
<rect x="143.55" y="514.97" width="12.38" height="12.33" fill="#ffff00"/>
<rect x="154.43" y="514.97" width="12.38" height="12.33" fill="#ffff00"/>
<rect x="165.3" y="514.97" width="12.38" height="12.33" fill="#ffffff"/>
<rect x="176.18" y="514.97" width="12.38" height="12.33" fill="#ffb300"/>
<rect x="187.05" y="514.97" width="12.38" height="12.33" fill="#0000ff"/>
<rect x="197.93" y="514.97" width="12.88" height="12.33" fill="#ffb300"/>
<rect x="76.3" y="525.8" width="14.38" height="12.33" fill="#ffb300"/>
<rect x="89.17" y="525.8" width="12.38" height="12.33" fill="#ff0000"/>
<rect x="100.05" y="525.8" width="12.38" height="12.33" fill="#ffb300"/>
<rect x="110.92" y="525.8" width="12.38" height="12.33" fill="#ffb300"/>
<rect x="121.8" y="525.8" width="12.38" height="12.33" fill="#ff0000"/>
<rect x="132.68" y="525.8" width="12.38" height="12.33" fill="#ffff00"/>
<rect x="143.55" y="525.8" width="12.38" height="12.33" fill="#ffb300"/>
<rect x="154.43" y="525.8" width="12.38" height="12.33" fill="#0000ff"/>
<rect x="165.3" y="525.8" width="12.38" height="12.33" fill="#ffb300"/>
<rect x="176.18" y="525.8" width="12.38" height="12.33" fill="#ffffff"/>
<rect x="187.05" y="525.8" width="12.38" height="12.33" fill="#0000ff"/>
<rect x="197.93" y="525.8" width="12.88" height="12.33" fill="#ff0000"/>
<rect x="76.3" y="536.63" width="14.38" height="12.33" fill="#0000ff"/>
<rect x="89.17" y="536.63" width="12.38" height="12.33" fill="#ffff00"/>
<rect x="100.05" y="536.63" width="12.38" height="12.33" fill="#0000ff"/>
<rect x="110.92" y="536.63" width="12.38" height="12.33" fill="#0000ff"/>
<rect x="121.8" y="536.63" width="12.38" height="12.33" fill="#0000ff"/>
<rect x="132.68" y="536.63" width="12.38" height="12.33" fill="#0000ff"/>
<rect x="143.55" y="536.63" width="12.38" height="12.33" fill="#0000ff"/>
<rect x="154.43" y="536.63" width="12.38" height="12.33" fill="#0000ff"/>
<rect x="165.3" y="536.63" width="12.38" height="12.33" fill="#0000ff"/>
<rect x="176.18" y="536.63" width="12.38" height="12.33" fill="#0000ff"/>
<rect x="187.05" y="536.63" width="12.38" height="12.33" fill="#ffffff"/>
<rect x="197.93" y="536.63" width="12.88" height="12.33" fill="#ff0000"/>
<rect x="76.3" y="547.47" width="14.38" height="12.83" fill="#ffff00"/>
<rect x="89.17" y="547.47" width="12.38" height="12.83" fill="#ffff00"/>
<rect x="100.05" y="547.47" width="12.38" height="12.83" fill="#0000ff"/>
<rect x="110.92" y="547.47" width="12.38" height="12.83" fill="#ffff00"/>
<rect x="121.8" y="547.47" width="12.38" height="12.83" fill="#ffff00"/>
<rect x="132.68" y="547.47" width="12.38" height="12.83" fill="#0000ff"/>
<rect x="143.55" y="547.47" width="12.38" height="12.83" fill="#ff0000"/>
<rect x="154.43" y="547.47" width="12.38" height="12.83" fill="#0000ff"/>
<rect x="165.3" y="547.47" width="12.38" height="12.83" fill="#ffb300"/>
<rect x="176.18" y="547.47" width="12.38" height="12.83" fill="#ff0000"/>
<rect x="187.05" y="547.47" width="12.38" height="12.83" fill="#ff0000"/>
<rect x="197.93" y="547.47" width="12.88" height="12.83" fill="#ffffff"/>
</g>
<g mask="url(#md2)">
<rect x="238.65" y="424" width="14.35" height="14.38" fill="#0000ff"/>
<rect x="251.5" y="424" width="12.35" height="14.38" fill="#0000ff"/>
<rect x="262.35" y="424" width="12.35" height="14.38" fill="#ff0000"/>
<rect x="273.2" y="424" width="12.35" height="14.38" fill="#0000ff"/>
<rect x="284.05" y="424" width="12.35" height="14.38" fill="#0000ff"/>
<rect x="294.9" y="424" width="12.35" height="14.38" fill="#0000ff"/>
<rect x="305.75" y="424" width="12.35" height="14.38" fill="#0000ff"/>
<rect x="316.6" y="424" width="12.35" height="14.38" fill="#0000ff"/>
<rect x="327.45" y="424" width="12.35" height="14.38" fill="#0000ff"/>
<rect x="338.3" y="424" width="12.35" height="14.38" fill="#ffff00"/>
<rect x="349.15" y="424" width="12.85" height="14.38" fill="#0000ff"/>
<rect x="227.8" y="434.88" width="14.35" height="14.38" fill="#0000ff"/>
<rect x="240.65" y="436.88" width="12.35" height="12.38" fill="#ffffff"/>
<rect x="251.5" y="436.88" width="12.35" height="12.38" fill="#ffb300"/>
<rect x="262.35" y="436.88" width="12.35" height="12.38" fill="#ffff00"/>
<rect x="273.2" y="436.88" width="12.35" height="12.38" fill="#ff0000"/>
<rect x="284.05" y="436.88" width="12.35" height="12.38" fill="#ffb300"/>
<rect x="294.9" y="436.88" width="12.35" height="12.38" fill="#ff0000"/>
<rect x="305.75" y="436.88" width="12.35" height="12.38" fill="#0000ff"/>
<rect x="316.6" y="436.88" width="12.35" height="12.38" fill="#0000ff"/>
<rect x="327.45" y="436.88" width="12.35" height="12.38" fill="#ff0000"/>
<rect x="338.3" y="436.88" width="12.35" height="12.38" fill="#0000ff"/>
<rect x="349.15" y="436.88" width="12.85" height="12.38" fill="#0000ff"/>
<rect x="227.8" y="447.75" width="14.35" height="12.38" fill="#0000ff"/>
<rect x="240.65" y="447.75" width="12.35" height="12.38" fill="#ffb300"/>
<rect x="251.5" y="447.75" width="12.35" height="12.38" fill="#ffffff"/>
<rect x="262.35" y="447.75" width="12.35" height="12.38" fill="#0000ff"/>
<rect x="273.2" y="447.75" width="12.35" height="12.38" fill="#0000ff"/>
<rect x="284.05" y="447.75" width="12.35" height="12.38" fill="#ffb300"/>
<rect x="294.9" y="447.75" width="12.35" height="12.38" fill="#ff0000"/>
<rect x="305.75" y="447.75" width="12.35" height="12.38" fill="#0000ff"/>
<rect x="316.6" y="447.75" width="12.35" height="12.38" fill="#0000ff"/>
<rect x="327.45" y="447.75" width="12.35" height="12.38" fill="#0000ff"/>
<rect x="338.3" y="447.75" width="12.35" height="12.38" fill="#0000ff"/>
<rect x="349.15" y="447.75" width="12.85" height="12.38" fill="#0000ff"/>
<rect x="227.8" y="458.62" width="14.35" height="12.38" fill="#ff0000"/>
<rect x="240.65" y="458.62" width="12.35" height="12.38" fill="#ffff00"/>
<rect x="251.5" y="458.62" width="12.35" height="12.38" fill="#0000ff"/>
<rect x="262.35" y="458.62" width="12.35" height="12.38" fill="#ffffff"/>
<rect x="273.2" y="458.62" width="12.35" height="12.38" fill="#0000ff"/>
<rect x="284.05" y="458.62" width="12.35" height="12.38" fill="#0000ff"/>
<rect x="294.9" y="458.62" width="12.35" height="12.38" fill="#0000ff"/>
<rect x="305.75" y="458.62" width="12.35" height="12.38" fill="#0000ff"/>
<rect x="316.6" y="458.62" width="12.35" height="12.38" fill="#0000ff"/>
<rect x="327.45" y="458.62" width="12.35" height="12.38" fill="#0000ff"/>
<rect x="338.3" y="458.62" width="12.35" height="12.38" fill="#0000ff"/>
<rect x="349.15" y="458.62" width="12.85" height="12.38" fill="#0000ff"/>
<rect x="227.8" y="469.5" width="14.35" height="12.38" fill="#0000ff"/>
<rect x="240.65" y="469.5" width="12.35" height="12.38" fill="#ff0000"/>
<rect x="251.5" y="469.5" width="12.35" height="12.38" fill="#0000ff"/>
<rect x="262.35" y="469.5" width="12.35" height="12.38" fill="#0000ff"/>
<rect x="273.2" y="469.5" width="12.35" height="12.38" fill="#ffffff"/>
<rect x="284.05" y="469.5" width="12.35" height="12.38" fill="#ffff00"/>
<rect x="294.9" y="469.5" width="12.35" height="12.38" fill="#ff0000"/>
<rect x="305.75" y="469.5" width="12.35" height="12.38" fill="#0000ff"/>
<rect x="316.6" y="469.5" width="12.35" height="12.38" fill="#0000ff"/>
<rect x="327.45" y="469.5" width="12.35" height="12.38" fill="#ffb300"/>
<rect x="338.3" y="469.5" width="12.35" height="12.38" fill="#0000ff"/>
<rect x="349.15" y="469.5" width="12.85" height="12.38" fill="#0000ff"/>
<rect x="227.8" y="480.38" width="14.35" height="12.38" fill="#0000ff"/>
<rect x="240.65" y="480.38" width="12.35" height="12.38" fill="#ffb300"/>
<rect x="251.5" y="480.38" width="12.35" height="12.38" fill="#ffb300"/>
<rect x="262.35" y="480.38" width="12.35" height="12.38" fill="#0000ff"/>
<rect x="273.2" y="480.38" width="12.35" height="12.38" fill="#ffff00"/>
<rect x="284.05" y="480.38" width="12.35" height="12.38" fill="#ffffff"/>
<rect x="294.9" y="480.38" width="12.35" height="12.38" fill="#ffff00"/>
<rect x="305.75" y="480.38" width="12.35" height="12.38" fill="#0000ff"/>
<rect x="316.6" y="480.38" width="12.35" height="12.38" fill="#0000ff"/>
<rect x="327.45" y="480.38" width="12.35" height="12.38" fill="#0000ff"/>
<rect x="338.3" y="480.38" width="12.35" height="12.38" fill="#0000ff"/>
<rect x="349.15" y="480.38" width="12.85" height="12.38" fill="#0000ff"/>
<rect x="227.8" y="491.25" width="14.35" height="12.38" fill="#0000ff"/>
<rect x="240.65" y="491.25" width="12.35" height="12.38" fill="#ff0000"/>
<rect x="251.5" y="491.25" width="12.35" height="12.38" fill="#ff0000"/>
<rect x="262.35" y="491.25" width="12.35" height="12.38" fill="#0000ff"/>
<rect x="273.2" y="491.25" width="12.35" height="12.38" fill="#ff0000"/>
<rect x="284.05" y="491.25" width="12.35" height="12.38" fill="#ffff00"/>
<rect x="294.9" y="491.25" width="12.35" height="12.38" fill="#ffffff"/>
<rect x="305.75" y="491.25" width="12.35" height="12.38" fill="#0000ff"/>
<rect x="316.6" y="491.25" width="12.35" height="12.38" fill="#0000ff"/>
<rect x="327.45" y="491.25" width="12.35" height="12.38" fill="#0000ff"/>
<rect x="338.3" y="491.25" width="12.35" height="12.38" fill="#0000ff"/>
<rect x="349.15" y="491.25" width="12.85" height="12.38" fill="#ffb300"/>
<rect x="227.8" y="502.12" width="14.35" height="12.38" fill="#0000ff"/>
<rect x="240.65" y="502.12" width="12.35" height="12.38" fill="#0000ff"/>
<rect x="251.5" y="502.12" width="12.35" height="12.38" fill="#0000ff"/>
<rect x="262.35" y="502.12" width="12.35" height="12.38" fill="#0000ff"/>
<rect x="273.2" y="502.12" width="12.35" height="12.38" fill="#0000ff"/>
<rect x="284.05" y="502.12" width="12.35" height="12.38" fill="#0000ff"/>
<rect x="294.9" y="502.12" width="12.35" height="12.38" fill="#0000ff"/>
<rect x="305.75" y="502.12" width="12.35" height="12.38" fill="#ffffff"/>
<rect x="316.6" y="502.12" width="12.35" height="12.38" fill="#0000ff"/>
<rect x="327.45" y="502.12" width="12.35" height="12.38" fill="#0000ff"/>
<rect x="338.3" y="502.12" width="12.35" height="12.38" fill="#0000ff"/>
<rect x="349.15" y="502.12" width="12.85" height="12.38" fill="#0000ff"/>
<rect x="227.8" y="513" width="14.35" height="12.38" fill="#0000ff"/>
<rect x="240.65" y="513" width="12.35" height="12.38" fill="#0000ff"/>
<rect x="251.5" y="513" width="12.35" height="12.38" fill="#0000ff"/>
<rect x="262.35" y="513" width="12.35" height="12.38" fill="#0000ff"/>
<rect x="273.2" y="513" width="12.35" height="12.38" fill="#0000ff"/>
<rect x="284.05" y="513" width="12.35" height="12.38" fill="#0000ff"/>
<rect x="294.9" y="513" width="12.35" height="12.38" fill="#0000ff"/>
<rect x="305.75" y="513" width="12.35" height="12.38" fill="#0000ff"/>
<rect x="316.6" y="513" width="12.35" height="12.38" fill="#ffffff"/>
<rect x="327.45" y="513" width="12.35" height="12.38" fill="#0000ff"/>
<rect x="338.3" y="513" width="12.35" height="12.38" fill="#0000ff"/>
<rect x="349.15" y="513" width="12.85" height="12.38" fill="#0000ff"/>
<rect x="227.8" y="523.88" width="14.35" height="12.38" fill="#0000ff"/>
<rect x="240.65" y="523.88" width="12.35" height="12.38" fill="#ff0000"/>
<rect x="251.5" y="523.88" width="12.35" height="12.38" fill="#0000ff"/>
<rect x="262.35" y="523.88" width="12.35" height="12.38" fill="#0000ff"/>
<rect x="273.2" y="523.88" width="12.35" height="12.38" fill="#ffb300"/>
<rect x="284.05" y="523.88" width="12.35" height="12.38" fill="#0000ff"/>
<rect x="294.9" y="523.88" width="12.35" height="12.38" fill="#0000ff"/>
<rect x="305.75" y="523.88" width="12.35" height="12.38" fill="#0000ff"/>
<rect x="316.6" y="523.88" width="12.35" height="12.38" fill="#0000ff"/>
<rect x="327.45" y="523.88" width="12.35" height="12.38" fill="#ffffff"/>
<rect x="338.3" y="523.88" width="12.35" height="12.38" fill="#0000ff"/>
<rect x="349.15" y="523.88" width="12.85" height="12.38" fill="#ffff00"/>
<rect x="227.8" y="534.75" width="14.35" height="12.38" fill="#ffff00"/>
<rect x="240.65" y="534.75" width="12.35" height="12.38" fill="#0000ff"/>
<rect x="251.5" y="534.75" width="12.35" height="12.38" fill="#0000ff"/>
<rect x="262.35" y="534.75" width="12.35" height="12.38" fill="#0000ff"/>
<rect x="273.2" y="534.75" width="12.35" height="12.38" fill="#0000ff"/>
<rect x="284.05" y="534.75" width="12.35" height="12.38" fill="#0000ff"/>
<rect x="294.9" y="534.75" width="12.35" height="12.38" fill="#0000ff"/>
<rect x="305.75" y="534.75" width="12.35" height="12.38" fill="#0000ff"/>
<rect x="316.6" y="534.75" width="12.35" height="12.38" fill="#0000ff"/>
<rect x="327.45" y="534.75" width="12.35" height="12.38" fill="#0000ff"/>
<rect x="338.3" y="534.75" width="12.35" height="12.38" fill="#ffffff"/>
<rect x="349.15" y="534.75" width="12.85" height="12.38" fill="#ffb300"/>
<rect x="227.8" y="545.62" width="14.35" height="12.88" fill="#0000ff"/>
<rect x="240.65" y="545.62" width="12.35" height="12.88" fill="#0000ff"/>
<rect x="251.5" y="545.62" width="12.35" height="12.88" fill="#0000ff"/>
<rect x="262.35" y="545.62" width="12.35" height="12.88" fill="#0000ff"/>
<rect x="273.2" y="545.62" width="12.35" height="12.88" fill="#0000ff"/>
<rect x="284.05" y="545.62" width="12.35" height="12.88" fill="#0000ff"/>
<rect x="294.9" y="545.62" width="12.35" height="12.88" fill="#ffb300"/>
<rect x="305.75" y="545.62" width="12.35" height="12.88" fill="#0000ff"/>
<rect x="316.6" y="545.62" width="12.35" height="12.88" fill="#0000ff"/>
<rect x="327.45" y="545.62" width="12.35" height="12.88" fill="#ffff00"/>
<rect x="338.3" y="545.62" width="12.35" height="12.88" fill="#ffb300"/>
<rect x="349.15" y="545.62" width="12.85" height="12.88" fill="#ffffff"/>
</g>
<g mask="url(#md3)">
<rect x="387.32" y="423.1" width="14.32" height="14.61" fill="#0000ff"/>
<rect x="400.15" y="423.1" width="12.33" height="14.61" fill="#0000ff"/>
<rect x="410.98" y="423.1" width="12.32" height="14.61" fill="#ff0000"/>
<rect x="421.8" y="423.1" width="12.32" height="14.61" fill="#0000ff"/>
<rect x="432.62" y="423.1" width="12.32" height="14.61" fill="#0000ff"/>
<rect x="443.45" y="423.1" width="12.32" height="14.61" fill="#0000ff"/>
<rect x="454.27" y="423.1" width="12.32" height="14.61" fill="#0000ff"/>
<rect x="465.1" y="423.1" width="12.32" height="14.61" fill="#0000ff"/>
<rect x="475.92" y="423.1" width="12.33" height="14.61" fill="#0000ff"/>
<rect x="486.75" y="423.1" width="12.32" height="14.61" fill="#0000ff"/>
<rect x="497.57" y="423.1" width="12.82" height="14.61" fill="#0000ff"/>
<rect x="376.5" y="434.21" width="14.32" height="14.61" fill="#0000ff"/>
<rect x="389.32" y="436.21" width="12.32" height="12.61" fill="#ffffff"/>
<rect x="400.15" y="436.21" width="12.33" height="12.61" fill="#ffb300"/>
<rect x="410.98" y="436.21" width="12.32" height="12.61" fill="#0000ff"/>
<rect x="421.8" y="436.21" width="12.32" height="12.61" fill="#ff0000"/>
<rect x="432.62" y="436.21" width="12.32" height="12.61" fill="#ffb300"/>
<rect x="443.45" y="436.21" width="12.32" height="12.61" fill="#ffff00"/>
<rect x="454.27" y="436.21" width="12.32" height="12.61" fill="#0000ff"/>
<rect x="465.1" y="436.21" width="12.32" height="12.61" fill="#0000ff"/>
<rect x="475.92" y="436.21" width="12.33" height="12.61" fill="#ffb300"/>
<rect x="486.75" y="436.21" width="12.32" height="12.61" fill="#0000ff"/>
<rect x="497.57" y="436.21" width="12.82" height="12.61" fill="#0000ff"/>
<rect x="376.5" y="447.32" width="14.32" height="12.61" fill="#0000ff"/>
<rect x="389.32" y="447.32" width="12.32" height="12.61" fill="#ffb300"/>
<rect x="400.15" y="447.32" width="12.33" height="12.61" fill="#ffffff"/>
<rect x="410.98" y="447.32" width="12.32" height="12.61" fill="#0000ff"/>
<rect x="421.8" y="447.32" width="12.32" height="12.61" fill="#0000ff"/>
<rect x="432.62" y="447.32" width="12.32" height="12.61" fill="#ffb300"/>
<rect x="443.45" y="447.32" width="12.32" height="12.61" fill="#0000ff"/>
<rect x="454.27" y="447.32" width="12.32" height="12.61" fill="#0000ff"/>
<rect x="465.1" y="447.32" width="12.32" height="12.61" fill="#0000ff"/>
<rect x="475.92" y="447.32" width="12.33" height="12.61" fill="#0000ff"/>
<rect x="486.75" y="447.32" width="12.32" height="12.61" fill="#0000ff"/>
<rect x="497.57" y="447.32" width="12.82" height="12.61" fill="#0000ff"/>
<rect x="376.5" y="458.43" width="14.32" height="12.61" fill="#ff0000"/>
<rect x="389.32" y="458.43" width="12.32" height="12.61" fill="#0000ff"/>
<rect x="400.15" y="458.43" width="12.33" height="12.61" fill="#0000ff"/>
<rect x="410.98" y="458.43" width="12.32" height="12.61" fill="#ffffff"/>
<rect x="421.8" y="458.43" width="12.32" height="12.61" fill="#0000ff"/>
<rect x="432.62" y="458.43" width="12.32" height="12.61" fill="#0000ff"/>
<rect x="443.45" y="458.43" width="12.32" height="12.61" fill="#0000ff"/>
<rect x="454.27" y="458.43" width="12.32" height="12.61" fill="#0000ff"/>
<rect x="465.1" y="458.43" width="12.32" height="12.61" fill="#0000ff"/>
<rect x="475.92" y="458.43" width="12.33" height="12.61" fill="#0000ff"/>
<rect x="486.75" y="458.43" width="12.32" height="12.61" fill="#0000ff"/>
<rect x="497.57" y="458.43" width="12.82" height="12.61" fill="#0000ff"/>
<rect x="376.5" y="469.53" width="14.32" height="12.61" fill="#0000ff"/>
<rect x="389.32" y="469.53" width="12.32" height="12.61" fill="#ff0000"/>
<rect x="400.15" y="469.53" width="12.33" height="12.61" fill="#0000ff"/>
<rect x="410.98" y="469.53" width="12.32" height="12.61" fill="#0000ff"/>
<rect x="421.8" y="469.53" width="12.32" height="12.61" fill="#ffffff"/>
<rect x="432.62" y="469.53" width="12.32" height="12.61" fill="#0000ff"/>
<rect x="443.45" y="469.53" width="12.32" height="12.61" fill="#ffff00"/>
<rect x="454.27" y="469.53" width="12.32" height="12.61" fill="#0000ff"/>
<rect x="465.1" y="469.53" width="12.32" height="12.61" fill="#0000ff"/>
<rect x="475.92" y="469.53" width="12.33" height="12.61" fill="#0000ff"/>
<rect x="486.75" y="469.53" width="12.32" height="12.61" fill="#0000ff"/>
<rect x="497.57" y="469.53" width="12.82" height="12.61" fill="#ffff00"/>
<rect x="376.5" y="480.64" width="14.32" height="12.61" fill="#0000ff"/>
<rect x="389.32" y="480.64" width="12.32" height="12.61" fill="#ffb300"/>
<rect x="400.15" y="480.64" width="12.33" height="12.61" fill="#ffb300"/>
<rect x="410.98" y="480.64" width="12.32" height="12.61" fill="#0000ff"/>
<rect x="421.8" y="480.64" width="12.32" height="12.61" fill="#0000ff"/>
<rect x="432.62" y="480.64" width="12.32" height="12.61" fill="#ffffff"/>
<rect x="443.45" y="480.64" width="12.32" height="12.61" fill="#0000ff"/>
<rect x="454.27" y="480.64" width="12.32" height="12.61" fill="#0000ff"/>
<rect x="465.1" y="480.64" width="12.32" height="12.61" fill="#0000ff"/>
<rect x="475.92" y="480.64" width="12.33" height="12.61" fill="#0000ff"/>
<rect x="486.75" y="480.64" width="12.32" height="12.61" fill="#ffff00"/>
<rect x="497.57" y="480.64" width="12.82" height="12.61" fill="#0000ff"/>
<rect x="376.5" y="491.75" width="14.32" height="12.61" fill="#0000ff"/>
<rect x="389.32" y="491.75" width="12.32" height="12.61" fill="#ffff00"/>
<rect x="400.15" y="491.75" width="12.33" height="12.61" fill="#0000ff"/>
<rect x="410.98" y="491.75" width="12.32" height="12.61" fill="#0000ff"/>
<rect x="421.8" y="491.75" width="12.32" height="12.61" fill="#ffff00"/>
<rect x="432.62" y="491.75" width="12.32" height="12.61" fill="#0000ff"/>
<rect x="443.45" y="491.75" width="12.32" height="12.61" fill="#ffffff"/>
<rect x="454.27" y="491.75" width="12.32" height="12.61" fill="#0000ff"/>
<rect x="465.1" y="491.75" width="12.32" height="12.61" fill="#0000ff"/>
<rect x="475.92" y="491.75" width="12.33" height="12.61" fill="#0000ff"/>
<rect x="486.75" y="491.75" width="12.32" height="12.61" fill="#0000ff"/>
<rect x="497.57" y="491.75" width="12.82" height="12.61" fill="#ffff00"/>
<rect x="376.5" y="502.86" width="14.32" height="12.61" fill="#0000ff"/>
<rect x="389.32" y="502.86" width="12.32" height="12.61" fill="#0000ff"/>
<rect x="400.15" y="502.86" width="12.33" height="12.61" fill="#0000ff"/>
<rect x="410.98" y="502.86" width="12.32" height="12.61" fill="#0000ff"/>
<rect x="421.8" y="502.86" width="12.32" height="12.61" fill="#0000ff"/>
<rect x="432.62" y="502.86" width="12.32" height="12.61" fill="#0000ff"/>
<rect x="443.45" y="502.86" width="12.32" height="12.61" fill="#0000ff"/>
<rect x="454.27" y="502.86" width="12.32" height="12.61" fill="#ffffff"/>
<rect x="465.1" y="502.86" width="12.32" height="12.61" fill="#0000ff"/>
<rect x="475.92" y="502.86" width="12.33" height="12.61" fill="#0000ff"/>
<rect x="486.75" y="502.86" width="12.32" height="12.61" fill="#0000ff"/>
<rect x="497.57" y="502.86" width="12.82" height="12.61" fill="#0000ff"/>
<rect x="376.5" y="513.97" width="14.32" height="12.61" fill="#0000ff"/>
<rect x="389.32" y="513.97" width="12.32" height="12.61" fill="#0000ff"/>
<rect x="400.15" y="513.97" width="12.33" height="12.61" fill="#0000ff"/>
<rect x="410.98" y="513.97" width="12.32" height="12.61" fill="#0000ff"/>
<rect x="421.8" y="513.97" width="12.32" height="12.61" fill="#0000ff"/>
<rect x="432.62" y="513.97" width="12.32" height="12.61" fill="#0000ff"/>
<rect x="443.45" y="513.97" width="12.32" height="12.61" fill="#0000ff"/>
<rect x="454.27" y="513.97" width="12.32" height="12.61" fill="#0000ff"/>
<rect x="465.1" y="513.97" width="12.32" height="12.61" fill="#ffffff"/>
<rect x="475.92" y="513.97" width="12.33" height="12.61" fill="#0000ff"/>
<rect x="486.75" y="513.97" width="12.32" height="12.61" fill="#ffff00"/>
<rect x="497.57" y="513.97" width="12.82" height="12.61" fill="#0000ff"/>
<rect x="376.5" y="525.08" width="14.32" height="12.61" fill="#0000ff"/>
<rect x="389.32" y="525.08" width="12.32" height="12.61" fill="#ffb300"/>
<rect x="400.15" y="525.08" width="12.33" height="12.61" fill="#0000ff"/>
<rect x="410.98" y="525.08" width="12.32" height="12.61" fill="#0000ff"/>
<rect x="421.8" y="525.08" width="12.32" height="12.61" fill="#0000ff"/>
<rect x="432.62" y="525.08" width="12.32" height="12.61" fill="#0000ff"/>
<rect x="443.45" y="525.08" width="12.32" height="12.61" fill="#0000ff"/>
<rect x="454.27" y="525.08" width="12.32" height="12.61" fill="#0000ff"/>
<rect x="465.1" y="525.08" width="12.32" height="12.61" fill="#0000ff"/>
<rect x="475.92" y="525.08" width="12.33" height="12.61" fill="#ffffff"/>
<rect x="486.75" y="525.08" width="12.32" height="12.61" fill="#ff0000"/>
<rect x="497.57" y="525.08" width="12.82" height="12.61" fill="#0000ff"/>
<rect x="376.5" y="536.18" width="14.32" height="12.61" fill="#0000ff"/>
<rect x="389.32" y="536.18" width="12.32" height="12.61" fill="#0000ff"/>
<rect x="400.15" y="536.18" width="12.33" height="12.61" fill="#0000ff"/>
<rect x="410.98" y="536.18" width="12.32" height="12.61" fill="#0000ff"/>
<rect x="421.8" y="536.18" width="12.32" height="12.61" fill="#0000ff"/>
<rect x="432.62" y="536.18" width="12.32" height="12.61" fill="#ffff00"/>
<rect x="443.45" y="536.18" width="12.32" height="12.61" fill="#0000ff"/>
<rect x="454.27" y="536.18" width="12.32" height="12.61" fill="#0000ff"/>
<rect x="465.1" y="536.18" width="12.32" height="12.61" fill="#ffff00"/>
<rect x="475.92" y="536.18" width="12.33" height="12.61" fill="#ff0000"/>
<rect x="486.75" y="536.18" width="12.32" height="12.61" fill="#ffffff"/>
<rect x="497.57" y="536.18" width="12.82" height="12.61" fill="#ffb300"/>
<rect x="376.5" y="547.29" width="14.32" height="13.11" fill="#0000ff"/>
<rect x="389.32" y="547.29" width="12.32" height="13.11" fill="#0000ff"/>
<rect x="400.15" y="547.29" width="12.33" height="13.11" fill="#0000ff"/>
<rect x="410.98" y="547.29" width="12.32" height="13.11" fill="#0000ff"/>
<rect x="421.8" y="547.29" width="12.32" height="13.11" fill="#ffff00"/>
<rect x="432.62" y="547.29" width="12.32" height="13.11" fill="#0000ff"/>
<rect x="443.45" y="547.29" width="12.32" height="13.11" fill="#ffff00"/>
<rect x="454.27" y="547.29" width="12.32" height="13.11" fill="#0000ff"/>
<rect x="465.1" y="547.29" width="12.32" height="13.11" fill="#0000ff"/>
<rect x="475.92" y="547.29" width="12.33" height="13.11" fill="#0000ff"/>
<rect x="486.75" y="547.29" width="12.32" height="13.11" fill="#ffb300"/>
<rect x="497.57" y="547.29" width="12.82" height="13.11" fill="#ffffff"/>
</g>
<g mask="url(#md4)">
<rect x="535.63" y="424" width="14.33" height="14.53" fill="#0000ff"/>
<rect x="548.46" y="424" width="12.33" height="14.53" fill="#ffff00"/>
<rect x="559.29" y="424" width="12.33" height="14.53" fill="#ff0000"/>
<rect x="570.12" y="424" width="12.33" height="14.53" fill="#0000ff"/>
<rect x="580.95" y="424" width="12.33" height="14.53" fill="#ffff00"/>
<rect x="591.77" y="424" width="12.33" height="14.53" fill="#0000ff"/>
<rect x="602.6" y="424" width="12.33" height="14.53" fill="#0000ff"/>
<rect x="613.43" y="424" width="12.33" height="14.53" fill="#0000ff"/>
<rect x="624.26" y="424" width="12.33" height="14.53" fill="#0000ff"/>
<rect x="635.09" y="424" width="12.33" height="14.53" fill="#ffb300"/>
<rect x="645.92" y="424" width="12.83" height="14.53" fill="#ffb300"/>
<rect x="524.8" y="435.03" width="14.33" height="14.53" fill="#0000ff"/>
<rect x="537.63" y="437.03" width="12.33" height="12.53" fill="#ffffff"/>
<rect x="548.46" y="437.03" width="12.33" height="12.53" fill="#ffb300"/>
<rect x="559.29" y="437.03" width="12.33" height="12.53" fill="#0000ff"/>
<rect x="570.12" y="437.03" width="12.33" height="12.53" fill="#ff0000"/>
<rect x="580.95" y="437.03" width="12.33" height="12.53" fill="#ff0000"/>
<rect x="591.77" y="437.03" width="12.33" height="12.53" fill="#ffb300"/>
<rect x="602.6" y="437.03" width="12.33" height="12.53" fill="#0000ff"/>
<rect x="613.43" y="437.03" width="12.33" height="12.53" fill="#0000ff"/>
<rect x="624.26" y="437.03" width="12.33" height="12.53" fill="#ffff00"/>
<rect x="635.09" y="437.03" width="12.33" height="12.53" fill="#0000ff"/>
<rect x="645.92" y="437.03" width="12.83" height="12.53" fill="#0000ff"/>
<rect x="524.8" y="448.07" width="14.33" height="12.53" fill="#ffff00"/>
<rect x="537.63" y="448.07" width="12.33" height="12.53" fill="#ffb300"/>
<rect x="548.46" y="448.07" width="12.33" height="12.53" fill="#ffffff"/>
<rect x="559.29" y="448.07" width="12.33" height="12.53" fill="#0000ff"/>
<rect x="570.12" y="448.07" width="12.33" height="12.53" fill="#0000ff"/>
<rect x="580.95" y="448.07" width="12.33" height="12.53" fill="#ffb300"/>
<rect x="591.77" y="448.07" width="12.33" height="12.53" fill="#0000ff"/>
<rect x="602.6" y="448.07" width="12.33" height="12.53" fill="#0000ff"/>
<rect x="613.43" y="448.07" width="12.33" height="12.53" fill="#0000ff"/>
<rect x="624.26" y="448.07" width="12.33" height="12.53" fill="#0000ff"/>
<rect x="635.09" y="448.07" width="12.33" height="12.53" fill="#0000ff"/>
<rect x="645.92" y="448.07" width="12.83" height="12.53" fill="#0000ff"/>
<rect x="524.8" y="459.1" width="14.33" height="12.53" fill="#ff0000"/>
<rect x="537.63" y="459.1" width="12.33" height="12.53" fill="#0000ff"/>
<rect x="548.46" y="459.1" width="12.33" height="12.53" fill="#0000ff"/>
<rect x="559.29" y="459.1" width="12.33" height="12.53" fill="#ffffff"/>
<rect x="570.12" y="459.1" width="12.33" height="12.53" fill="#0000ff"/>
<rect x="580.95" y="459.1" width="12.33" height="12.53" fill="#0000ff"/>
<rect x="591.77" y="459.1" width="12.33" height="12.53" fill="#ffb300"/>
<rect x="602.6" y="459.1" width="12.33" height="12.53" fill="#0000ff"/>
<rect x="613.43" y="459.1" width="12.33" height="12.53" fill="#0000ff"/>
<rect x="624.26" y="459.1" width="12.33" height="12.53" fill="#0000ff"/>
<rect x="635.09" y="459.1" width="12.33" height="12.53" fill="#0000ff"/>
<rect x="645.92" y="459.1" width="12.83" height="12.53" fill="#0000ff"/>
<rect x="524.8" y="470.13" width="14.33" height="12.53" fill="#0000ff"/>
<rect x="537.63" y="470.13" width="12.33" height="12.53" fill="#ff0000"/>
<rect x="548.46" y="470.13" width="12.33" height="12.53" fill="#0000ff"/>
<rect x="559.29" y="470.13" width="12.33" height="12.53" fill="#0000ff"/>
<rect x="570.12" y="470.13" width="12.33" height="12.53" fill="#ffffff"/>
<rect x="580.95" y="470.13" width="12.33" height="12.53" fill="#0000ff"/>
<rect x="591.77" y="470.13" width="12.33" height="12.53" fill="#0000ff"/>
<rect x="602.6" y="470.13" width="12.33" height="12.53" fill="#0000ff"/>
<rect x="613.43" y="470.13" width="12.33" height="12.53" fill="#0000ff"/>
<rect x="624.26" y="470.13" width="12.33" height="12.53" fill="#0000ff"/>
<rect x="635.09" y="470.13" width="12.33" height="12.53" fill="#0000ff"/>
<rect x="645.92" y="470.13" width="12.83" height="12.53" fill="#ffff00"/>
<rect x="524.8" y="481.17" width="14.33" height="12.53" fill="#ffff00"/>
<rect x="537.63" y="481.17" width="12.33" height="12.53" fill="#ff0000"/>
<rect x="548.46" y="481.17" width="12.33" height="12.53" fill="#ffb300"/>
<rect x="559.29" y="481.17" width="12.33" height="12.53" fill="#0000ff"/>
<rect x="570.12" y="481.17" width="12.33" height="12.53" fill="#0000ff"/>
<rect x="580.95" y="481.17" width="12.33" height="12.53" fill="#ffffff"/>
<rect x="591.77" y="481.17" width="12.33" height="12.53" fill="#0000ff"/>
<rect x="602.6" y="481.17" width="12.33" height="12.53" fill="#ffff00"/>
<rect x="613.43" y="481.17" width="12.33" height="12.53" fill="#0000ff"/>
<rect x="624.26" y="481.17" width="12.33" height="12.53" fill="#0000ff"/>
<rect x="635.09" y="481.17" width="12.33" height="12.53" fill="#ffff00"/>
<rect x="645.92" y="481.17" width="12.83" height="12.53" fill="#0000ff"/>
<rect x="524.8" y="492.2" width="14.33" height="12.53" fill="#0000ff"/>
<rect x="537.63" y="492.2" width="12.33" height="12.53" fill="#ffb300"/>
<rect x="548.46" y="492.2" width="12.33" height="12.53" fill="#0000ff"/>
<rect x="559.29" y="492.2" width="12.33" height="12.53" fill="#ffb300"/>
<rect x="570.12" y="492.2" width="12.33" height="12.53" fill="#0000ff"/>
<rect x="580.95" y="492.2" width="12.33" height="12.53" fill="#0000ff"/>
<rect x="591.77" y="492.2" width="12.33" height="12.53" fill="#ffffff"/>
<rect x="602.6" y="492.2" width="12.33" height="12.53" fill="#0000ff"/>
<rect x="613.43" y="492.2" width="12.33" height="12.53" fill="#0000ff"/>
<rect x="624.26" y="492.2" width="12.33" height="12.53" fill="#0000ff"/>
<rect x="635.09" y="492.2" width="12.33" height="12.53" fill="#ffb300"/>
<rect x="645.92" y="492.2" width="12.83" height="12.53" fill="#ff0000"/>
<rect x="524.8" y="503.23" width="14.33" height="12.53" fill="#0000ff"/>
<rect x="537.63" y="503.23" width="12.33" height="12.53" fill="#0000ff"/>
<rect x="548.46" y="503.23" width="12.33" height="12.53" fill="#0000ff"/>
<rect x="559.29" y="503.23" width="12.33" height="12.53" fill="#0000ff"/>
<rect x="570.12" y="503.23" width="12.33" height="12.53" fill="#0000ff"/>
<rect x="580.95" y="503.23" width="12.33" height="12.53" fill="#ffff00"/>
<rect x="591.77" y="503.23" width="12.33" height="12.53" fill="#0000ff"/>
<rect x="602.6" y="503.23" width="12.33" height="12.53" fill="#ffffff"/>
<rect x="613.43" y="503.23" width="12.33" height="12.53" fill="#0000ff"/>
<rect x="624.26" y="503.23" width="12.33" height="12.53" fill="#ffb300"/>
<rect x="635.09" y="503.23" width="12.33" height="12.53" fill="#ffff00"/>
<rect x="645.92" y="503.23" width="12.83" height="12.53" fill="#0000ff"/>
<rect x="524.8" y="514.27" width="14.33" height="12.53" fill="#0000ff"/>
<rect x="537.63" y="514.27" width="12.33" height="12.53" fill="#0000ff"/>
<rect x="548.46" y="514.27" width="12.33" height="12.53" fill="#0000ff"/>
<rect x="559.29" y="514.27" width="12.33" height="12.53" fill="#0000ff"/>
<rect x="570.12" y="514.27" width="12.33" height="12.53" fill="#0000ff"/>
<rect x="580.95" y="514.27" width="12.33" height="12.53" fill="#0000ff"/>
<rect x="591.77" y="514.27" width="12.33" height="12.53" fill="#0000ff"/>
<rect x="602.6" y="514.27" width="12.33" height="12.53" fill="#0000ff"/>
<rect x="613.43" y="514.27" width="12.33" height="12.53" fill="#ffffff"/>
<rect x="624.26" y="514.27" width="12.33" height="12.53" fill="#0000ff"/>
<rect x="635.09" y="514.27" width="12.33" height="12.53" fill="#0000ff"/>
<rect x="645.92" y="514.27" width="12.83" height="12.53" fill="#0000ff"/>
<rect x="524.8" y="525.3" width="14.33" height="12.53" fill="#0000ff"/>
<rect x="537.63" y="525.3" width="12.33" height="12.53" fill="#ffff00"/>
<rect x="548.46" y="525.3" width="12.33" height="12.53" fill="#0000ff"/>
<rect x="559.29" y="525.3" width="12.33" height="12.53" fill="#0000ff"/>
<rect x="570.12" y="525.3" width="12.33" height="12.53" fill="#0000ff"/>
<rect x="580.95" y="525.3" width="12.33" height="12.53" fill="#0000ff"/>
<rect x="591.77" y="525.3" width="12.33" height="12.53" fill="#0000ff"/>
<rect x="602.6" y="525.3" width="12.33" height="12.53" fill="#ffb300"/>
<rect x="613.43" y="525.3" width="12.33" height="12.53" fill="#0000ff"/>
<rect x="624.26" y="525.3" width="12.33" height="12.53" fill="#ffffff"/>
<rect x="635.09" y="525.3" width="12.33" height="12.53" fill="#ff0000"/>
<rect x="645.92" y="525.3" width="12.83" height="12.53" fill="#0000ff"/>
<rect x="524.8" y="536.33" width="14.33" height="12.53" fill="#ffb300"/>
<rect x="537.63" y="536.33" width="12.33" height="12.53" fill="#0000ff"/>
<rect x="548.46" y="536.33" width="12.33" height="12.53" fill="#0000ff"/>
<rect x="559.29" y="536.33" width="12.33" height="12.53" fill="#0000ff"/>
<rect x="570.12" y="536.33" width="12.33" height="12.53" fill="#0000ff"/>
<rect x="580.95" y="536.33" width="12.33" height="12.53" fill="#ffff00"/>
<rect x="591.77" y="536.33" width="12.33" height="12.53" fill="#ffb300"/>
<rect x="602.6" y="536.33" width="12.33" height="12.53" fill="#ffff00"/>
<rect x="613.43" y="536.33" width="12.33" height="12.53" fill="#0000ff"/>
<rect x="624.26" y="536.33" width="12.33" height="12.53" fill="#ff0000"/>
<rect x="635.09" y="536.33" width="12.33" height="12.53" fill="#ffffff"/>
<rect x="645.92" y="536.33" width="12.83" height="12.53" fill="#ff0000"/>
<rect x="524.8" y="547.37" width="14.33" height="13.03" fill="#ffb300"/>
<rect x="537.63" y="547.37" width="12.33" height="13.03" fill="#0000ff"/>
<rect x="548.46" y="547.37" width="12.33" height="13.03" fill="#0000ff"/>
<rect x="559.29" y="547.37" width="12.33" height="13.03" fill="#0000ff"/>
<rect x="570.12" y="547.37" width="12.33" height="13.03" fill="#ffff00"/>
<rect x="580.95" y="547.37" width="12.33" height="13.03" fill="#0000ff"/>
<rect x="591.77" y="547.37" width="12.33" height="13.03" fill="#ff0000"/>
<rect x="602.6" y="547.37" width="12.33" height="13.03" fill="#0000ff"/>
<rect x="613.43" y="547.37" width="12.33" height="13.03" fill="#0000ff"/>
<rect x="624.26" y="547.37" width="12.33" height="13.03" fill="#0000ff"/>
<rect x="635.09" y="547.37" width="12.33" height="13.03" fill="#ff0000"/>
<rect x="645.92" y="547.37" width="12.83" height="13.03" fill="#ffffff"/>
</g>
</g>
<g id="axes" stroke="#6b6b6b" fill="none" stroke-width="1.5">
<line x1="43.7" y1="3" x2="43.7" y2="579.4"/>
<line x1="43" y1="579.6" x2="682" y2="579.6"/>
<polyline points="40.5,7.6 43.7,2.5 46.9,7.6" stroke="#3a3a3a" stroke-width="1.2" stroke-linecap="round" stroke-linejoin="round"/>
<polyline points="677.2,576.4 682.1,579.6 677.2,582.8" stroke="#3a3a3a" stroke-width="1.2" stroke-linecap="round" stroke-linejoin="round"/>
</g>
<g id="ticks" stroke="#262626" stroke-width="1.4">
<line x1="39" y1="102.3" x2="43" y2="102.3"/>
<line x1="40" y1="233.6" x2="43" y2="233.6"/>
<line x1="40" y1="355.2" x2="43" y2="355.2"/>
<line x1="40" y1="492.5" x2="43" y2="492.5"/>
<line x1="137.8" y1="580" x2="137.8" y2="583.7"/>
<line x1="291.5" y1="580" x2="291.5" y2="583.7"/>
<line x1="445.7" y1="580" x2="445.7" y2="583.7"/>
<line x1="590.6" y1="578.5" x2="590.6" y2="583.7"/>
</g>
<g id="legend">
<rect x="78.4" y="1.4" width="16.7" height="17.2" fill="#ff0000"/>
<rect x="165.2" y="3" width="16.7" height="16.9" fill="#ffb300"/>
<rect x="294.9" y="4" width="16" height="15.9" fill="#ffff00"/>
<rect x="414.3" y="2.85" width="15.4" height="15.95" fill="#0000ff"/>
<g stroke="#262626" stroke-width="0.35">
<text x="104.4" y="16.5" font-size="14.5" textLength="54.6" lengthAdjust="spacingAndGlyphs">P &lt; 0.001</text>
<text x="195.3" y="16.7" font-size="14.5" textLength="34.2" lengthAdjust="spacingAndGlyphs">0.001</text>
<text x="229.9" y="16.6" font-size="15.5" textLength="7.2" lengthAdjust="spacingAndGlyphs">&#8804;</text>
<text x="241.2" y="16.7" font-size="14.5" textLength="47.8" lengthAdjust="spacingAndGlyphs">P &lt; 0.01</text>
<text x="320.2" y="15.4" font-size="14.5" textLength="27.5" lengthAdjust="spacingAndGlyphs">0.01</text>
<text x="347.8" y="15.3" font-size="15.5" textLength="7.2" lengthAdjust="spacingAndGlyphs">&#8804;</text>
<text x="358.6" y="15.4" font-size="14.5" textLength="47" lengthAdjust="spacingAndGlyphs">P &lt; 0.05</text>
<text x="438.8" y="14.1" font-size="14.5" textLength="8.4" lengthAdjust="spacingAndGlyphs">P</text>
<text x="448.5" y="14.2" font-size="15.5" textLength="6.6" lengthAdjust="spacingAndGlyphs">&#8805;</text>
<text x="454.8" y="14.1" font-size="14.5" textLength="28.8" lengthAdjust="spacingAndGlyphs">0.05</text>
</g>
</g>
<g id="ylabels" font-weight="bold">
<g stroke="#1a1a1a" stroke-width="0.45">
<text x="24.8" y="103.2" font-size="14">&#946;</text>
<text x="24.8" y="237.7" font-size="14">&#945;</text>
<text x="0" y="0" font-size="14" transform="translate(25.3 361.2) scale(1.15 1)">&#952;</text>
<text x="25.4" y="495.9" font-size="14">&#948;</text>
</g>
<text x="13.2" y="392.7" font-size="14" transform="rotate(-90 13.2 392.7)" textLength="127" lengthAdjust="spacingAndGlyphs" stroke="#1a1a1a" stroke-width="0.3">Frequency Band (Hz)</text>
</g>
<g id="xlabels">
<text class="s" x="127.9" y="595" font-size="14.5" font-weight="bold">&#916;</text><text class="s" x="137.5" y="595" font-size="15" font-weight="bold" font-style="italic">t</text><text class="s" x="143.7" y="598.5" font-size="11.5" font-weight="bold">1</text>
<text class="s" x="279.6" y="595" font-size="14.5" font-weight="bold">&#916;</text><text class="s" x="289.2" y="595" font-size="15" font-weight="bold" font-style="italic">t</text><text class="s" x="295.4" y="598.5" font-size="11.5" font-weight="bold">2</text>
<text class="s" x="434.9" y="595" font-size="14.5" font-weight="bold">&#916;</text><text class="s" x="444.5" y="595" font-size="15" font-weight="bold" font-style="italic">t</text><text class="s" x="450.7" y="598.5" font-size="11.5" font-weight="bold">3</text>
<text class="s" x="579.9" y="595" font-size="14.5" font-weight="bold">&#916;</text><text class="s" x="589.5" y="595" font-size="15" font-weight="bold" font-style="italic">t</text><text class="s" x="595.7" y="598.5" font-size="11.5" font-weight="bold">4</text>
<text x="340.2" y="612.9" font-size="14" font-weight="bold" textLength="48.8" lengthAdjust="spacingAndGlyphs" stroke="#1a1a1a" stroke-width="0.3">Time (s)</text>
</g>
</svg></div></body></html>
